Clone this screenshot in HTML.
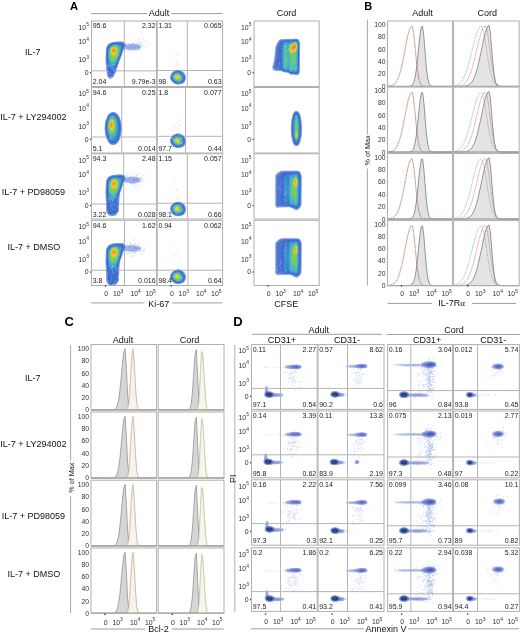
<!DOCTYPE html>
<html><head><meta charset="utf-8"><style>
html,body{margin:0;padding:0;background:#fff;}
body{width:520px;height:633px;overflow:hidden;}
svg{display:block;font-family:"Liberation Sans", sans-serif;will-change:transform;}
</style></head><body>
<svg width="520" height="633" viewBox="0 0 520 633">
<defs><filter id="jet" x="-30%" y="-30%" width="160%" height="160%" color-interpolation-filters="sRGB"><feGaussianBlur in="SourceAlpha" stdDeviation="1.0" result="d"/><feColorMatrix in="d" type="matrix" values="0 0 0 1 0 0 0 0 1 0 0 0 0 1 0 0 0 0 1 0"/><feComponentTransfer><feFuncR type="table" tableValues="1.000 0.794 0.588 0.523 0.458 0.392 0.341 0.312 0.282 0.253 0.235 0.233 0.231 0.230 0.228 0.230 0.234 0.238 0.243 0.247 0.251 0.308 0.365 0.423 0.480 0.543 0.629 0.716 0.803 0.889 0.941 0.941 0.941 0.941 0.941 0.931 0.920 0.910 0.899 0.889 0.878"/><feFuncG type="table" tableValues="1.000 0.837 0.675 0.623 0.572 0.521 0.480 0.456 0.431 0.407 0.405 0.438 0.471 0.503 0.536 0.568 0.598 0.629 0.660 0.691 0.722 0.738 0.754 0.771 0.787 0.801 0.804 0.807 0.810 0.814 0.787 0.716 0.645 0.573 0.502 0.446 0.390 0.333 0.277 0.221 0.165"/><feFuncB type="table" tableValues="1.000 0.955 0.910 0.891 0.873 0.854 0.838 0.825 0.813 0.800 0.797 0.808 0.820 0.831 0.842 0.840 0.829 0.818 0.807 0.796 0.784 0.690 0.596 0.502 0.408 0.327 0.297 0.267 0.237 0.206 0.183 0.168 0.154 0.140 0.125 0.118 0.110 0.102 0.094 0.086 0.078"/><feFuncA type="table" tableValues="0.000 0.125 0.750 1.000 1.000 1.000 1.000 1.000 1.000 1.000 1.000 1.000 1.000 1.000 1.000 1.000 1.000 1.000 1.000 1.000 1.000 1.000 1.000 1.000 1.000 1.000 1.000 1.000 1.000 1.000 1.000 1.000 1.000 1.000 1.000 1.000 1.000 1.000 1.000 1.000 1.000"/></feComponentTransfer></filter><filter id="dmap" x="-30%" y="-30%" width="160%" height="160%" color-interpolation-filters="sRGB"><feGaussianBlur in="SourceAlpha" stdDeviation="0.8" result="d"/><feColorMatrix in="d" type="matrix" values="0 0 0 1 0 0 0 0 1 0 0 0 0 1 0 0 0 0 1 0"/><feComponentTransfer><feFuncR type="table" tableValues="1.000 0.890 0.779 0.669 0.619 0.585 0.550 0.516 0.481 0.446 0.412 0.384 0.356 0.327 0.299 0.271 0.243 0.218 0.192 0.167 0.141 0.133 0.125 0.118 0.110 0.126 0.142 0.159 0.175 0.198 0.244 0.291 0.338 0.385 0.431 0.484 0.536 0.588 0.641 0.693 0.745"/><feFuncG type="table" tableValues="1.000 0.906 0.811 0.717 0.674 0.643 0.612 0.582 0.551 0.521 0.490 0.462 0.434 0.406 0.378 0.350 0.322 0.296 0.271 0.245 0.220 0.220 0.220 0.220 0.220 0.270 0.321 0.372 0.422 0.472 0.519 0.566 0.612 0.659 0.706 0.735 0.765 0.794 0.824 0.853 0.882"/><feFuncB type="table" tableValues="1.000 0.967 0.934 0.901 0.884 0.870 0.857 0.844 0.830 0.817 0.804 0.782 0.761 0.739 0.718 0.696 0.675 0.631 0.588 0.545 0.502 0.473 0.443 0.414 0.384 0.409 0.433 0.458 0.482 0.510 0.549 0.588 0.627 0.667 0.706 0.732 0.758 0.784 0.810 0.837 0.863"/><feFuncA type="table" tableValues="0.000 0.063 0.375 0.687 1.000 1.000 1.000 1.000 1.000 1.000 1.000 1.000 1.000 1.000 1.000 1.000 1.000 1.000 1.000 1.000 1.000 1.000 1.000 1.000 1.000 1.000 1.000 1.000 1.000 1.000 1.000 1.000 1.000 1.000 1.000 1.000 1.000 1.000 1.000 1.000 1.000"/></feComponentTransfer></filter></defs>
<text x="70.00" y="9.60" font-size="11.2" text-anchor="start" font-weight="bold" fill="#000" >A</text>
<text x="159.00" y="16.20" font-size="9" text-anchor="middle" font-weight="normal" fill="#111" >Adult</text>
<line x1="91.20" y1="13.60" x2="147.30" y2="13.60" stroke="#9c9c9c" stroke-width="1" />
<line x1="171.20" y1="13.60" x2="222.40" y2="13.60" stroke="#9c9c9c" stroke-width="1" />
<text x="286.50" y="16.20" font-size="9" text-anchor="middle" font-weight="normal" fill="#111" >Cord</text>
<line x1="124.30" y1="21.00" x2="124.30" y2="86.50" stroke="#b4b4b4" stroke-width="1" />
<line x1="91.50" y1="70.90" x2="156.60" y2="70.90" stroke="#b4b4b4" stroke-width="1" />
<line x1="187.30" y1="21.00" x2="187.30" y2="86.50" stroke="#b4b4b4" stroke-width="1" />
<line x1="157.20" y1="70.50" x2="222.60" y2="70.50" stroke="#b4b4b4" stroke-width="1" />
<line x1="121.70" y1="87.50" x2="121.70" y2="153.00" stroke="#b4b4b4" stroke-width="1" />
<line x1="91.50" y1="137.00" x2="156.60" y2="137.00" stroke="#b4b4b4" stroke-width="1" />
<line x1="185.50" y1="87.50" x2="185.50" y2="153.00" stroke="#b4b4b4" stroke-width="1" />
<line x1="157.20" y1="136.30" x2="222.60" y2="136.30" stroke="#b4b4b4" stroke-width="1" />
<line x1="123.70" y1="153.80" x2="123.70" y2="219.00" stroke="#b4b4b4" stroke-width="1" />
<line x1="91.50" y1="204.00" x2="156.60" y2="204.00" stroke="#b4b4b4" stroke-width="1" />
<line x1="187.40" y1="153.80" x2="187.40" y2="219.00" stroke="#b4b4b4" stroke-width="1" />
<line x1="157.20" y1="203.20" x2="222.60" y2="203.20" stroke="#b4b4b4" stroke-width="1" />
<line x1="124.50" y1="220.30" x2="124.50" y2="285.50" stroke="#b4b4b4" stroke-width="1" />
<line x1="91.50" y1="270.20" x2="156.60" y2="270.20" stroke="#b4b4b4" stroke-width="1" />
<line x1="188.00" y1="220.30" x2="188.00" y2="285.50" stroke="#b4b4b4" stroke-width="1" />
<line x1="157.20" y1="270.20" x2="222.60" y2="270.20" stroke="#b4b4b4" stroke-width="1" />
<text x="32.80" y="54.70" font-size="9" text-anchor="middle" font-weight="normal" fill="#111" >IL-7</text>
<text x="33.40" y="120.00" font-size="9" text-anchor="middle" font-weight="normal" fill="#111" >IL-7 + LY294002</text>
<text x="33.40" y="195.00" font-size="9" text-anchor="middle" font-weight="normal" fill="#111" >IL-7 + PD98059</text>
<text x="34.00" y="249.90" font-size="9" text-anchor="middle" font-weight="normal" fill="#111" >IL-7 + DMSO</text>
<g filter="url(#jet)" fill="#000"><path d="M107.0,48.0 109.0,44.5 113.0,43.0 120.0,42.5 124.5,43.0 123.5,47.0 122.2,50.0 120.6,55.0 118.6,60.0 117.0,65.0 115.6,70.0 113.3,75.0 110.5,78.5 108.3,76.0 107.3,70.0 106.6,60.0Z" fill-opacity="0.28"/><path d="M108.5,50.0 111.0,46.0 118.0,45.0 122.0,46.0 120.0,55.0 117.0,63.0 113.0,68.0 109.0,66.0Z" fill-opacity="0.25"/><ellipse cx="113.80" cy="53.00" rx="5.20" ry="9.00" fill-opacity="0.3" transform="rotate(12 113.80 53.00)"/><ellipse cx="113.90" cy="51.00" rx="3.20" ry="4.50" fill-opacity="0.35"/><ellipse cx="114.00" cy="50.50" rx="1.50" ry="2.00" fill-opacity="0.5"/><ellipse cx="132.00" cy="47.00" rx="10.00" ry="4.00" fill-opacity="0.06"/></g>
<path d="M109.9 65.6h0.8v0.8h-0.8zM113.8 64.2h0.8v0.8h-0.8zM112.4 69.2h0.8v0.8h-0.8zM106.7 71.6h0.8v0.8h-0.8zM106.4 70.4h0.8v0.8h-0.8zM106.8 64.5h0.8v0.8h-0.8zM111.1 77.1h0.8v0.8h-0.8zM107.5 66.8h0.8v0.8h-0.8zM113.5 79.1h0.8v0.8h-0.8zM112.9 69.7h0.8v0.8h-0.8zM117.7 63.8h0.8v0.8h-0.8zM116.3 67.9h0.8v0.8h-0.8zM107.7 65.0h0.8v0.8h-0.8zM109.7 76.9h0.8v0.8h-0.8zM108.2 72.9h0.8v0.8h-0.8zM113.7 69.3h0.8v0.8h-0.8zM112.6 64.1h0.8v0.8h-0.8zM106.7 66.5h0.8v0.8h-0.8zM114.2 70.3h0.8v0.8h-0.8zM109.8 73.0h0.8v0.8h-0.8zM111.4 68.1h0.8v0.8h-0.8zM115.5 74.9h0.8v0.8h-0.8zM108.9 72.8h0.8v0.8h-0.8zM112.3 77.9h0.8v0.8h-0.8zM114.8 67.9h0.8v0.8h-0.8zM117.8 65.0h0.8v0.8h-0.8zM111.0 75.9h0.8v0.8h-0.8zM107.8 71.3h0.8v0.8h-0.8zM106.5 74.4h0.8v0.8h-0.8zM115.2 72.7h0.8v0.8h-0.8zM116.5 68.3h0.8v0.8h-0.8zM114.3 73.1h0.8v0.8h-0.8zM113.0 70.8h0.8v0.8h-0.8zM116.1 79.1h0.8v0.8h-0.8zM111.7 74.3h0.8v0.8h-0.8zM106.7 74.9h0.8v0.8h-0.8zM113.8 79.9h0.8v0.8h-0.8zM115.9 67.8h0.8v0.8h-0.8zM110.6 74.4h0.8v0.8h-0.8zM106.3 70.8h0.8v0.8h-0.8zM108.0 65.0h0.8v0.8h-0.8zM106.7 76.1h0.8v0.8h-0.8zM107.6 67.2h0.8v0.8h-0.8zM110.7 77.8h0.8v0.8h-0.8zM107.0 70.6h0.8v0.8h-0.8z" fill="#ffffff" opacity="0.45"/>
<path d="M122.1 44.0h0.8v0.8h-0.8zM137.6 41.2h0.8v0.8h-0.8zM132.0 47.9h0.8v0.8h-0.8zM125.8 49.4h0.8v0.8h-0.8zM136.0 45.1h0.8v0.8h-0.8zM134.8 47.1h0.8v0.8h-0.8zM133.7 48.2h0.8v0.8h-0.8zM129.4 44.5h0.8v0.8h-0.8zM138.7 45.6h0.8v0.8h-0.8zM128.2 47.8h0.8v0.8h-0.8zM141.1 44.4h0.8v0.8h-0.8zM125.4 45.2h0.8v0.8h-0.8zM132.2 44.8h0.8v0.8h-0.8zM140.7 43.0h0.8v0.8h-0.8zM139.9 42.5h0.8v0.8h-0.8zM128.7 47.0h0.8v0.8h-0.8zM139.2 47.6h0.8v0.8h-0.8zM134.9 45.8h0.8v0.8h-0.8zM133.8 46.9h0.8v0.8h-0.8zM132.0 46.2h0.8v0.8h-0.8zM136.1 45.5h0.8v0.8h-0.8zM137.2 46.9h0.8v0.8h-0.8zM144.1 46.3h0.8v0.8h-0.8zM130.6 44.6h0.8v0.8h-0.8zM132.9 47.7h0.8v0.8h-0.8zM131.1 46.4h0.8v0.8h-0.8zM143.1 39.3h0.8v0.8h-0.8zM126.8 46.1h0.8v0.8h-0.8zM135.2 46.1h0.8v0.8h-0.8zM130.6 47.1h0.8v0.8h-0.8zM134.6 44.2h0.8v0.8h-0.8zM146.4 46.4h0.8v0.8h-0.8zM130.0 45.3h0.8v0.8h-0.8zM131.8 45.3h0.8v0.8h-0.8zM118.0 44.3h0.8v0.8h-0.8zM138.5 42.7h0.8v0.8h-0.8zM132.6 47.8h0.8v0.8h-0.8zM137.7 49.1h0.8v0.8h-0.8zM123.6 44.7h0.8v0.8h-0.8zM131.1 47.0h0.8v0.8h-0.8zM139.0 39.1h0.8v0.8h-0.8zM139.0 42.0h0.8v0.8h-0.8zM136.8 41.9h0.8v0.8h-0.8zM134.0 48.4h0.8v0.8h-0.8zM132.2 46.0h0.8v0.8h-0.8zM137.4 45.8h0.8v0.8h-0.8zM132.5 49.2h0.8v0.8h-0.8zM138.8 44.8h0.8v0.8h-0.8zM148.1 42.7h0.8v0.8h-0.8zM138.0 44.9h0.8v0.8h-0.8zM133.7 47.2h0.8v0.8h-0.8zM134.2 47.0h0.8v0.8h-0.8zM124.6 41.9h0.8v0.8h-0.8zM136.4 43.2h0.8v0.8h-0.8zM127.4 42.0h0.8v0.8h-0.8zM140.0 47.3h0.8v0.8h-0.8zM141.1 43.2h0.8v0.8h-0.8zM133.0 42.8h0.8v0.8h-0.8zM137.2 49.3h0.8v0.8h-0.8zM128.1 49.2h0.8v0.8h-0.8zM138.4 45.1h0.8v0.8h-0.8zM122.2 48.9h0.8v0.8h-0.8zM132.5 44.1h0.8v0.8h-0.8zM135.2 46.5h0.8v0.8h-0.8zM141.2 43.1h0.8v0.8h-0.8zM139.2 49.1h0.8v0.8h-0.8zM141.0 45.1h0.8v0.8h-0.8zM128.9 47.9h0.8v0.8h-0.8zM133.6 45.8h0.8v0.8h-0.8zM140.8 44.9h0.8v0.8h-0.8zM120.4 44.6h0.8v0.8h-0.8zM122.8 47.5h0.8v0.8h-0.8zM134.7 44.0h0.8v0.8h-0.8zM132.9 47.5h0.8v0.8h-0.8zM133.4 48.7h0.8v0.8h-0.8zM132.7 48.0h0.8v0.8h-0.8zM141.2 49.4h0.8v0.8h-0.8zM129.3 47.6h0.8v0.8h-0.8zM122.7 42.9h0.8v0.8h-0.8zM122.2 48.1h0.8v0.8h-0.8zM126.2 45.5h0.8v0.8h-0.8zM131.9 45.4h0.8v0.8h-0.8zM129.7 46.1h0.8v0.8h-0.8zM142.9 45.6h0.8v0.8h-0.8zM135.9 47.9h0.8v0.8h-0.8zM131.9 42.5h0.8v0.8h-0.8zM129.9 48.1h0.8v0.8h-0.8zM123.9 44.1h0.8v0.8h-0.8zM138.5 47.4h0.8v0.8h-0.8zM133.0 47.4h0.8v0.8h-0.8zM133.9 42.7h0.8v0.8h-0.8zM124.4 44.0h0.8v0.8h-0.8zM138.1 44.1h0.8v0.8h-0.8zM128.0 43.6h0.8v0.8h-0.8zM124.6 45.2h0.8v0.8h-0.8zM126.5 46.4h0.8v0.8h-0.8zM120.0 46.3h0.8v0.8h-0.8zM129.5 40.8h0.8v0.8h-0.8zM137.0 44.8h0.8v0.8h-0.8zM120.7 43.4h0.8v0.8h-0.8zM134.6 44.4h0.8v0.8h-0.8zM137.3 47.3h0.8v0.8h-0.8zM136.7 46.3h0.8v0.8h-0.8zM140.3 47.1h0.8v0.8h-0.8zM135.5 40.5h0.8v0.8h-0.8zM137.9 48.6h0.8v0.8h-0.8zM131.4 44.4h0.8v0.8h-0.8zM143.7 41.3h0.8v0.8h-0.8zM135.6 51.3h0.8v0.8h-0.8zM127.9 47.2h0.8v0.8h-0.8z" fill="#5a7ad8" opacity="0.4"/>
<g filter="url(#jet)" fill="#000"><ellipse cx="178.00" cy="77.30" rx="6.80" ry="6.20" fill-opacity="0.3"/><ellipse cx="180.50" cy="79.80" rx="4.00" ry="3.00" fill-opacity="0.15"/><ellipse cx="177.50" cy="77.10" rx="5.00" ry="4.50" fill-opacity="0.3"/><ellipse cx="177.00" cy="76.90" rx="3.20" ry="3.00" fill-opacity="0.3"/><ellipse cx="176.80" cy="76.80" rx="1.80" ry="1.80" fill-opacity="0.4"/></g>
<path d="M184.9 81.3h0.8v0.8h-0.8zM173.3 76.5h0.8v0.8h-0.8zM178.2 75.4h0.8v0.8h-0.8zM173.7 75.1h0.8v0.8h-0.8zM181.1 71.5h0.8v0.8h-0.8zM178.8 76.6h0.8v0.8h-0.8zM171.3 75.3h0.8v0.8h-0.8zM179.7 77.4h0.8v0.8h-0.8zM171.9 83.1h0.8v0.8h-0.8zM182.0 83.0h0.8v0.8h-0.8zM172.5 74.5h0.8v0.8h-0.8zM171.6 80.6h0.8v0.8h-0.8zM174.8 72.9h0.8v0.8h-0.8zM176.9 82.2h0.8v0.8h-0.8zM182.5 74.4h0.8v0.8h-0.8zM173.1 82.3h0.8v0.8h-0.8zM179.0 79.7h0.8v0.8h-0.8zM172.3 72.0h0.8v0.8h-0.8zM180.6 76.4h0.8v0.8h-0.8zM172.0 82.6h0.8v0.8h-0.8zM179.9 80.9h0.8v0.8h-0.8zM172.2 81.6h0.8v0.8h-0.8zM171.9 81.7h0.8v0.8h-0.8zM177.4 75.4h0.8v0.8h-0.8zM178.7 82.4h0.8v0.8h-0.8z" fill="#ffffff" opacity="0.4"/>
<path d="M175.9 65.0h0.7v0.7h-0.7zM174.2 60.4h0.7v0.7h-0.7zM177.1 63.9h0.7v0.7h-0.7zM177.6 62.8h0.7v0.7h-0.7zM175.2 66.8h0.7v0.7h-0.7zM176.1 55.5h0.7v0.7h-0.7zM174.4 61.3h0.7v0.7h-0.7zM175.7 62.4h0.7v0.7h-0.7zM176.0 62.5h0.7v0.7h-0.7zM175.7 52.5h0.7v0.7h-0.7zM177.1 68.7h0.7v0.7h-0.7zM177.1 60.0h0.7v0.7h-0.7zM177.1 54.5h0.7v0.7h-0.7zM171.3 61.7h0.7v0.7h-0.7zM173.7 66.5h0.7v0.7h-0.7zM173.3 42.9h0.7v0.7h-0.7zM173.4 72.3h0.7v0.7h-0.7zM175.0 51.7h0.7v0.7h-0.7zM174.1 64.9h0.7v0.7h-0.7zM177.2 62.5h0.7v0.7h-0.7zM179.7 66.2h0.7v0.7h-0.7zM175.9 65.5h0.7v0.7h-0.7zM180.1 68.1h0.7v0.7h-0.7zM178.6 53.7h0.7v0.7h-0.7zM175.6 66.4h0.7v0.7h-0.7z" fill="#7090e0" opacity="0.35"/>
<g filter="url(#jet)" fill="#000"><ellipse cx="113.20" cy="128.50" rx="7.50" ry="15.50" fill-opacity="0.3"/><ellipse cx="112.60" cy="127.00" rx="5.20" ry="12.50" fill-opacity="0.25"/><ellipse cx="112.00" cy="126.00" rx="3.80" ry="9.00" fill-opacity="0.3"/><ellipse cx="111.50" cy="125.30" rx="2.40" ry="5.00" fill-opacity="0.35"/><ellipse cx="111.30" cy="125.00" rx="1.30" ry="2.60" fill-opacity="0.5"/></g>
<path d="M109.7 139.1h0.8v0.8h-0.8zM107.5 138.9h0.8v0.8h-0.8zM109.2 144.6h0.8v0.8h-0.8zM120.6 140.0h0.8v0.8h-0.8zM108.9 144.6h0.8v0.8h-0.8zM110.0 137.9h0.8v0.8h-0.8zM105.0 138.2h0.8v0.8h-0.8zM112.6 139.5h0.8v0.8h-0.8zM108.2 139.6h0.8v0.8h-0.8zM105.1 136.9h0.8v0.8h-0.8zM106.4 138.4h0.8v0.8h-0.8zM105.7 134.2h0.8v0.8h-0.8zM109.9 136.6h0.8v0.8h-0.8zM114.4 139.8h0.8v0.8h-0.8zM117.0 141.2h0.8v0.8h-0.8zM116.5 143.7h0.8v0.8h-0.8zM111.2 137.6h0.8v0.8h-0.8zM120.8 135.6h0.8v0.8h-0.8zM116.6 141.1h0.8v0.8h-0.8zM105.7 143.2h0.8v0.8h-0.8zM119.3 140.9h0.8v0.8h-0.8zM116.7 142.9h0.8v0.8h-0.8zM107.2 139.8h0.8v0.8h-0.8zM113.1 143.2h0.8v0.8h-0.8zM117.9 143.1h0.8v0.8h-0.8z" fill="#ffffff" opacity="0.4"/>
<g filter="url(#jet)" fill="#000"><ellipse cx="178.00" cy="140.80" rx="6.80" ry="6.20" fill-opacity="0.3"/><ellipse cx="180.50" cy="143.30" rx="4.00" ry="3.00" fill-opacity="0.15"/><ellipse cx="177.50" cy="140.60" rx="5.00" ry="4.50" fill-opacity="0.3"/><ellipse cx="177.00" cy="140.40" rx="3.20" ry="3.00" fill-opacity="0.3"/><ellipse cx="176.80" cy="140.30" rx="1.80" ry="1.80" fill-opacity="0.4"/></g>
<path d="M179.2 145.5h0.8v0.8h-0.8zM180.6 143.1h0.8v0.8h-0.8zM174.2 135.2h0.8v0.8h-0.8zM172.9 139.1h0.8v0.8h-0.8zM172.5 144.8h0.8v0.8h-0.8zM178.8 142.3h0.8v0.8h-0.8zM179.8 143.0h0.8v0.8h-0.8zM177.9 134.8h0.8v0.8h-0.8zM182.2 143.8h0.8v0.8h-0.8zM178.0 141.2h0.8v0.8h-0.8zM180.2 135.6h0.8v0.8h-0.8zM181.3 137.8h0.8v0.8h-0.8zM172.0 138.0h0.8v0.8h-0.8zM181.2 137.3h0.8v0.8h-0.8zM181.4 146.5h0.8v0.8h-0.8zM177.9 139.4h0.8v0.8h-0.8zM177.7 143.0h0.8v0.8h-0.8zM181.7 142.2h0.8v0.8h-0.8zM180.0 135.7h0.8v0.8h-0.8zM173.1 137.8h0.8v0.8h-0.8zM181.4 138.5h0.8v0.8h-0.8zM178.9 134.9h0.8v0.8h-0.8zM171.8 138.0h0.8v0.8h-0.8zM180.4 143.1h0.8v0.8h-0.8zM180.5 138.3h0.8v0.8h-0.8z" fill="#ffffff" opacity="0.4"/>
<path d="M173.2 124.0h0.7v0.7h-0.7zM174.8 125.5h0.7v0.7h-0.7zM177.3 121.9h0.7v0.7h-0.7zM181.8 122.5h0.7v0.7h-0.7zM178.8 125.7h0.7v0.7h-0.7zM178.8 108.2h0.7v0.7h-0.7zM174.1 126.5h0.7v0.7h-0.7zM177.5 141.2h0.7v0.7h-0.7zM176.8 133.8h0.7v0.7h-0.7zM177.9 131.4h0.7v0.7h-0.7zM177.3 123.7h0.7v0.7h-0.7zM177.3 117.3h0.7v0.7h-0.7zM179.0 117.7h0.7v0.7h-0.7zM176.6 139.6h0.7v0.7h-0.7zM175.4 124.9h0.7v0.7h-0.7zM178.9 125.0h0.7v0.7h-0.7zM174.0 126.6h0.7v0.7h-0.7zM177.5 129.8h0.7v0.7h-0.7zM174.1 137.1h0.7v0.7h-0.7zM180.2 124.9h0.7v0.7h-0.7zM176.7 121.8h0.7v0.7h-0.7zM179.5 119.9h0.7v0.7h-0.7zM177.7 121.4h0.7v0.7h-0.7zM174.3 129.8h0.7v0.7h-0.7zM179.3 124.7h0.7v0.7h-0.7z" fill="#7090e0" opacity="0.35"/>
<g filter="url(#jet)" fill="#000"><path d="M107.0,181.0 109.0,177.5 113.0,176.0 120.0,175.5 124.5,176.0 123.5,180.0 122.2,183.0 120.6,188.0 118.8,193.0 118.3,198.0 118.2,203.0 117.8,211.0 115.5,214.5 110.0,215.5 107.5,212.0 107.0,203.0 106.6,193.0Z" fill-opacity="0.28"/><path d="M108.5,183.0 111.0,179.0 118.0,178.0 122.0,179.0 120.0,188.0 117.0,196.0 113.0,201.0 109.0,199.0Z" fill-opacity="0.25"/><ellipse cx="113.80" cy="186.00" rx="5.20" ry="9.00" fill-opacity="0.3" transform="rotate(12 113.80 186.00)"/><ellipse cx="113.90" cy="184.00" rx="3.20" ry="4.50" fill-opacity="0.35"/><ellipse cx="114.00" cy="183.50" rx="1.50" ry="2.00" fill-opacity="0.5"/><ellipse cx="132.00" cy="180.00" rx="10.00" ry="4.00" fill-opacity="0.06"/></g>
<path d="M110.3 204.6h0.8v0.8h-0.8zM109.3 197.0h0.8v0.8h-0.8zM107.2 212.7h0.8v0.8h-0.8zM109.4 214.7h0.8v0.8h-0.8zM109.0 201.3h0.8v0.8h-0.8zM112.1 199.8h0.8v0.8h-0.8zM110.5 215.1h0.8v0.8h-0.8zM116.6 212.2h0.8v0.8h-0.8zM113.6 214.3h0.8v0.8h-0.8zM117.3 207.0h0.8v0.8h-0.8zM114.6 197.0h0.8v0.8h-0.8zM114.8 205.0h0.8v0.8h-0.8zM115.0 208.9h0.8v0.8h-0.8zM109.4 197.0h0.8v0.8h-0.8zM117.1 198.5h0.8v0.8h-0.8zM111.7 202.9h0.8v0.8h-0.8zM109.6 210.8h0.8v0.8h-0.8zM117.7 201.2h0.8v0.8h-0.8zM113.9 202.0h0.8v0.8h-0.8zM112.7 203.9h0.8v0.8h-0.8zM108.0 199.2h0.8v0.8h-0.8zM108.5 214.1h0.8v0.8h-0.8zM112.0 200.4h0.8v0.8h-0.8zM116.9 215.9h0.8v0.8h-0.8zM111.4 198.8h0.8v0.8h-0.8zM108.3 197.8h0.8v0.8h-0.8zM110.1 197.8h0.8v0.8h-0.8zM108.9 201.2h0.8v0.8h-0.8zM112.8 213.7h0.8v0.8h-0.8zM115.0 204.3h0.8v0.8h-0.8zM111.0 206.5h0.8v0.8h-0.8zM110.5 202.8h0.8v0.8h-0.8zM106.7 201.6h0.8v0.8h-0.8zM117.6 198.5h0.8v0.8h-0.8zM112.0 208.6h0.8v0.8h-0.8zM116.4 200.3h0.8v0.8h-0.8zM109.3 201.0h0.8v0.8h-0.8zM110.8 204.9h0.8v0.8h-0.8zM117.4 213.0h0.8v0.8h-0.8zM116.5 196.4h0.8v0.8h-0.8zM106.4 210.2h0.8v0.8h-0.8zM116.7 205.5h0.8v0.8h-0.8zM113.0 196.0h0.8v0.8h-0.8zM110.7 214.5h0.8v0.8h-0.8zM115.9 213.1h0.8v0.8h-0.8z" fill="#ffffff" opacity="0.45"/>
<path d="M137.1 179.1h0.8v0.8h-0.8zM135.5 180.7h0.8v0.8h-0.8zM124.8 178.8h0.8v0.8h-0.8zM141.2 177.5h0.8v0.8h-0.8zM127.4 174.9h0.8v0.8h-0.8zM126.3 180.6h0.8v0.8h-0.8zM142.3 181.0h0.8v0.8h-0.8zM134.4 187.1h0.8v0.8h-0.8zM130.1 177.2h0.8v0.8h-0.8zM135.9 181.4h0.8v0.8h-0.8zM127.4 175.5h0.8v0.8h-0.8zM134.6 180.3h0.8v0.8h-0.8zM125.8 178.8h0.8v0.8h-0.8zM130.0 181.1h0.8v0.8h-0.8zM132.4 179.2h0.8v0.8h-0.8zM131.1 183.1h0.8v0.8h-0.8zM140.6 178.3h0.8v0.8h-0.8zM137.7 176.9h0.8v0.8h-0.8zM133.4 182.0h0.8v0.8h-0.8zM141.3 178.2h0.8v0.8h-0.8zM132.6 180.2h0.8v0.8h-0.8zM124.8 179.6h0.8v0.8h-0.8zM129.3 180.8h0.8v0.8h-0.8zM126.8 172.8h0.8v0.8h-0.8zM133.2 180.4h0.8v0.8h-0.8zM130.0 182.5h0.8v0.8h-0.8zM131.5 177.4h0.8v0.8h-0.8zM135.6 174.2h0.8v0.8h-0.8zM129.3 179.4h0.8v0.8h-0.8zM137.7 178.9h0.8v0.8h-0.8zM134.7 177.3h0.8v0.8h-0.8zM134.7 185.2h0.8v0.8h-0.8zM129.2 187.5h0.8v0.8h-0.8zM129.5 179.6h0.8v0.8h-0.8zM134.0 183.0h0.8v0.8h-0.8zM126.2 172.4h0.8v0.8h-0.8zM136.3 182.2h0.8v0.8h-0.8zM136.4 188.4h0.8v0.8h-0.8zM134.1 180.4h0.8v0.8h-0.8zM138.1 180.8h0.8v0.8h-0.8zM142.2 175.3h0.8v0.8h-0.8zM130.9 167.8h0.8v0.8h-0.8zM137.5 178.2h0.8v0.8h-0.8zM138.1 186.8h0.8v0.8h-0.8zM133.0 178.6h0.8v0.8h-0.8zM130.3 176.7h0.8v0.8h-0.8zM129.5 181.7h0.8v0.8h-0.8zM133.2 179.7h0.8v0.8h-0.8zM132.0 182.6h0.8v0.8h-0.8zM135.7 179.0h0.8v0.8h-0.8zM136.7 179.0h0.8v0.8h-0.8zM126.7 184.4h0.8v0.8h-0.8zM135.6 176.2h0.8v0.8h-0.8zM138.9 180.7h0.8v0.8h-0.8zM124.4 185.0h0.8v0.8h-0.8zM134.8 182.5h0.8v0.8h-0.8zM134.1 179.0h0.8v0.8h-0.8zM124.5 182.8h0.8v0.8h-0.8zM133.2 178.5h0.8v0.8h-0.8zM134.9 179.8h0.8v0.8h-0.8zM136.7 178.2h0.8v0.8h-0.8zM132.8 172.2h0.8v0.8h-0.8zM130.7 181.8h0.8v0.8h-0.8zM140.4 178.3h0.8v0.8h-0.8zM132.3 184.9h0.8v0.8h-0.8zM131.2 182.0h0.8v0.8h-0.8zM142.2 179.6h0.8v0.8h-0.8zM139.7 177.1h0.8v0.8h-0.8zM134.1 179.2h0.8v0.8h-0.8zM133.6 183.3h0.8v0.8h-0.8zM146.1 177.2h0.8v0.8h-0.8zM129.8 181.2h0.8v0.8h-0.8zM127.2 181.2h0.8v0.8h-0.8zM136.1 178.6h0.8v0.8h-0.8zM135.9 174.2h0.8v0.8h-0.8zM137.2 174.2h0.8v0.8h-0.8zM129.2 177.6h0.8v0.8h-0.8zM130.8 182.4h0.8v0.8h-0.8zM133.4 178.1h0.8v0.8h-0.8zM136.0 184.9h0.8v0.8h-0.8zM133.0 180.7h0.8v0.8h-0.8zM139.8 180.4h0.8v0.8h-0.8zM125.9 188.0h0.8v0.8h-0.8zM145.1 172.8h0.8v0.8h-0.8zM132.8 180.9h0.8v0.8h-0.8zM138.3 181.8h0.8v0.8h-0.8zM131.5 175.9h0.8v0.8h-0.8zM133.6 183.0h0.8v0.8h-0.8zM127.0 176.0h0.8v0.8h-0.8zM132.9 172.9h0.8v0.8h-0.8zM131.6 178.0h0.8v0.8h-0.8zM135.5 177.1h0.8v0.8h-0.8zM128.1 178.2h0.8v0.8h-0.8zM132.7 177.2h0.8v0.8h-0.8zM133.1 182.1h0.8v0.8h-0.8zM139.5 185.3h0.8v0.8h-0.8zM128.7 178.1h0.8v0.8h-0.8zM119.3 186.0h0.8v0.8h-0.8zM129.0 179.4h0.8v0.8h-0.8zM135.9 174.9h0.8v0.8h-0.8zM135.6 179.4h0.8v0.8h-0.8zM123.0 180.5h0.8v0.8h-0.8zM139.6 173.1h0.8v0.8h-0.8zM137.4 180.2h0.8v0.8h-0.8zM135.6 181.0h0.8v0.8h-0.8zM140.2 178.7h0.8v0.8h-0.8zM137.8 178.1h0.8v0.8h-0.8zM137.0 176.7h0.8v0.8h-0.8zM132.4 185.4h0.8v0.8h-0.8zM135.5 179.0h0.8v0.8h-0.8z" fill="#5a7ad8" opacity="0.4"/>
<g filter="url(#jet)" fill="#000"><ellipse cx="178.00" cy="209.00" rx="6.80" ry="6.20" fill-opacity="0.3"/><ellipse cx="180.50" cy="211.50" rx="4.00" ry="3.00" fill-opacity="0.15"/><ellipse cx="177.50" cy="208.80" rx="5.00" ry="4.50" fill-opacity="0.3"/><ellipse cx="177.00" cy="208.60" rx="3.20" ry="3.00" fill-opacity="0.3"/><ellipse cx="176.80" cy="208.50" rx="1.80" ry="1.80" fill-opacity="0.4"/></g>
<path d="M179.3 210.4h0.8v0.8h-0.8zM174.0 207.4h0.8v0.8h-0.8zM173.0 205.4h0.8v0.8h-0.8zM174.6 210.2h0.8v0.8h-0.8zM180.1 205.4h0.8v0.8h-0.8zM171.2 206.9h0.8v0.8h-0.8zM180.5 205.2h0.8v0.8h-0.8zM175.4 205.4h0.8v0.8h-0.8zM182.1 209.6h0.8v0.8h-0.8zM171.9 204.2h0.8v0.8h-0.8zM176.5 209.6h0.8v0.8h-0.8zM179.9 204.1h0.8v0.8h-0.8zM173.3 211.3h0.8v0.8h-0.8zM176.7 206.4h0.8v0.8h-0.8zM175.3 214.4h0.8v0.8h-0.8zM175.4 209.8h0.8v0.8h-0.8zM176.0 208.0h0.8v0.8h-0.8zM183.1 215.0h0.8v0.8h-0.8zM176.1 205.4h0.8v0.8h-0.8zM181.2 205.4h0.8v0.8h-0.8zM171.1 213.8h0.8v0.8h-0.8zM176.9 212.8h0.8v0.8h-0.8zM176.7 213.6h0.8v0.8h-0.8zM177.5 205.0h0.8v0.8h-0.8zM171.2 209.6h0.8v0.8h-0.8z" fill="#ffffff" opacity="0.4"/>
<path d="M172.5 181.1h0.7v0.7h-0.7zM179.0 198.2h0.7v0.7h-0.7zM174.0 199.0h0.7v0.7h-0.7zM177.2 197.5h0.7v0.7h-0.7zM170.4 190.9h0.7v0.7h-0.7zM178.3 198.1h0.7v0.7h-0.7zM178.2 175.8h0.7v0.7h-0.7zM176.4 196.4h0.7v0.7h-0.7zM182.4 186.3h0.7v0.7h-0.7zM175.2 193.3h0.7v0.7h-0.7zM178.2 189.9h0.7v0.7h-0.7zM178.9 187.5h0.7v0.7h-0.7zM176.7 189.3h0.7v0.7h-0.7zM176.4 188.2h0.7v0.7h-0.7zM172.0 200.7h0.7v0.7h-0.7zM176.8 189.1h0.7v0.7h-0.7zM176.5 199.9h0.7v0.7h-0.7zM173.6 192.2h0.7v0.7h-0.7zM177.3 196.7h0.7v0.7h-0.7zM175.2 178.3h0.7v0.7h-0.7zM179.1 195.3h0.7v0.7h-0.7zM176.0 191.1h0.7v0.7h-0.7zM176.7 190.0h0.7v0.7h-0.7zM173.4 187.8h0.7v0.7h-0.7zM174.5 188.7h0.7v0.7h-0.7z" fill="#7090e0" opacity="0.35"/>
<g filter="url(#jet)" fill="#000"><path d="M107.0,249.5 109.0,246.0 113.0,244.5 120.0,244.0 124.5,244.5 123.5,248.5 122.2,251.5 120.6,256.5 118.8,261.5 118.3,266.5 118.2,271.5 117.8,280.5 115.5,284.0 110.0,285.0 107.5,281.5 107.0,271.5 106.6,261.5Z" fill-opacity="0.28"/><path d="M108.5,251.5 111.0,247.5 118.0,246.5 122.0,247.5 120.0,256.5 117.0,264.5 113.0,269.5 109.0,267.5Z" fill-opacity="0.25"/><ellipse cx="113.80" cy="254.50" rx="5.20" ry="9.00" fill-opacity="0.3" transform="rotate(12 113.80 254.50)"/><ellipse cx="113.90" cy="252.50" rx="3.20" ry="4.50" fill-opacity="0.35"/><ellipse cx="114.00" cy="252.00" rx="1.50" ry="2.00" fill-opacity="0.5"/><ellipse cx="132.00" cy="248.50" rx="10.00" ry="4.00" fill-opacity="0.06"/></g>
<path d="M111.0 276.7h0.8v0.8h-0.8zM111.1 278.3h0.8v0.8h-0.8zM111.4 273.7h0.8v0.8h-0.8zM106.3 277.5h0.8v0.8h-0.8zM111.9 269.4h0.8v0.8h-0.8zM115.2 280.9h0.8v0.8h-0.8zM111.5 268.3h0.8v0.8h-0.8zM111.7 266.7h0.8v0.8h-0.8zM107.5 273.5h0.8v0.8h-0.8zM107.1 273.8h0.8v0.8h-0.8zM112.1 265.4h0.8v0.8h-0.8zM113.6 266.2h0.8v0.8h-0.8zM114.8 280.8h0.8v0.8h-0.8zM112.1 265.6h0.8v0.8h-0.8zM112.0 272.4h0.8v0.8h-0.8zM117.4 267.4h0.8v0.8h-0.8zM116.3 285.4h0.8v0.8h-0.8zM114.8 281.6h0.8v0.8h-0.8zM108.3 285.1h0.8v0.8h-0.8zM111.9 284.6h0.8v0.8h-0.8zM117.0 268.0h0.8v0.8h-0.8zM115.5 284.0h0.8v0.8h-0.8zM106.8 271.9h0.8v0.8h-0.8zM115.1 267.8h0.8v0.8h-0.8zM116.8 270.3h0.8v0.8h-0.8zM115.8 267.5h0.8v0.8h-0.8zM112.0 283.8h0.8v0.8h-0.8zM108.5 270.0h0.8v0.8h-0.8zM112.1 271.2h0.8v0.8h-0.8zM106.4 268.3h0.8v0.8h-0.8zM107.9 284.2h0.8v0.8h-0.8zM114.2 283.3h0.8v0.8h-0.8zM108.0 281.0h0.8v0.8h-0.8zM107.4 275.6h0.8v0.8h-0.8zM113.6 272.1h0.8v0.8h-0.8zM116.5 276.2h0.8v0.8h-0.8zM113.0 283.0h0.8v0.8h-0.8zM107.3 285.4h0.8v0.8h-0.8zM113.6 272.8h0.8v0.8h-0.8zM115.6 270.1h0.8v0.8h-0.8zM117.9 276.6h0.8v0.8h-0.8zM110.3 280.6h0.8v0.8h-0.8zM111.3 268.2h0.8v0.8h-0.8zM114.9 265.5h0.8v0.8h-0.8zM115.8 269.8h0.8v0.8h-0.8z" fill="#ffffff" opacity="0.45"/>
<path d="M122.9 240.5h0.8v0.8h-0.8zM126.0 245.4h0.8v0.8h-0.8zM132.9 248.2h0.8v0.8h-0.8zM136.1 248.4h0.8v0.8h-0.8zM128.6 245.6h0.8v0.8h-0.8zM121.3 247.4h0.8v0.8h-0.8zM135.7 249.8h0.8v0.8h-0.8zM132.3 247.4h0.8v0.8h-0.8zM138.1 248.1h0.8v0.8h-0.8zM137.1 250.0h0.8v0.8h-0.8zM134.2 252.4h0.8v0.8h-0.8zM129.9 246.8h0.8v0.8h-0.8zM128.6 245.3h0.8v0.8h-0.8zM141.6 254.0h0.8v0.8h-0.8zM133.1 249.9h0.8v0.8h-0.8zM139.5 250.7h0.8v0.8h-0.8zM139.6 243.7h0.8v0.8h-0.8zM129.5 249.5h0.8v0.8h-0.8zM140.9 248.4h0.8v0.8h-0.8zM128.3 246.8h0.8v0.8h-0.8zM129.4 245.1h0.8v0.8h-0.8zM141.3 245.9h0.8v0.8h-0.8zM133.1 255.4h0.8v0.8h-0.8zM139.5 249.1h0.8v0.8h-0.8zM129.6 249.4h0.8v0.8h-0.8zM141.9 250.1h0.8v0.8h-0.8zM139.9 248.3h0.8v0.8h-0.8zM135.8 247.3h0.8v0.8h-0.8zM135.3 252.4h0.8v0.8h-0.8zM125.1 247.8h0.8v0.8h-0.8zM134.3 246.1h0.8v0.8h-0.8zM131.3 250.7h0.8v0.8h-0.8zM144.0 250.1h0.8v0.8h-0.8zM134.8 242.7h0.8v0.8h-0.8zM143.6 248.3h0.8v0.8h-0.8zM132.8 244.2h0.8v0.8h-0.8zM132.7 244.3h0.8v0.8h-0.8zM133.4 249.6h0.8v0.8h-0.8zM133.2 249.0h0.8v0.8h-0.8zM128.3 252.9h0.8v0.8h-0.8zM129.4 241.8h0.8v0.8h-0.8zM132.0 245.4h0.8v0.8h-0.8zM127.4 246.8h0.8v0.8h-0.8zM134.6 244.0h0.8v0.8h-0.8zM132.2 252.9h0.8v0.8h-0.8zM136.8 247.5h0.8v0.8h-0.8zM133.7 247.6h0.8v0.8h-0.8zM132.7 250.5h0.8v0.8h-0.8zM132.5 239.8h0.8v0.8h-0.8zM132.9 245.0h0.8v0.8h-0.8zM136.6 245.9h0.8v0.8h-0.8zM133.8 255.4h0.8v0.8h-0.8zM127.2 244.2h0.8v0.8h-0.8zM125.2 239.9h0.8v0.8h-0.8zM122.7 249.2h0.8v0.8h-0.8zM129.5 241.6h0.8v0.8h-0.8zM124.8 250.1h0.8v0.8h-0.8zM128.7 246.8h0.8v0.8h-0.8zM134.8 252.6h0.8v0.8h-0.8zM143.7 251.5h0.8v0.8h-0.8zM133.8 248.6h0.8v0.8h-0.8zM142.9 252.9h0.8v0.8h-0.8zM131.3 249.6h0.8v0.8h-0.8zM134.6 248.2h0.8v0.8h-0.8zM130.2 243.5h0.8v0.8h-0.8zM130.1 242.7h0.8v0.8h-0.8zM139.7 249.8h0.8v0.8h-0.8zM126.4 252.7h0.8v0.8h-0.8zM137.9 241.5h0.8v0.8h-0.8zM143.1 250.8h0.8v0.8h-0.8zM144.4 243.8h0.8v0.8h-0.8zM135.9 249.4h0.8v0.8h-0.8zM134.1 248.6h0.8v0.8h-0.8zM138.8 242.9h0.8v0.8h-0.8zM126.2 243.3h0.8v0.8h-0.8zM129.9 245.9h0.8v0.8h-0.8zM135.0 248.9h0.8v0.8h-0.8zM133.2 245.7h0.8v0.8h-0.8zM130.6 251.2h0.8v0.8h-0.8zM137.2 248.3h0.8v0.8h-0.8zM131.2 253.3h0.8v0.8h-0.8zM129.7 250.2h0.8v0.8h-0.8zM139.3 247.1h0.8v0.8h-0.8zM137.5 244.2h0.8v0.8h-0.8zM138.6 248.7h0.8v0.8h-0.8zM124.3 250.3h0.8v0.8h-0.8zM128.1 252.4h0.8v0.8h-0.8zM129.3 247.4h0.8v0.8h-0.8zM134.6 246.9h0.8v0.8h-0.8zM134.4 246.1h0.8v0.8h-0.8zM136.7 248.0h0.8v0.8h-0.8zM134.2 238.6h0.8v0.8h-0.8zM139.4 248.1h0.8v0.8h-0.8zM123.2 248.3h0.8v0.8h-0.8zM135.6 251.6h0.8v0.8h-0.8zM127.0 253.3h0.8v0.8h-0.8zM132.1 256.1h0.8v0.8h-0.8zM132.2 250.3h0.8v0.8h-0.8zM131.0 244.2h0.8v0.8h-0.8zM139.0 251.1h0.8v0.8h-0.8zM141.5 250.9h0.8v0.8h-0.8zM129.8 242.3h0.8v0.8h-0.8zM129.4 245.7h0.8v0.8h-0.8zM128.5 250.0h0.8v0.8h-0.8zM134.8 247.1h0.8v0.8h-0.8zM133.9 247.5h0.8v0.8h-0.8zM134.2 250.6h0.8v0.8h-0.8zM138.3 245.7h0.8v0.8h-0.8zM124.7 252.9h0.8v0.8h-0.8zM133.6 251.8h0.8v0.8h-0.8z" fill="#5a7ad8" opacity="0.4"/>
<g filter="url(#jet)" fill="#000"><ellipse cx="178.00" cy="276.80" rx="6.80" ry="6.20" fill-opacity="0.3"/><ellipse cx="180.50" cy="279.30" rx="4.00" ry="3.00" fill-opacity="0.15"/><ellipse cx="177.50" cy="276.60" rx="5.00" ry="4.50" fill-opacity="0.3"/><ellipse cx="177.00" cy="276.40" rx="3.20" ry="3.00" fill-opacity="0.3"/><ellipse cx="176.80" cy="276.30" rx="1.80" ry="1.80" fill-opacity="0.4"/></g>
<path d="M178.4 279.9h0.8v0.8h-0.8zM181.5 278.6h0.8v0.8h-0.8zM175.9 274.7h0.8v0.8h-0.8zM173.2 280.9h0.8v0.8h-0.8zM180.3 279.7h0.8v0.8h-0.8zM173.4 276.1h0.8v0.8h-0.8zM181.8 277.8h0.8v0.8h-0.8zM172.8 276.3h0.8v0.8h-0.8zM183.4 273.7h0.8v0.8h-0.8zM173.7 274.4h0.8v0.8h-0.8zM180.8 280.9h0.8v0.8h-0.8zM173.2 272.7h0.8v0.8h-0.8zM174.5 274.7h0.8v0.8h-0.8zM178.3 272.7h0.8v0.8h-0.8zM175.6 273.1h0.8v0.8h-0.8zM184.7 279.5h0.8v0.8h-0.8zM172.4 282.3h0.8v0.8h-0.8zM172.4 275.4h0.8v0.8h-0.8zM184.8 280.3h0.8v0.8h-0.8zM181.3 276.0h0.8v0.8h-0.8zM173.7 278.5h0.8v0.8h-0.8zM172.5 273.3h0.8v0.8h-0.8zM176.4 271.2h0.8v0.8h-0.8zM176.6 280.3h0.8v0.8h-0.8zM180.7 276.8h0.8v0.8h-0.8z" fill="#ffffff" opacity="0.4"/>
<path d="M174.1 255.0h0.7v0.7h-0.7zM178.1 268.2h0.7v0.7h-0.7zM172.6 267.3h0.7v0.7h-0.7zM178.2 256.7h0.7v0.7h-0.7zM172.3 255.6h0.7v0.7h-0.7zM174.4 263.2h0.7v0.7h-0.7zM175.1 246.6h0.7v0.7h-0.7zM176.6 250.1h0.7v0.7h-0.7zM178.3 252.4h0.7v0.7h-0.7zM174.3 254.8h0.7v0.7h-0.7zM174.6 269.9h0.7v0.7h-0.7zM178.1 265.0h0.7v0.7h-0.7zM176.8 250.0h0.7v0.7h-0.7zM174.7 256.9h0.7v0.7h-0.7zM173.6 264.4h0.7v0.7h-0.7zM174.1 255.8h0.7v0.7h-0.7zM173.4 246.4h0.7v0.7h-0.7zM177.5 270.1h0.7v0.7h-0.7zM176.4 254.0h0.7v0.7h-0.7zM169.2 262.0h0.7v0.7h-0.7zM179.0 262.9h0.7v0.7h-0.7zM178.3 271.1h0.7v0.7h-0.7zM178.8 257.7h0.7v0.7h-0.7zM178.6 266.2h0.7v0.7h-0.7zM172.2 258.0h0.7v0.7h-0.7z" fill="#7090e0" opacity="0.35"/>
<g filter="url(#jet)" fill="#000"><path d="M280.0,40.0 298.0,39.5 299.0,44.0 298.8,74.0 296.0,74.5 285.0,70.5 274.0,70.0 273.0,68.0 275.0,60.0 276.5,46.0Z" fill-opacity="0.2"/><path d="M282.0,42.0 298.0,41.0 298.0,72.0 282.0,70.0Z" fill-opacity="0.2"/><ellipse cx="285.50" cy="57.00" rx="2.20" ry="15.00" fill-opacity="0.35"/><ellipse cx="291.00" cy="58.00" rx="2.40" ry="16.00" fill-opacity="0.33"/><ellipse cx="295.30" cy="57.00" rx="2.40" ry="16.00" fill-opacity="0.33"/><ellipse cx="291.50" cy="48.50" rx="2.60" ry="5.00" fill-opacity="0.4"/><ellipse cx="295.20" cy="46.50" rx="2.60" ry="5.00" fill-opacity="0.45"/><ellipse cx="295.20" cy="46.00" rx="1.40" ry="2.40" fill-opacity="0.5"/><ellipse cx="291.50" cy="48.00" rx="1.20" ry="2.20" fill-opacity="0.45"/></g>
<path d="M286.8 61.7h0.8v0.8h-0.8zM294.7 57.7h0.8v0.8h-0.8zM284.3 72.2h0.8v0.8h-0.8zM279.3 63.3h0.8v0.8h-0.8zM283.8 65.9h0.8v0.8h-0.8zM277.1 73.5h0.8v0.8h-0.8zM282.9 41.9h0.8v0.8h-0.8zM280.9 53.6h0.8v0.8h-0.8zM274.3 54.2h0.8v0.8h-0.8zM284.5 63.7h0.8v0.8h-0.8zM282.8 49.0h0.8v0.8h-0.8zM279.6 65.2h0.8v0.8h-0.8zM297.5 57.9h0.8v0.8h-0.8zM279.5 67.3h0.8v0.8h-0.8zM283.8 47.2h0.8v0.8h-0.8zM277.2 66.4h0.8v0.8h-0.8zM294.2 61.6h0.8v0.8h-0.8zM285.7 59.1h0.8v0.8h-0.8zM279.6 72.8h0.8v0.8h-0.8zM282.8 61.7h0.8v0.8h-0.8zM294.5 67.8h0.8v0.8h-0.8zM285.7 50.0h0.8v0.8h-0.8zM287.7 44.3h0.8v0.8h-0.8zM294.8 52.1h0.8v0.8h-0.8zM295.3 49.1h0.8v0.8h-0.8zM283.4 48.6h0.8v0.8h-0.8zM284.7 46.3h0.8v0.8h-0.8zM274.1 64.5h0.8v0.8h-0.8zM281.0 48.3h0.8v0.8h-0.8zM281.5 56.3h0.8v0.8h-0.8zM284.7 61.7h0.8v0.8h-0.8zM290.5 52.3h0.8v0.8h-0.8zM297.2 69.1h0.8v0.8h-0.8zM275.4 68.1h0.8v0.8h-0.8zM296.6 66.7h0.8v0.8h-0.8zM277.5 68.3h0.8v0.8h-0.8zM289.8 40.5h0.8v0.8h-0.8zM274.3 72.4h0.8v0.8h-0.8zM290.4 48.5h0.8v0.8h-0.8zM276.5 44.9h0.8v0.8h-0.8zM279.8 66.4h0.8v0.8h-0.8zM282.7 45.2h0.8v0.8h-0.8zM296.6 66.9h0.8v0.8h-0.8zM278.2 70.3h0.8v0.8h-0.8zM289.2 66.6h0.8v0.8h-0.8zM290.7 70.4h0.8v0.8h-0.8zM293.7 68.5h0.8v0.8h-0.8zM278.9 63.6h0.8v0.8h-0.8zM287.3 65.2h0.8v0.8h-0.8zM285.0 70.0h0.8v0.8h-0.8zM287.9 49.0h0.8v0.8h-0.8zM279.9 44.7h0.8v0.8h-0.8zM286.3 42.0h0.8v0.8h-0.8zM285.7 44.9h0.8v0.8h-0.8zM286.3 56.9h0.8v0.8h-0.8zM287.5 69.3h0.8v0.8h-0.8zM274.2 68.6h0.8v0.8h-0.8zM285.7 59.1h0.8v0.8h-0.8zM290.6 68.6h0.8v0.8h-0.8zM283.4 54.2h0.8v0.8h-0.8z" fill="#ffffff" opacity="0.35"/>
<g filter="url(#jet)" fill="#000"><ellipse cx="296.40" cy="128.50" rx="4.60" ry="17.00" fill-opacity="0.25"/><ellipse cx="296.40" cy="128.00" rx="2.60" ry="14.50" fill-opacity="0.3"/><ellipse cx="296.40" cy="127.00" rx="1.50" ry="12.00" fill-opacity="0.35"/><ellipse cx="296.60" cy="135.50" rx="1.40" ry="3.80" fill-opacity="0.45"/><ellipse cx="296.60" cy="136.00" rx="0.80" ry="2.00" fill-opacity="0.45"/></g>
<g filter="url(#jet)" fill="#000"><path d="M276.0,175.0 281.0,171.5 299.0,171.5 301.0,176.0 300.5,206.0 297.0,210.0 290.0,206.0 276.0,207.0Z" fill-opacity="0.18"/><path d="M283.0,173.0 300.0,173.0 300.0,206.0 283.0,206.0Z" fill-opacity="0.12"/><ellipse cx="291.50" cy="190.00" rx="2.20" ry="16.00" fill-opacity="0.42"/><ellipse cx="295.70" cy="190.00" rx="2.40" ry="17.00" fill-opacity="0.45"/><ellipse cx="285.50" cy="190.00" rx="1.60" ry="15.00" fill-opacity="0.2"/><ellipse cx="295.70" cy="182.00" rx="1.90" ry="4.60" fill-opacity="0.5"/><ellipse cx="295.70" cy="181.00" rx="1.00" ry="2.50" fill-opacity="0.5"/></g>
<path d="M288.4 175.6h0.8v0.8h-0.8zM283.9 194.6h0.8v0.8h-0.8zM275.4 193.7h0.8v0.8h-0.8zM284.6 204.7h0.8v0.8h-0.8zM279.6 206.4h0.8v0.8h-0.8zM282.1 189.5h0.8v0.8h-0.8zM287.6 174.2h0.8v0.8h-0.8zM285.1 194.3h0.8v0.8h-0.8zM279.7 202.3h0.8v0.8h-0.8zM280.1 189.1h0.8v0.8h-0.8zM282.4 199.2h0.8v0.8h-0.8zM278.0 187.8h0.8v0.8h-0.8zM280.9 191.8h0.8v0.8h-0.8zM286.6 183.0h0.8v0.8h-0.8zM286.6 186.7h0.8v0.8h-0.8zM282.1 182.2h0.8v0.8h-0.8zM282.1 206.1h0.8v0.8h-0.8zM284.2 199.9h0.8v0.8h-0.8zM279.6 183.8h0.8v0.8h-0.8zM279.2 192.9h0.8v0.8h-0.8zM283.9 199.7h0.8v0.8h-0.8zM275.6 197.6h0.8v0.8h-0.8zM287.4 191.5h0.8v0.8h-0.8zM275.7 183.2h0.8v0.8h-0.8zM275.1 179.5h0.8v0.8h-0.8zM287.9 193.7h0.8v0.8h-0.8zM284.2 199.8h0.8v0.8h-0.8zM287.7 193.8h0.8v0.8h-0.8zM283.6 194.3h0.8v0.8h-0.8zM284.7 193.3h0.8v0.8h-0.8zM284.5 180.2h0.8v0.8h-0.8zM284.3 188.6h0.8v0.8h-0.8zM285.7 176.4h0.8v0.8h-0.8zM277.5 174.3h0.8v0.8h-0.8zM285.8 204.1h0.8v0.8h-0.8zM284.2 185.5h0.8v0.8h-0.8zM286.5 199.7h0.8v0.8h-0.8zM282.9 181.8h0.8v0.8h-0.8zM279.2 187.3h0.8v0.8h-0.8zM279.5 187.6h0.8v0.8h-0.8zM284.0 204.8h0.8v0.8h-0.8zM275.8 192.3h0.8v0.8h-0.8zM275.6 177.0h0.8v0.8h-0.8zM286.3 192.6h0.8v0.8h-0.8zM287.9 188.2h0.8v0.8h-0.8z" fill="#ffffff" opacity="0.35"/>
<g filter="url(#jet)" fill="#000"><path d="M276.0,242.5 281.0,239.0 299.0,239.0 301.0,243.5 300.5,273.5 297.0,277.5 290.0,273.5 276.0,274.5Z" fill-opacity="0.18"/><path d="M283.0,240.5 300.0,240.5 300.0,273.5 283.0,273.5Z" fill-opacity="0.12"/><ellipse cx="291.50" cy="257.50" rx="2.20" ry="16.00" fill-opacity="0.42"/><ellipse cx="295.70" cy="257.50" rx="2.40" ry="17.00" fill-opacity="0.45"/><ellipse cx="285.50" cy="257.50" rx="1.60" ry="15.00" fill-opacity="0.2"/><ellipse cx="295.70" cy="249.50" rx="1.90" ry="4.60" fill-opacity="0.5"/><ellipse cx="295.70" cy="248.50" rx="1.00" ry="2.50" fill-opacity="0.5"/></g>
<path d="M275.2 253.7h0.8v0.8h-0.8zM283.3 272.4h0.8v0.8h-0.8zM288.7 256.7h0.8v0.8h-0.8zM280.8 244.0h0.8v0.8h-0.8zM284.0 247.7h0.8v0.8h-0.8zM277.1 241.0h0.8v0.8h-0.8zM275.1 263.7h0.8v0.8h-0.8zM276.7 273.4h0.8v0.8h-0.8zM276.2 270.1h0.8v0.8h-0.8zM276.8 241.1h0.8v0.8h-0.8zM285.1 248.7h0.8v0.8h-0.8zM285.3 246.9h0.8v0.8h-0.8zM275.7 266.8h0.8v0.8h-0.8zM285.0 269.6h0.8v0.8h-0.8zM285.2 243.4h0.8v0.8h-0.8zM283.8 264.6h0.8v0.8h-0.8zM281.4 272.2h0.8v0.8h-0.8zM278.6 273.3h0.8v0.8h-0.8zM285.0 240.9h0.8v0.8h-0.8zM275.2 262.6h0.8v0.8h-0.8zM286.4 243.2h0.8v0.8h-0.8zM279.4 265.3h0.8v0.8h-0.8zM277.3 269.8h0.8v0.8h-0.8zM281.8 242.5h0.8v0.8h-0.8zM280.1 260.0h0.8v0.8h-0.8zM281.1 263.5h0.8v0.8h-0.8zM277.0 267.6h0.8v0.8h-0.8zM280.1 262.4h0.8v0.8h-0.8zM283.8 254.7h0.8v0.8h-0.8zM280.4 267.2h0.8v0.8h-0.8zM288.2 267.2h0.8v0.8h-0.8zM282.9 250.4h0.8v0.8h-0.8zM275.8 273.6h0.8v0.8h-0.8zM284.8 268.6h0.8v0.8h-0.8zM279.6 261.1h0.8v0.8h-0.8zM288.7 268.8h0.8v0.8h-0.8zM283.4 251.0h0.8v0.8h-0.8zM281.0 270.7h0.8v0.8h-0.8zM280.3 263.8h0.8v0.8h-0.8zM283.4 271.0h0.8v0.8h-0.8zM286.3 250.1h0.8v0.8h-0.8zM275.0 249.4h0.8v0.8h-0.8zM280.9 260.4h0.8v0.8h-0.8zM286.4 270.7h0.8v0.8h-0.8zM275.6 268.8h0.8v0.8h-0.8z" fill="#ffffff" opacity="0.35"/>
<text x="92.70" y="28.20" font-size="7" text-anchor="start" font-weight="normal" fill="#222" >95.6</text>
<text x="155.60" y="28.20" font-size="7" text-anchor="end" font-weight="normal" fill="#222" >2.32</text>
<text x="92.70" y="84.30" font-size="7" text-anchor="start" font-weight="normal" fill="#222" >2.04</text>
<text x="155.60" y="84.30" font-size="7" text-anchor="end" font-weight="normal" fill="#222" >9.79e-3</text>
<text x="158.40" y="28.20" font-size="7" text-anchor="start" font-weight="normal" fill="#222" >1.31</text>
<text x="221.60" y="28.20" font-size="7" text-anchor="end" font-weight="normal" fill="#222" >0.065</text>
<text x="158.40" y="84.30" font-size="7" text-anchor="start" font-weight="normal" fill="#222" >98</text>
<text x="221.60" y="84.30" font-size="7" text-anchor="end" font-weight="normal" fill="#222" >0.63</text>
<text x="88.90" y="29.70" font-size="6.9" text-anchor="end" fill="#333">10<tspan font-size="4.9" dy="-3.5">5</tspan></text>
<text x="88.90" y="44.30" font-size="6.9" text-anchor="end" fill="#333">10<tspan font-size="4.9" dy="-3.5">4</tspan></text>
<text x="88.90" y="62.20" font-size="6.9" text-anchor="end" fill="#333">10<tspan font-size="4.9" dy="-3.5">3</tspan></text>
<text x="88.50" y="75.00" font-size="6.9" text-anchor="end" font-weight="normal" fill="#333" >0</text>
<rect x="90.1" y="72.1" width="1.4" height="1.3" fill="#222"/>
<text x="251.40" y="29.70" font-size="6.9" text-anchor="end" fill="#333">10<tspan font-size="4.9" dy="-3.5">5</tspan></text>
<text x="251.40" y="44.30" font-size="6.9" text-anchor="end" fill="#333">10<tspan font-size="4.9" dy="-3.5">4</tspan></text>
<text x="251.40" y="62.20" font-size="6.9" text-anchor="end" fill="#333">10<tspan font-size="4.9" dy="-3.5">3</tspan></text>
<text x="251.00" y="75.00" font-size="6.9" text-anchor="end" font-weight="normal" fill="#333" >0</text>
<rect x="252.6" y="72.1" width="1.4" height="1.3" fill="#222"/>
<text x="92.70" y="94.70" font-size="7" text-anchor="start" font-weight="normal" fill="#222" >94.6</text>
<text x="155.60" y="94.70" font-size="7" text-anchor="end" font-weight="normal" fill="#222" >0.25</text>
<text x="92.70" y="150.80" font-size="7" text-anchor="start" font-weight="normal" fill="#222" >5.1</text>
<text x="155.60" y="150.80" font-size="7" text-anchor="end" font-weight="normal" fill="#222" >0.014</text>
<text x="158.40" y="94.70" font-size="7" text-anchor="start" font-weight="normal" fill="#222" >1.8</text>
<text x="221.60" y="94.70" font-size="7" text-anchor="end" font-weight="normal" fill="#222" >0.077</text>
<text x="158.40" y="150.80" font-size="7" text-anchor="start" font-weight="normal" fill="#222" >97.7</text>
<text x="221.60" y="150.80" font-size="7" text-anchor="end" font-weight="normal" fill="#222" >0.44</text>
<text x="88.90" y="96.20" font-size="6.9" text-anchor="end" fill="#333">10<tspan font-size="4.9" dy="-3.5">5</tspan></text>
<text x="88.90" y="110.80" font-size="6.9" text-anchor="end" fill="#333">10<tspan font-size="4.9" dy="-3.5">4</tspan></text>
<text x="88.90" y="128.70" font-size="6.9" text-anchor="end" fill="#333">10<tspan font-size="4.9" dy="-3.5">3</tspan></text>
<text x="88.50" y="141.50" font-size="6.9" text-anchor="end" font-weight="normal" fill="#333" >0</text>
<rect x="90.1" y="138.6" width="1.4" height="1.3" fill="#222"/>
<text x="251.40" y="96.20" font-size="6.9" text-anchor="end" fill="#333">10<tspan font-size="4.9" dy="-3.5">5</tspan></text>
<text x="251.40" y="110.80" font-size="6.9" text-anchor="end" fill="#333">10<tspan font-size="4.9" dy="-3.5">4</tspan></text>
<text x="251.40" y="128.70" font-size="6.9" text-anchor="end" fill="#333">10<tspan font-size="4.9" dy="-3.5">3</tspan></text>
<text x="251.00" y="141.50" font-size="6.9" text-anchor="end" font-weight="normal" fill="#333" >0</text>
<rect x="252.6" y="138.6" width="1.4" height="1.3" fill="#222"/>
<text x="92.70" y="161.00" font-size="7" text-anchor="start" font-weight="normal" fill="#222" >94.3</text>
<text x="155.60" y="161.00" font-size="7" text-anchor="end" font-weight="normal" fill="#222" >2.48</text>
<text x="92.70" y="216.80" font-size="7" text-anchor="start" font-weight="normal" fill="#222" >3.22</text>
<text x="155.60" y="216.80" font-size="7" text-anchor="end" font-weight="normal" fill="#222" >0.028</text>
<text x="158.40" y="161.00" font-size="7" text-anchor="start" font-weight="normal" fill="#222" >1.15</text>
<text x="221.60" y="161.00" font-size="7" text-anchor="end" font-weight="normal" fill="#222" >0.057</text>
<text x="158.40" y="216.80" font-size="7" text-anchor="start" font-weight="normal" fill="#222" >98.1</text>
<text x="221.60" y="216.80" font-size="7" text-anchor="end" font-weight="normal" fill="#222" >0.66</text>
<text x="88.90" y="162.50" font-size="6.9" text-anchor="end" fill="#333">10<tspan font-size="4.9" dy="-3.5">5</tspan></text>
<text x="88.90" y="177.10" font-size="6.9" text-anchor="end" fill="#333">10<tspan font-size="4.9" dy="-3.5">4</tspan></text>
<text x="88.90" y="195.00" font-size="6.9" text-anchor="end" fill="#333">10<tspan font-size="4.9" dy="-3.5">3</tspan></text>
<text x="88.50" y="207.80" font-size="6.9" text-anchor="end" font-weight="normal" fill="#333" >0</text>
<rect x="90.1" y="204.9" width="1.4" height="1.3" fill="#222"/>
<text x="251.40" y="162.50" font-size="6.9" text-anchor="end" fill="#333">10<tspan font-size="4.9" dy="-3.5">5</tspan></text>
<text x="251.40" y="177.10" font-size="6.9" text-anchor="end" fill="#333">10<tspan font-size="4.9" dy="-3.5">4</tspan></text>
<text x="251.40" y="195.00" font-size="6.9" text-anchor="end" fill="#333">10<tspan font-size="4.9" dy="-3.5">3</tspan></text>
<text x="251.00" y="207.80" font-size="6.9" text-anchor="end" font-weight="normal" fill="#333" >0</text>
<rect x="252.6" y="204.9" width="1.4" height="1.3" fill="#222"/>
<text x="92.70" y="227.50" font-size="7" text-anchor="start" font-weight="normal" fill="#222" >94.6</text>
<text x="155.60" y="227.50" font-size="7" text-anchor="end" font-weight="normal" fill="#222" >1.62</text>
<text x="92.70" y="283.30" font-size="7" text-anchor="start" font-weight="normal" fill="#222" >3.8</text>
<text x="155.60" y="283.30" font-size="7" text-anchor="end" font-weight="normal" fill="#222" >0.016</text>
<text x="158.40" y="227.50" font-size="7" text-anchor="start" font-weight="normal" fill="#222" >0.94</text>
<text x="221.60" y="227.50" font-size="7" text-anchor="end" font-weight="normal" fill="#222" >0.062</text>
<text x="158.40" y="283.30" font-size="7" text-anchor="start" font-weight="normal" fill="#222" >98.4</text>
<text x="221.60" y="283.30" font-size="7" text-anchor="end" font-weight="normal" fill="#222" >0.64</text>
<text x="88.90" y="229.00" font-size="6.9" text-anchor="end" fill="#333">10<tspan font-size="4.9" dy="-3.5">5</tspan></text>
<text x="88.90" y="243.60" font-size="6.9" text-anchor="end" fill="#333">10<tspan font-size="4.9" dy="-3.5">4</tspan></text>
<text x="88.90" y="261.50" font-size="6.9" text-anchor="end" fill="#333">10<tspan font-size="4.9" dy="-3.5">3</tspan></text>
<text x="88.50" y="274.30" font-size="6.9" text-anchor="end" font-weight="normal" fill="#333" >0</text>
<rect x="90.1" y="271.4" width="1.4" height="1.3" fill="#222"/>
<text x="251.40" y="229.00" font-size="6.9" text-anchor="end" fill="#333">10<tspan font-size="4.9" dy="-3.5">5</tspan></text>
<text x="251.40" y="243.60" font-size="6.9" text-anchor="end" fill="#333">10<tspan font-size="4.9" dy="-3.5">4</tspan></text>
<text x="251.40" y="261.50" font-size="6.9" text-anchor="end" fill="#333">10<tspan font-size="4.9" dy="-3.5">3</tspan></text>
<text x="251.00" y="274.30" font-size="6.9" text-anchor="end" font-weight="normal" fill="#333" >0</text>
<rect x="252.6" y="271.4" width="1.4" height="1.3" fill="#222"/>
<rect x="91.50" y="21.00" width="65.10" height="65.50" stroke="#b0b0b0" stroke-width="1" fill="none"/>
<rect x="157.20" y="21.00" width="65.40" height="65.50" stroke="#b0b0b0" stroke-width="1" fill="none"/>
<rect x="254.00" y="21.00" width="65.20" height="65.50" stroke="#b0b0b0" stroke-width="1" fill="none"/>
<rect x="91.50" y="87.50" width="65.10" height="65.50" stroke="#b0b0b0" stroke-width="1" fill="none"/>
<rect x="157.20" y="87.50" width="65.40" height="65.50" stroke="#b0b0b0" stroke-width="1" fill="none"/>
<rect x="254.00" y="87.50" width="65.20" height="65.50" stroke="#b0b0b0" stroke-width="1" fill="none"/>
<rect x="91.50" y="153.80" width="65.10" height="65.20" stroke="#b0b0b0" stroke-width="1" fill="none"/>
<rect x="157.20" y="153.80" width="65.40" height="65.20" stroke="#b0b0b0" stroke-width="1" fill="none"/>
<rect x="254.00" y="153.80" width="65.20" height="65.20" stroke="#b0b0b0" stroke-width="1" fill="none"/>
<rect x="91.50" y="220.30" width="65.10" height="65.20" stroke="#b0b0b0" stroke-width="1" fill="none"/>
<rect x="157.20" y="220.30" width="65.40" height="65.20" stroke="#b0b0b0" stroke-width="1" fill="none"/>
<rect x="254.00" y="220.30" width="65.20" height="65.20" stroke="#b0b0b0" stroke-width="1" fill="none"/>
<text x="106.10" y="296.00" font-size="6.9" text-anchor="middle" font-weight="normal" fill="#333" >0</text>
<rect x="104.9" y="285.2" width="1.3" height="1.3" fill="#222"/>
<text x="112.90" y="296.00" font-size="6.9" text-anchor="start" fill="#333">10<tspan font-size="4.9" dy="-3.5">3</tspan></text>
<text x="130.40" y="296.00" font-size="6.9" text-anchor="start" fill="#333">10<tspan font-size="4.9" dy="-3.5">4</tspan></text>
<text x="145.40" y="296.00" font-size="6.9" text-anchor="start" fill="#333">10<tspan font-size="4.9" dy="-3.5">5</tspan></text>
<text x="171.80" y="296.00" font-size="6.9" text-anchor="middle" font-weight="normal" fill="#333" >0</text>
<rect x="170.6" y="285.2" width="1.3" height="1.3" fill="#222"/>
<text x="178.60" y="296.00" font-size="6.9" text-anchor="start" fill="#333">10<tspan font-size="4.9" dy="-3.5">3</tspan></text>
<text x="196.10" y="296.00" font-size="6.9" text-anchor="start" fill="#333">10<tspan font-size="4.9" dy="-3.5">4</tspan></text>
<text x="211.10" y="296.00" font-size="6.9" text-anchor="start" fill="#333">10<tspan font-size="4.9" dy="-3.5">5</tspan></text>
<text x="268.60" y="296.00" font-size="6.9" text-anchor="middle" font-weight="normal" fill="#333" >0</text>
<rect x="267.4" y="285.2" width="1.3" height="1.3" fill="#222"/>
<text x="275.40" y="296.00" font-size="6.9" text-anchor="start" fill="#333">10<tspan font-size="4.9" dy="-3.5">3</tspan></text>
<text x="292.90" y="296.00" font-size="6.9" text-anchor="start" fill="#333">10<tspan font-size="4.9" dy="-3.5">4</tspan></text>
<text x="307.90" y="296.00" font-size="6.9" text-anchor="start" fill="#333">10<tspan font-size="4.9" dy="-3.5">5</tspan></text>
<text x="158.80" y="306.80" font-size="9" text-anchor="middle" font-weight="normal" fill="#111" >Ki-67</text>
<line x1="91.20" y1="302.90" x2="143.60" y2="302.90" stroke="#9c9c9c" stroke-width="1" />
<line x1="172.40" y1="302.90" x2="222.40" y2="302.90" stroke="#9c9c9c" stroke-width="1" />
<text x="286.30" y="306.80" font-size="9" text-anchor="middle" font-weight="normal" fill="#111" >CFSE</text>
<text x="364.20" y="9.80" font-size="11" text-anchor="start" font-weight="bold" fill="#000" >B</text>
<text x="422.60" y="16.20" font-size="9" text-anchor="middle" font-weight="normal" fill="#111" >Adult</text>
<text x="487.30" y="16.20" font-size="9" text-anchor="middle" font-weight="normal" fill="#111" >Cord</text>
<path d="M387.5,86.4 388.8,86.4 390.1,86.4 391.4,86.4 392.7,86.4 394.0,86.4 395.3,86.4 396.6,86.4 397.9,86.4 399.2,86.4 400.5,86.4 401.8,86.4 403.1,86.4 404.4,86.4 405.7,86.4 407.0,86.4 408.3,86.4 409.6,86.3 410.9,85.9 412.2,85.0 413.5,82.9 414.8,78.6 416.1,71.2 417.4,60.4 418.7,47.3 420.0,34.9 421.3,26.9 422.6,26.4 423.9,36.8 425.2,53.4 426.5,68.7 427.8,78.7 429.1,83.7 430.4,85.6 431.7,86.2 433.0,86.4 434.3,86.4 435.6,86.4 436.9,86.4 438.2,86.4 439.5,86.4 440.8,86.4 442.1,86.4 443.4,86.4 444.7,86.4 446.0,86.4 447.3,86.4 448.6,86.4 449.9,86.4 451.2,86.4 452.5,86.4 L452.5,86.4 L387.5,86.4Z" fill="#e2e2e2" stroke="#555" stroke-width="0.6" opacity="1"/>
<path d="M387.5,86.3 388.8,86.2 390.1,86.1 391.4,85.8 392.7,85.3 394.0,84.6 395.3,83.4 396.6,81.8 397.9,79.4 399.2,76.2 400.5,72.0 401.8,66.9 403.1,60.8 404.4,54.2 405.7,47.2 407.0,40.5 408.3,34.5 409.6,29.8 410.9,27.0 412.2,26.3 413.5,31.8 414.8,43.5 416.1,57.3 417.4,69.3 418.7,77.8 420.0,82.6 421.3,85.0 422.6,85.9 423.9,86.3 425.2,86.4 426.5,86.4 427.8,86.4 429.1,86.4 430.4,86.4 431.7,86.4 433.0,86.4 434.3,86.4 435.6,86.4 436.9,86.4 438.2,86.4 439.5,86.4 440.8,86.4 442.1,86.4 443.4,86.4 444.7,86.4 446.0,86.4 447.3,86.4 448.6,86.4 449.9,86.4 451.2,86.4 452.5,86.4" fill="none" stroke="#d87050" stroke-width="0.6" opacity="1" stroke-dasharray="1.2,0.6"/>
<path d="M387.5,86.3 388.8,86.1 390.1,85.9 391.4,85.5 392.7,84.9 394.0,84.0 395.3,82.6 396.6,80.7 397.9,78.0 399.2,74.4 400.5,70.0 401.8,64.6 403.1,58.5 404.4,51.8 405.7,45.0 407.0,38.6 408.3,33.0 409.6,28.8 410.9,26.4 412.2,26.3 413.5,32.6 414.8,44.5 416.1,58.0 417.4,69.6 418.7,77.7 420.0,82.5 421.3,84.9 422.6,85.9 423.9,86.2 425.2,86.4 426.5,86.4 427.8,86.4 429.1,86.4 430.4,86.4 431.7,86.4 433.0,86.4 434.3,86.4 435.6,86.4 436.9,86.4 438.2,86.4 439.5,86.4 440.8,86.4 442.1,86.4 443.4,86.4 444.7,86.4 446.0,86.4 447.3,86.4 448.6,86.4 449.9,86.4 451.2,86.4 452.5,86.4" fill="none" stroke="#555" stroke-width="0.55" opacity="1" stroke-dasharray="0.8,1.2"/>
<path d="M453.6,86.4 454.9,86.4 456.2,86.4 457.5,86.4 458.8,86.4 460.2,86.4 461.5,86.3 462.8,86.3 464.1,86.2 465.4,86.0 466.7,85.7 468.0,85.2 469.3,84.4 470.7,83.3 472.0,81.8 473.3,79.6 474.6,76.8 475.9,73.1 477.2,68.6 478.5,63.4 479.8,57.5 481.2,51.1 482.5,44.7 483.8,38.5 485.1,33.2 486.4,29.0 487.7,26.3 489.0,25.4 490.3,32.0 491.6,47.4 493.0,64.0 494.3,76.0 495.6,82.6 496.9,85.3 498.2,86.1 499.5,86.3 500.8,86.4 502.1,86.4 503.5,86.4 504.8,86.4 506.1,86.4 507.4,86.4 508.7,86.4 510.0,86.4 511.3,86.4 512.6,86.4 514.0,86.4 515.3,86.4 516.6,86.4 517.9,86.4 519.2,86.4 L519.2,86.4 L453.6,86.4Z" fill="#e4e4e4" stroke="#555" stroke-width="0.6" opacity="1"/>
<path d="M453.6,86.3 454.9,86.3 456.2,86.2 457.5,86.1 458.8,85.9 460.2,85.6 461.5,85.2 462.8,84.6 464.1,83.7 465.4,82.5 466.7,80.9 468.0,78.7 469.3,76.0 470.7,72.7 472.0,68.7 473.3,64.1 474.6,59.0 475.9,53.6 477.2,47.9 478.5,42.4 479.8,37.2 481.2,32.7 482.5,29.2 483.8,26.9 485.1,25.9 486.4,27.6 487.7,33.7 489.0,42.8 490.3,53.2 491.6,63.1 493.0,71.3 494.3,77.4 495.6,81.4 496.9,83.9 498.2,85.2 499.5,85.9 500.8,86.2 502.1,86.3 503.5,86.4 504.8,86.4 506.1,86.4 507.4,86.4 508.7,86.4 510.0,86.4 511.3,86.4 512.6,86.4 514.0,86.4 515.3,86.4 516.6,86.4 517.9,86.4 519.2,86.4" fill="none" stroke="#e05050" stroke-width="0.6" opacity="1" stroke-dasharray="1.2,0.6"/>
<path d="M453.6,85.9 454.9,85.7 456.2,85.3 457.5,84.7 458.8,83.9 460.2,82.8 461.5,81.3 462.8,79.4 464.1,76.9 465.4,73.9 466.7,70.3 468.0,66.1 469.3,61.4 470.7,56.3 472.0,51.0 473.3,45.6 474.6,40.4 475.9,35.7 477.2,31.7 478.5,28.7 479.8,26.9 481.2,26.4 482.5,28.4 483.8,33.3 485.1,40.4 486.4,48.7 487.7,57.1 489.0,64.9 490.3,71.5 491.6,76.6 493.0,80.3 494.3,82.8 495.6,84.4 496.9,85.3 498.2,85.9 499.5,86.1 500.8,86.3 502.1,86.4 503.5,86.4 504.8,86.4 506.1,86.4 507.4,86.4 508.7,86.4 510.0,86.4 511.3,86.4 512.6,86.4 514.0,86.4 515.3,86.4 516.6,86.4 517.9,86.4 519.2,86.4" fill="none" stroke="#50a878" stroke-width="0.6" opacity="1" stroke-dasharray="1.2,0.8"/>
<text x="385.50" y="27.00" font-size="6.8" text-anchor="end" font-weight="normal" fill="#333" >100</text>
<text x="385.50" y="39.36" font-size="6.8" text-anchor="end" font-weight="normal" fill="#333" >80</text>
<text x="385.50" y="51.72" font-size="6.8" text-anchor="end" font-weight="normal" fill="#333" >60</text>
<text x="385.50" y="64.08" font-size="6.8" text-anchor="end" font-weight="normal" fill="#333" >40</text>
<text x="385.50" y="76.44" font-size="6.8" text-anchor="end" font-weight="normal" fill="#333" >20</text>
<text x="385.50" y="88.80" font-size="6.8" text-anchor="end" font-weight="normal" fill="#333" >0</text>
<path d="M387.5,152.1 388.8,152.1 390.1,152.1 391.4,152.1 392.7,152.1 394.0,152.1 395.3,152.1 396.6,152.1 397.9,152.1 399.2,152.1 400.5,152.1 401.8,152.1 403.1,152.1 404.4,152.1 405.7,152.1 407.0,152.1 408.3,152.1 409.6,152.0 410.9,151.6 412.2,150.7 413.5,148.6 414.8,144.3 416.1,137.0 417.4,126.3 418.7,113.3 420.0,101.0 421.3,93.0 422.6,92.5 423.9,102.8 425.2,119.3 426.5,134.5 427.8,144.5 429.1,149.4 430.4,151.4 431.7,151.9 433.0,152.1 434.3,152.1 435.6,152.1 436.9,152.1 438.2,152.1 439.5,152.1 440.8,152.1 442.1,152.1 443.4,152.1 444.7,152.1 446.0,152.1 447.3,152.1 448.6,152.1 449.9,152.1 451.2,152.1 452.5,152.1 L452.5,152.1 L387.5,152.1Z" fill="#e2e2e2" stroke="#555" stroke-width="0.6" opacity="1"/>
<path d="M387.5,152.0 388.8,151.9 390.1,151.8 391.4,151.5 392.7,151.0 394.0,150.3 395.3,149.2 396.6,147.5 397.9,145.1 399.2,141.9 400.5,137.8 401.8,132.7 403.1,126.7 404.4,120.1 405.7,113.2 407.0,106.5 408.3,100.5 409.6,95.9 410.9,93.1 412.2,92.4 413.5,97.8 414.8,109.5 416.1,123.2 417.4,135.2 418.7,143.5 420.0,148.3 421.3,150.7 422.6,151.6 423.9,152.0 425.2,152.1 426.5,152.1 427.8,152.1 429.1,152.1 430.4,152.1 431.7,152.1 433.0,152.1 434.3,152.1 435.6,152.1 436.9,152.1 438.2,152.1 439.5,152.1 440.8,152.1 442.1,152.1 443.4,152.1 444.7,152.1 446.0,152.1 447.3,152.1 448.6,152.1 449.9,152.1 451.2,152.1 452.5,152.1" fill="none" stroke="#d87050" stroke-width="0.6" opacity="1" stroke-dasharray="1.2,0.6"/>
<path d="M387.5,152.0 388.8,151.8 390.1,151.6 391.4,151.2 392.7,150.6 394.0,149.7 395.3,148.4 396.6,146.4 397.9,143.7 399.2,140.2 400.5,135.8 401.8,130.4 403.1,124.3 404.4,117.7 405.7,111.0 407.0,104.6 408.3,99.1 409.6,94.9 410.9,92.5 412.2,92.4 413.5,98.7 414.8,110.5 416.1,123.8 417.4,135.4 418.7,143.5 420.0,148.2 421.3,150.6 422.6,151.6 423.9,151.9 425.2,152.1 426.5,152.1 427.8,152.1 429.1,152.1 430.4,152.1 431.7,152.1 433.0,152.1 434.3,152.1 435.6,152.1 436.9,152.1 438.2,152.1 439.5,152.1 440.8,152.1 442.1,152.1 443.4,152.1 444.7,152.1 446.0,152.1 447.3,152.1 448.6,152.1 449.9,152.1 451.2,152.1 452.5,152.1" fill="none" stroke="#555" stroke-width="0.55" opacity="1" stroke-dasharray="0.8,1.2"/>
<path d="M453.6,152.1 454.9,152.1 456.2,152.1 457.5,152.1 458.8,152.1 460.2,152.1 461.5,152.0 462.8,152.0 464.1,151.9 465.4,151.7 466.7,151.4 468.0,150.9 469.3,150.1 470.7,149.1 472.0,147.5 473.3,145.4 474.6,142.5 475.9,138.9 477.2,134.5 478.5,129.2 479.8,123.4 481.2,117.0 482.5,110.6 483.8,104.6 485.1,99.2 486.4,95.0 487.7,92.4 489.0,91.5 490.3,98.0 491.6,113.4 493.0,129.8 494.3,141.8 495.6,148.3 496.9,151.0 498.2,151.8 499.5,152.0 500.8,152.1 502.1,152.1 503.5,152.1 504.8,152.1 506.1,152.1 507.4,152.1 508.7,152.1 510.0,152.1 511.3,152.1 512.6,152.1 514.0,152.1 515.3,152.1 516.6,152.1 517.9,152.1 519.2,152.1 L519.2,152.1 L453.6,152.1Z" fill="#e4e4e4" stroke="#555" stroke-width="0.6" opacity="1"/>
<path d="M453.6,152.0 454.9,152.0 456.2,151.9 457.5,151.8 458.8,151.6 460.2,151.3 461.5,150.9 462.8,150.3 464.1,149.4 465.4,148.2 466.7,146.6 468.0,144.5 469.3,141.8 470.7,138.5 472.0,134.5 473.3,130.0 474.6,124.9 475.9,119.5 477.2,113.9 478.5,108.3 479.8,103.2 481.2,98.7 482.5,95.3 483.8,93.0 485.1,92.0 486.4,93.7 487.7,99.7 489.0,108.8 490.3,119.1 491.6,128.9 493.0,137.1 494.3,143.1 495.6,147.2 496.9,149.6 498.2,150.9 499.5,151.6 500.8,151.9 502.1,152.0 503.5,152.1 504.8,152.1 506.1,152.1 507.4,152.1 508.7,152.1 510.0,152.1 511.3,152.1 512.6,152.1 514.0,152.1 515.3,152.1 516.6,152.1 517.9,152.1 519.2,152.1" fill="none" stroke="#e05050" stroke-width="0.6" opacity="1" stroke-dasharray="1.2,0.6"/>
<path d="M453.6,151.6 454.9,151.4 456.2,151.0 457.5,150.4 458.8,149.6 460.2,148.5 461.5,147.0 462.8,145.1 464.1,142.7 465.4,139.7 466.7,136.1 468.0,132.0 469.3,127.3 470.7,122.2 472.0,116.9 473.3,111.5 474.6,106.4 475.9,101.7 477.2,97.8 478.5,94.8 479.8,93.0 481.2,92.5 482.5,94.5 483.8,99.4 485.1,106.4 486.4,114.7 487.7,123.0 489.0,130.7 490.3,137.3 491.6,142.3 493.0,146.0 494.3,148.5 495.6,150.1 496.9,151.0 498.2,151.6 499.5,151.8 500.8,152.0 502.1,152.1 503.5,152.1 504.8,152.1 506.1,152.1 507.4,152.1 508.7,152.1 510.0,152.1 511.3,152.1 512.6,152.1 514.0,152.1 515.3,152.1 516.6,152.1 517.9,152.1 519.2,152.1" fill="none" stroke="#50a878" stroke-width="0.6" opacity="1" stroke-dasharray="1.2,0.8"/>
<text x="385.50" y="93.10" font-size="6.8" text-anchor="end" font-weight="normal" fill="#333" >100</text>
<text x="385.50" y="105.38" font-size="6.8" text-anchor="end" font-weight="normal" fill="#333" >80</text>
<text x="385.50" y="117.66" font-size="6.8" text-anchor="end" font-weight="normal" fill="#333" >60</text>
<text x="385.50" y="129.94" font-size="6.8" text-anchor="end" font-weight="normal" fill="#333" >40</text>
<text x="385.50" y="142.22" font-size="6.8" text-anchor="end" font-weight="normal" fill="#333" >20</text>
<text x="385.50" y="154.50" font-size="6.8" text-anchor="end" font-weight="normal" fill="#333" >0</text>
<path d="M387.5,219.1 388.8,219.1 390.1,219.1 391.4,219.1 392.7,219.1 394.0,219.1 395.3,219.1 396.6,219.1 397.9,219.1 399.2,219.1 400.5,219.1 401.8,219.1 403.1,219.1 404.4,219.1 405.7,219.1 407.0,219.1 408.3,219.1 409.6,219.0 410.9,218.6 412.2,217.7 413.5,215.6 414.8,211.3 416.1,203.8 417.4,193.0 418.7,179.9 420.0,167.5 421.3,159.4 422.6,158.9 423.9,169.3 425.2,185.9 426.5,201.3 427.8,211.4 429.1,216.4 430.4,218.3 431.7,218.9 433.0,219.1 434.3,219.1 435.6,219.1 436.9,219.1 438.2,219.1 439.5,219.1 440.8,219.1 442.1,219.1 443.4,219.1 444.7,219.1 446.0,219.1 447.3,219.1 448.6,219.1 449.9,219.1 451.2,219.1 452.5,219.1 L452.5,219.1 L387.5,219.1Z" fill="#e2e2e2" stroke="#555" stroke-width="0.6" opacity="1"/>
<path d="M387.5,219.0 388.8,218.9 390.1,218.8 391.4,218.5 392.7,218.0 394.0,217.3 395.3,216.1 396.6,214.5 397.9,212.1 399.2,208.8 400.5,204.6 401.8,199.5 403.1,193.5 404.4,186.8 405.7,179.8 407.0,173.0 408.3,167.0 409.6,162.3 410.9,159.5 412.2,158.8 413.5,164.3 414.8,176.1 416.1,189.9 417.4,202.0 418.7,210.4 420.0,215.3 421.3,217.7 422.6,218.6 423.9,219.0 425.2,219.1 426.5,219.1 427.8,219.1 429.1,219.1 430.4,219.1 431.7,219.1 433.0,219.1 434.3,219.1 435.6,219.1 436.9,219.1 438.2,219.1 439.5,219.1 440.8,219.1 442.1,219.1 443.4,219.1 444.7,219.1 446.0,219.1 447.3,219.1 448.6,219.1 449.9,219.1 451.2,219.1 452.5,219.1" fill="none" stroke="#d87050" stroke-width="0.6" opacity="1" stroke-dasharray="1.2,0.6"/>
<path d="M387.5,219.0 388.8,218.8 390.1,218.6 391.4,218.2 392.7,217.6 394.0,216.7 395.3,215.3 396.6,213.4 397.9,210.6 399.2,207.1 400.5,202.6 401.8,197.2 403.1,191.1 404.4,184.4 405.7,177.6 407.0,171.1 408.3,165.5 409.6,161.3 410.9,158.9 412.2,158.8 413.5,165.2 414.8,177.1 416.1,190.6 417.4,202.2 418.7,210.4 420.0,215.2 421.3,217.6 422.6,218.6 423.9,218.9 425.2,219.1 426.5,219.1 427.8,219.1 429.1,219.1 430.4,219.1 431.7,219.1 433.0,219.1 434.3,219.1 435.6,219.1 436.9,219.1 438.2,219.1 439.5,219.1 440.8,219.1 442.1,219.1 443.4,219.1 444.7,219.1 446.0,219.1 447.3,219.1 448.6,219.1 449.9,219.1 451.2,219.1 452.5,219.1" fill="none" stroke="#555" stroke-width="0.55" opacity="1" stroke-dasharray="0.8,1.2"/>
<path d="M453.6,219.1 454.9,219.1 456.2,219.1 457.5,219.1 458.8,219.1 460.2,219.1 461.5,219.0 462.8,219.0 464.1,218.9 465.4,218.7 466.7,218.4 468.0,217.9 469.3,217.1 470.7,216.0 472.0,214.5 473.3,212.3 474.6,209.4 475.9,205.8 477.2,201.3 478.5,196.0 479.8,190.1 481.2,183.7 482.5,177.2 483.8,171.1 485.1,165.7 486.4,161.5 487.7,158.8 489.0,157.9 490.3,164.5 491.6,180.0 493.0,196.6 494.3,208.7 495.6,215.2 496.9,218.0 498.2,218.8 499.5,219.0 500.8,219.1 502.1,219.1 503.5,219.1 504.8,219.1 506.1,219.1 507.4,219.1 508.7,219.1 510.0,219.1 511.3,219.1 512.6,219.1 514.0,219.1 515.3,219.1 516.6,219.1 517.9,219.1 519.2,219.1 L519.2,219.1 L453.6,219.1Z" fill="#e4e4e4" stroke="#555" stroke-width="0.6" opacity="1"/>
<path d="M453.6,219.0 454.9,219.0 456.2,218.9 457.5,218.8 458.8,218.6 460.2,218.3 461.5,217.9 462.8,217.3 464.1,216.4 465.4,215.2 466.7,213.5 468.0,211.4 469.3,208.7 470.7,205.3 472.0,201.4 473.3,196.8 474.6,191.6 475.9,186.2 477.2,180.5 478.5,174.9 479.8,169.7 481.2,165.2 482.5,161.7 483.8,159.4 485.1,158.4 486.4,160.1 487.7,166.2 489.0,175.4 490.3,185.8 491.6,195.7 493.0,203.9 494.3,210.0 495.6,214.1 496.9,216.6 498.2,217.9 499.5,218.6 500.8,218.9 502.1,219.0 503.5,219.1 504.8,219.1 506.1,219.1 507.4,219.1 508.7,219.1 510.0,219.1 511.3,219.1 512.6,219.1 514.0,219.1 515.3,219.1 516.6,219.1 517.9,219.1 519.2,219.1" fill="none" stroke="#e05050" stroke-width="0.6" opacity="1" stroke-dasharray="1.2,0.6"/>
<path d="M453.6,218.6 454.9,218.4 456.2,218.0 457.5,217.4 458.8,216.6 460.2,215.5 461.5,214.0 462.8,212.0 464.1,209.6 465.4,206.6 466.7,203.0 468.0,198.8 469.3,194.1 470.7,188.9 472.0,183.5 473.3,178.1 474.6,172.9 475.9,168.2 477.2,164.2 478.5,161.2 479.8,159.4 481.2,158.9 482.5,160.9 483.8,165.9 485.1,173.0 486.4,181.3 487.7,189.7 489.0,197.5 490.3,204.1 491.6,209.2 493.0,212.9 494.3,215.5 495.6,217.1 496.9,218.0 498.2,218.6 499.5,218.8 500.8,219.0 502.1,219.1 503.5,219.1 504.8,219.1 506.1,219.1 507.4,219.1 508.7,219.1 510.0,219.1 511.3,219.1 512.6,219.1 514.0,219.1 515.3,219.1 516.6,219.1 517.9,219.1 519.2,219.1" fill="none" stroke="#50a878" stroke-width="0.6" opacity="1" stroke-dasharray="1.2,0.8"/>
<text x="385.50" y="159.50" font-size="6.8" text-anchor="end" font-weight="normal" fill="#333" >100</text>
<text x="385.50" y="171.90" font-size="6.8" text-anchor="end" font-weight="normal" fill="#333" >80</text>
<text x="385.50" y="184.30" font-size="6.8" text-anchor="end" font-weight="normal" fill="#333" >60</text>
<text x="385.50" y="196.70" font-size="6.8" text-anchor="end" font-weight="normal" fill="#333" >40</text>
<text x="385.50" y="209.10" font-size="6.8" text-anchor="end" font-weight="normal" fill="#333" >20</text>
<text x="385.50" y="221.50" font-size="6.8" text-anchor="end" font-weight="normal" fill="#333" >0</text>
<path d="M387.5,285.6 388.8,285.6 390.1,285.6 391.4,285.6 392.7,285.6 394.0,285.6 395.3,285.6 396.6,285.6 397.9,285.6 399.2,285.6 400.5,285.6 401.8,285.6 403.1,285.6 404.4,285.6 405.7,285.6 407.0,285.6 408.3,285.6 409.6,285.5 410.9,285.1 412.2,284.2 413.5,282.1 414.8,277.8 416.1,270.5 417.4,259.8 418.7,246.8 420.0,234.5 421.3,226.5 422.6,226.0 423.9,236.3 425.2,252.8 426.5,268.0 427.8,278.0 429.1,282.9 430.4,284.9 431.7,285.4 433.0,285.6 434.3,285.6 435.6,285.6 436.9,285.6 438.2,285.6 439.5,285.6 440.8,285.6 442.1,285.6 443.4,285.6 444.7,285.6 446.0,285.6 447.3,285.6 448.6,285.6 449.9,285.6 451.2,285.6 452.5,285.6 L452.5,285.6 L387.5,285.6Z" fill="#e2e2e2" stroke="#555" stroke-width="0.6" opacity="1"/>
<path d="M387.5,285.5 388.8,285.4 390.1,285.3 391.4,285.0 392.7,284.5 394.0,283.8 395.3,282.7 396.6,281.0 397.9,278.6 399.2,275.4 400.5,271.3 401.8,266.2 403.1,260.2 404.4,253.6 405.7,246.7 407.0,240.0 408.3,234.0 409.6,229.4 410.9,226.6 412.2,225.9 413.5,231.3 414.8,243.0 416.1,256.7 417.4,268.7 418.7,277.0 420.0,281.8 421.3,284.2 422.6,285.1 423.9,285.5 425.2,285.6 426.5,285.6 427.8,285.6 429.1,285.6 430.4,285.6 431.7,285.6 433.0,285.6 434.3,285.6 435.6,285.6 436.9,285.6 438.2,285.6 439.5,285.6 440.8,285.6 442.1,285.6 443.4,285.6 444.7,285.6 446.0,285.6 447.3,285.6 448.6,285.6 449.9,285.6 451.2,285.6 452.5,285.6" fill="none" stroke="#d87050" stroke-width="0.6" opacity="1" stroke-dasharray="1.2,0.6"/>
<path d="M387.5,285.5 388.8,285.3 390.1,285.1 391.4,284.7 392.7,284.1 394.0,283.2 395.3,281.9 396.6,279.9 397.9,277.2 399.2,273.7 400.5,269.3 401.8,263.9 403.1,257.8 404.4,251.2 405.7,244.5 407.0,238.1 408.3,232.6 409.6,228.4 410.9,226.0 412.2,225.9 413.5,232.2 414.8,244.0 416.1,257.3 417.4,268.9 418.7,277.0 420.0,281.7 421.3,284.1 422.6,285.1 423.9,285.4 425.2,285.6 426.5,285.6 427.8,285.6 429.1,285.6 430.4,285.6 431.7,285.6 433.0,285.6 434.3,285.6 435.6,285.6 436.9,285.6 438.2,285.6 439.5,285.6 440.8,285.6 442.1,285.6 443.4,285.6 444.7,285.6 446.0,285.6 447.3,285.6 448.6,285.6 449.9,285.6 451.2,285.6 452.5,285.6" fill="none" stroke="#555" stroke-width="0.55" opacity="1" stroke-dasharray="0.8,1.2"/>
<path d="M453.6,285.6 454.9,285.6 456.2,285.6 457.5,285.6 458.8,285.6 460.2,285.6 461.5,285.5 462.8,285.5 464.1,285.4 465.4,285.2 466.7,284.9 468.0,284.4 469.3,283.6 470.7,282.6 472.0,281.0 473.3,278.9 474.6,276.0 475.9,272.4 477.2,268.0 478.5,262.7 479.8,256.9 481.2,250.5 482.5,244.1 483.8,238.1 485.1,232.7 486.4,228.5 487.7,225.9 489.0,225.0 490.3,231.5 491.6,246.9 493.0,263.3 494.3,275.3 495.6,281.8 496.9,284.5 498.2,285.3 499.5,285.5 500.8,285.6 502.1,285.6 503.5,285.6 504.8,285.6 506.1,285.6 507.4,285.6 508.7,285.6 510.0,285.6 511.3,285.6 512.6,285.6 514.0,285.6 515.3,285.6 516.6,285.6 517.9,285.6 519.2,285.6 L519.2,285.6 L453.6,285.6Z" fill="#e4e4e4" stroke="#555" stroke-width="0.6" opacity="1"/>
<path d="M453.6,285.5 454.9,285.5 456.2,285.4 457.5,285.3 458.8,285.1 460.2,284.8 461.5,284.4 462.8,283.8 464.1,282.9 465.4,281.7 466.7,280.1 468.0,278.0 469.3,275.3 470.7,272.0 472.0,268.0 473.3,263.5 474.6,258.4 475.9,253.0 477.2,247.4 478.5,241.8 479.8,236.7 481.2,232.2 482.5,228.8 483.8,226.5 485.1,225.5 486.4,227.2 487.7,233.2 489.0,242.3 490.3,252.6 491.6,262.4 493.0,270.6 494.3,276.6 495.6,280.7 496.9,283.1 498.2,284.4 499.5,285.1 500.8,285.4 502.1,285.5 503.5,285.6 504.8,285.6 506.1,285.6 507.4,285.6 508.7,285.6 510.0,285.6 511.3,285.6 512.6,285.6 514.0,285.6 515.3,285.6 516.6,285.6 517.9,285.6 519.2,285.6" fill="none" stroke="#e05050" stroke-width="0.6" opacity="1" stroke-dasharray="1.2,0.6"/>
<path d="M453.6,285.1 454.9,284.9 456.2,284.5 457.5,283.9 458.8,283.1 460.2,282.0 461.5,280.5 462.8,278.6 464.1,276.2 465.4,273.2 466.7,269.6 468.0,265.5 469.3,260.8 470.7,255.7 472.0,250.4 473.3,245.0 474.6,239.9 475.9,235.2 477.2,231.3 478.5,228.3 479.8,226.5 481.2,226.0 482.5,228.0 483.8,232.9 485.1,239.9 486.4,248.2 487.7,256.5 489.0,264.2 490.3,270.8 491.6,275.8 493.0,279.5 494.3,282.0 495.6,283.6 496.9,284.5 498.2,285.1 499.5,285.3 500.8,285.5 502.1,285.6 503.5,285.6 504.8,285.6 506.1,285.6 507.4,285.6 508.7,285.6 510.0,285.6 511.3,285.6 512.6,285.6 514.0,285.6 515.3,285.6 516.6,285.6 517.9,285.6 519.2,285.6" fill="none" stroke="#50a878" stroke-width="0.6" opacity="1" stroke-dasharray="1.2,0.8"/>
<text x="385.50" y="226.60" font-size="6.8" text-anchor="end" font-weight="normal" fill="#333" >100</text>
<text x="385.50" y="238.88" font-size="6.8" text-anchor="end" font-weight="normal" fill="#333" >80</text>
<text x="385.50" y="251.16" font-size="6.8" text-anchor="end" font-weight="normal" fill="#333" >60</text>
<text x="385.50" y="263.44" font-size="6.8" text-anchor="end" font-weight="normal" fill="#333" >40</text>
<text x="385.50" y="275.72" font-size="6.8" text-anchor="end" font-weight="normal" fill="#333" >20</text>
<text x="385.50" y="288.00" font-size="6.8" text-anchor="end" font-weight="normal" fill="#333" >0</text>
<rect x="387.50" y="21.00" width="65.00" height="65.40" stroke="#b0b0b0" stroke-width="1" fill="none"/>
<rect x="453.60" y="21.00" width="65.60" height="65.40" stroke="#b0b0b0" stroke-width="1" fill="none"/>
<rect x="387.50" y="87.10" width="65.00" height="65.00" stroke="#b0b0b0" stroke-width="1" fill="none"/>
<rect x="453.60" y="87.10" width="65.60" height="65.00" stroke="#b0b0b0" stroke-width="1" fill="none"/>
<rect x="387.50" y="153.50" width="65.00" height="65.60" stroke="#b0b0b0" stroke-width="1" fill="none"/>
<rect x="453.60" y="153.50" width="65.60" height="65.60" stroke="#b0b0b0" stroke-width="1" fill="none"/>
<rect x="387.50" y="220.60" width="65.00" height="65.00" stroke="#b0b0b0" stroke-width="1" fill="none"/>
<rect x="453.60" y="220.60" width="65.60" height="65.00" stroke="#b0b0b0" stroke-width="1" fill="none"/>
<text x="402.10" y="296.00" font-size="6.9" text-anchor="middle" font-weight="normal" fill="#333" >0</text>
<rect x="400.9" y="285.2" width="1.3" height="1.3" fill="#222"/>
<text x="408.90" y="296.00" font-size="6.9" text-anchor="start" fill="#333">10<tspan font-size="4.9" dy="-3.5">3</tspan></text>
<text x="426.40" y="296.00" font-size="6.9" text-anchor="start" fill="#333">10<tspan font-size="4.9" dy="-3.5">4</tspan></text>
<text x="441.40" y="296.00" font-size="6.9" text-anchor="start" fill="#333">10<tspan font-size="4.9" dy="-3.5">5</tspan></text>
<text x="468.20" y="296.00" font-size="6.9" text-anchor="middle" font-weight="normal" fill="#333" >0</text>
<rect x="467.0" y="285.2" width="1.3" height="1.3" fill="#222"/>
<text x="475.00" y="296.00" font-size="6.9" text-anchor="start" fill="#333">10<tspan font-size="4.9" dy="-3.5">3</tspan></text>
<text x="492.50" y="296.00" font-size="6.9" text-anchor="start" fill="#333">10<tspan font-size="4.9" dy="-3.5">4</tspan></text>
<text x="507.50" y="296.00" font-size="6.9" text-anchor="start" fill="#333">10<tspan font-size="4.9" dy="-3.5">5</tspan></text>
<text x="451.50" y="306.00" font-size="9" text-anchor="middle" font-weight="normal" fill="#111" >IL-7R<tspan font-family="Liberation Serif">α</tspan></text>
<line x1="387.50" y1="303.40" x2="432.00" y2="303.40" stroke="#9c9c9c" stroke-width="1" />
<line x1="472.00" y1="303.40" x2="516.00" y2="303.40" stroke="#9c9c9c" stroke-width="1" />
<line x1="367.40" y1="19.50" x2="367.40" y2="134.50" stroke="#a8a8a8" stroke-width="1" />
<line x1="367.40" y1="168.50" x2="367.40" y2="285.50" stroke="#a8a8a8" stroke-width="1" />
<text x="0" y="0" font-size="7.2" text-anchor="middle" fill="#222" transform="translate(370,150.5) rotate(-90)">% of Max</text>
<text x="64.60" y="326.00" font-size="13" text-anchor="start" font-weight="bold" fill="#000" >C</text>
<text x="122.90" y="342.50" font-size="9" text-anchor="middle" font-weight="normal" fill="#111" >Adult</text>
<text x="189.50" y="342.50" font-size="9" text-anchor="middle" font-weight="normal" fill="#111" >Cord</text>
<path d="M91.0,410.0 92.3,410.0 93.6,410.0 94.9,410.0 96.2,410.0 97.6,410.0 98.9,410.0 100.2,410.0 101.5,410.0 102.8,410.0 104.1,410.0 105.4,410.0 106.7,410.0 108.1,410.0 109.4,410.0 110.7,410.0 112.0,410.0 113.3,409.8 114.6,409.4 115.9,408.3 117.2,405.5 118.6,399.8 119.9,390.3 121.2,377.3 122.5,363.2 123.8,352.2 125.1,348.7 126.4,368.6 127.7,395.7 129.0,407.5 130.4,409.8 131.7,410.0 133.0,410.0 134.3,410.0 135.6,410.0 136.9,410.0 138.2,410.0 139.5,410.0 140.9,410.0 142.2,410.0 143.5,410.0 144.8,410.0 146.1,410.0 147.4,410.0 148.7,410.0 150.0,410.0 151.4,410.0 152.7,410.0 154.0,410.0 155.3,410.0 156.6,410.0 L156.6,410.0 L91.0,410.0Z" fill="#d6d6d6" stroke="#777" stroke-width="0.6" opacity="1"/>
<path d="M91.0,410.0 92.3,410.0 93.6,410.0 94.9,410.0 96.2,410.0 97.6,410.0 98.9,410.0 100.2,410.0 101.5,410.0 102.8,410.0 104.1,410.0 105.4,410.0 106.7,410.0 108.1,410.0 109.4,410.0 110.7,410.0 112.0,410.0 113.3,410.0 114.6,410.0 115.9,410.0 117.2,410.0 118.6,410.0 119.9,410.0 121.2,410.0 122.5,410.0 123.8,410.0 125.1,410.0 126.4,409.8 127.7,408.5 129.0,402.1 130.4,384.8 131.7,360.1 133.0,348.6 134.3,363.0 135.6,387.7 136.9,403.4 138.2,408.8 139.5,409.9 140.9,410.0 142.2,410.0 143.5,410.0 144.8,410.0 146.1,410.0 147.4,410.0 148.7,410.0 150.0,410.0 151.4,410.0 152.7,410.0 154.0,410.0 155.3,410.0 156.6,410.0 L156.6,410.0 L91.0,410.0Z" fill="#f6f2ee" stroke="#e0a878" stroke-width="0.55" opacity="1"/>
<path d="M91.0,410.0 92.3,410.0 93.6,410.0 94.9,410.0 96.2,410.0 97.6,410.0 98.9,410.0 100.2,410.0 101.5,410.0 102.8,410.0 104.1,410.0 105.4,410.0 106.7,410.0 108.1,410.0 109.4,410.0 110.7,410.0 112.0,410.0 113.3,410.0 114.6,410.0 115.9,410.0 117.2,410.0 118.6,410.0 119.9,410.0 121.2,410.0 122.5,410.0 123.8,410.0 125.1,409.9 126.4,409.5 127.7,406.8 129.0,397.4 130.4,377.3 131.7,355.0 133.0,349.9 134.3,367.3 135.6,390.3 136.9,404.1 138.2,408.8 139.5,409.9 140.9,410.0 142.2,410.0 143.5,410.0 144.8,410.0 146.1,410.0 147.4,410.0 148.7,410.0 150.0,410.0 151.4,410.0 152.7,410.0 154.0,410.0 155.3,410.0 156.6,410.0" fill="none" stroke="#999" stroke-width="0.45" opacity="1" stroke-dasharray="1.5,1"/>
<path d="M158.2,410.0 159.5,410.0 160.8,410.0 162.1,410.0 163.5,410.0 164.8,410.0 166.1,410.0 167.4,410.0 168.7,410.0 170.0,410.0 171.4,410.0 172.7,410.0 174.0,410.0 175.3,410.0 176.6,410.0 177.9,410.0 179.3,410.0 180.6,410.0 181.9,410.0 183.2,410.0 184.5,410.0 185.8,410.0 187.2,410.0 188.5,409.8 189.8,408.6 191.1,404.2 192.4,392.9 193.7,373.8 195.0,354.6 196.4,349.6 197.7,377.5 199.0,402.8 200.3,409.3 201.6,410.0 202.9,410.0 204.3,410.0 205.6,410.0 206.9,410.0 208.2,410.0 209.5,410.0 210.8,410.0 212.2,410.0 213.5,410.0 214.8,410.0 216.1,410.0 217.4,410.0 218.7,410.0 220.1,410.0 221.4,410.0 222.7,410.0 224.0,410.0 L224.0,410.0 L158.2,410.0Z" fill="#d6d6d6" stroke="#777" stroke-width="0.6" opacity="1"/>
<path d="M158.2,410.0 159.5,410.0 160.8,410.0 162.1,410.0 163.5,410.0 164.8,410.0 166.1,410.0 167.4,410.0 168.7,410.0 170.0,410.0 171.4,410.0 172.7,410.0 174.0,410.0 175.3,410.0 176.6,410.0 177.9,410.0 179.3,410.0 180.6,410.0 181.9,410.0 183.2,410.0 184.5,410.0 185.8,410.0 187.2,410.0 188.5,410.0 189.8,410.0 191.1,410.0 192.4,410.0 193.7,410.0 195.0,410.0 196.4,409.9 197.7,408.9 199.0,401.7 200.3,379.3 201.6,352.3 202.9,353.5 204.3,378.1 205.6,399.4 206.9,407.9 208.2,409.8 209.5,410.0 210.8,410.0 212.2,410.0 213.5,410.0 214.8,410.0 216.1,410.0 217.4,410.0 218.7,410.0 220.1,410.0 221.4,410.0 222.7,410.0 224.0,410.0 L224.0,410.0 L158.2,410.0Z" fill="#f6f6ee" stroke="#c8c878" stroke-width="0.55" opacity="1"/>
<path d="M158.2,410.0 159.5,410.0 160.8,410.0 162.1,410.0 163.5,410.0 164.8,410.0 166.1,410.0 167.4,410.0 168.7,410.0 170.0,410.0 171.4,410.0 172.7,410.0 174.0,410.0 175.3,410.0 176.6,410.0 177.9,410.0 179.3,410.0 180.6,410.0 181.9,410.0 183.2,410.0 184.5,410.0 185.8,410.0 187.2,410.0 188.5,410.0 189.8,410.0 191.1,410.0 192.4,410.0 193.7,410.0 195.0,410.0 196.4,409.5 197.7,406.6 199.0,394.8 200.3,370.6 201.6,350.1 202.9,355.9 204.3,379.8 205.6,399.6 206.9,407.8 208.2,409.7 209.5,410.0 210.8,410.0 212.2,410.0 213.5,410.0 214.8,410.0 216.1,410.0 217.4,410.0 218.7,410.0 220.1,410.0 221.4,410.0 222.7,410.0 224.0,410.0" fill="none" stroke="#999" stroke-width="0.45" opacity="1" stroke-dasharray="1.5,1"/>
<line x1="91.00" y1="409.50" x2="156.60" y2="409.50" stroke="#8ab08a" stroke-width="0.8" />
<line x1="158.20" y1="409.50" x2="224.00" y2="409.50" stroke="#8ab08a" stroke-width="0.8" />
<text x="89.00" y="351.20" font-size="6.8" text-anchor="end" font-weight="normal" fill="#333" >100</text>
<text x="89.00" y="363.44" font-size="6.8" text-anchor="end" font-weight="normal" fill="#333" >80</text>
<text x="89.00" y="375.68" font-size="6.8" text-anchor="end" font-weight="normal" fill="#333" >60</text>
<text x="89.00" y="387.92" font-size="6.8" text-anchor="end" font-weight="normal" fill="#333" >40</text>
<text x="89.00" y="400.16" font-size="6.8" text-anchor="end" font-weight="normal" fill="#333" >20</text>
<text x="89.00" y="412.40" font-size="6.8" text-anchor="end" font-weight="normal" fill="#333" >0</text>
<text x="32.80" y="381.40" font-size="9" text-anchor="middle" font-weight="normal" fill="#111" >IL-7</text>
<path d="M91.0,478.0 92.3,478.0 93.6,478.0 94.9,478.0 96.2,478.0 97.6,478.0 98.9,478.0 100.2,478.0 101.5,478.0 102.8,478.0 104.1,478.0 105.4,478.0 106.7,478.0 108.1,478.0 109.4,478.0 110.7,478.0 112.0,478.0 113.3,477.8 114.6,477.4 115.9,476.2 117.2,473.4 118.6,467.7 119.9,458.2 121.2,445.1 122.5,430.8 123.8,419.7 125.1,416.2 126.4,436.3 127.7,463.6 129.0,475.5 130.4,477.8 131.7,478.0 133.0,478.0 134.3,478.0 135.6,478.0 136.9,478.0 138.2,478.0 139.5,478.0 140.9,478.0 142.2,478.0 143.5,478.0 144.8,478.0 146.1,478.0 147.4,478.0 148.7,478.0 150.0,478.0 151.4,478.0 152.7,478.0 154.0,478.0 155.3,478.0 156.6,478.0 L156.6,478.0 L91.0,478.0Z" fill="#d6d6d6" stroke="#777" stroke-width="0.6" opacity="1"/>
<path d="M91.0,478.0 92.3,478.0 93.6,478.0 94.9,478.0 96.2,478.0 97.6,478.0 98.9,478.0 100.2,478.0 101.5,478.0 102.8,478.0 104.1,478.0 105.4,478.0 106.7,478.0 108.1,478.0 109.4,478.0 110.7,478.0 112.0,478.0 113.3,478.0 114.6,478.0 115.9,478.0 117.2,478.0 118.6,478.0 119.9,478.0 121.2,478.0 122.5,478.0 123.8,478.0 125.1,478.0 126.4,477.8 127.7,476.5 129.0,470.1 130.4,452.6 131.7,427.7 133.0,416.1 134.3,430.7 135.6,455.5 136.9,471.4 138.2,476.8 139.5,477.9 140.9,478.0 142.2,478.0 143.5,478.0 144.8,478.0 146.1,478.0 147.4,478.0 148.7,478.0 150.0,478.0 151.4,478.0 152.7,478.0 154.0,478.0 155.3,478.0 156.6,478.0 L156.6,478.0 L91.0,478.0Z" fill="#f6f2ee" stroke="#e0a878" stroke-width="0.55" opacity="1"/>
<path d="M91.0,478.0 92.3,478.0 93.6,478.0 94.9,478.0 96.2,478.0 97.6,478.0 98.9,478.0 100.2,478.0 101.5,478.0 102.8,478.0 104.1,478.0 105.4,478.0 106.7,478.0 108.1,478.0 109.4,478.0 110.7,478.0 112.0,478.0 113.3,478.0 114.6,478.0 115.9,478.0 117.2,478.0 118.6,478.0 119.9,478.0 121.2,478.0 122.5,478.0 123.8,478.0 125.1,477.9 126.4,477.5 127.7,474.8 129.0,465.3 130.4,445.0 131.7,422.6 133.0,417.4 134.3,434.9 135.6,458.1 136.9,472.0 138.2,476.8 139.5,477.9 140.9,478.0 142.2,478.0 143.5,478.0 144.8,478.0 146.1,478.0 147.4,478.0 148.7,478.0 150.0,478.0 151.4,478.0 152.7,478.0 154.0,478.0 155.3,478.0 156.6,478.0" fill="none" stroke="#999" stroke-width="0.45" opacity="1" stroke-dasharray="1.5,1"/>
<path d="M158.2,478.0 159.5,478.0 160.8,478.0 162.1,478.0 163.5,478.0 164.8,478.0 166.1,478.0 167.4,478.0 168.7,478.0 170.0,478.0 171.4,478.0 172.7,478.0 174.0,478.0 175.3,478.0 176.6,478.0 177.9,478.0 179.3,478.0 180.6,478.0 181.9,478.0 183.2,478.0 184.5,478.0 185.8,478.0 187.2,478.0 188.5,477.7 189.8,476.6 191.1,472.2 192.4,460.8 193.7,441.5 195.0,422.2 196.4,417.1 197.7,445.2 199.0,470.7 200.3,477.3 201.6,478.0 202.9,478.0 204.3,478.0 205.6,478.0 206.9,478.0 208.2,478.0 209.5,478.0 210.8,478.0 212.2,478.0 213.5,478.0 214.8,478.0 216.1,478.0 217.4,478.0 218.7,478.0 220.1,478.0 221.4,478.0 222.7,478.0 224.0,478.0 L224.0,478.0 L158.2,478.0Z" fill="#d6d6d6" stroke="#777" stroke-width="0.6" opacity="1"/>
<path d="M158.2,478.0 159.5,478.0 160.8,478.0 162.1,478.0 163.5,478.0 164.8,478.0 166.1,478.0 167.4,478.0 168.7,478.0 170.0,478.0 171.4,478.0 172.7,478.0 174.0,478.0 175.3,478.0 176.6,478.0 177.9,478.0 179.3,478.0 180.6,478.0 181.9,478.0 183.2,478.0 184.5,478.0 185.8,478.0 187.2,478.0 188.5,478.0 189.8,478.0 191.1,478.0 192.4,478.0 193.7,478.0 195.0,478.0 196.4,477.9 197.7,476.9 199.0,469.7 200.3,447.1 201.6,419.8 202.9,421.1 204.3,445.8 205.6,467.3 206.9,475.9 208.2,477.8 209.5,478.0 210.8,478.0 212.2,478.0 213.5,478.0 214.8,478.0 216.1,478.0 217.4,478.0 218.7,478.0 220.1,478.0 221.4,478.0 222.7,478.0 224.0,478.0 L224.0,478.0 L158.2,478.0Z" fill="#f6f6ee" stroke="#c8c878" stroke-width="0.55" opacity="1"/>
<path d="M158.2,478.0 159.5,478.0 160.8,478.0 162.1,478.0 163.5,478.0 164.8,478.0 166.1,478.0 167.4,478.0 168.7,478.0 170.0,478.0 171.4,478.0 172.7,478.0 174.0,478.0 175.3,478.0 176.6,478.0 177.9,478.0 179.3,478.0 180.6,478.0 181.9,478.0 183.2,478.0 184.5,478.0 185.8,478.0 187.2,478.0 188.5,478.0 189.8,478.0 191.1,478.0 192.4,478.0 193.7,478.0 195.0,478.0 196.4,477.5 197.7,474.5 199.0,462.7 200.3,438.3 201.6,417.6 202.9,423.5 204.3,447.6 205.6,467.5 206.9,475.8 208.2,477.7 209.5,478.0 210.8,478.0 212.2,478.0 213.5,478.0 214.8,478.0 216.1,478.0 217.4,478.0 218.7,478.0 220.1,478.0 221.4,478.0 222.7,478.0 224.0,478.0" fill="none" stroke="#999" stroke-width="0.45" opacity="1" stroke-dasharray="1.5,1"/>
<line x1="91.00" y1="477.50" x2="156.60" y2="477.50" stroke="#8ab08a" stroke-width="0.8" />
<line x1="158.20" y1="477.50" x2="224.00" y2="477.50" stroke="#8ab08a" stroke-width="0.8" />
<text x="89.00" y="418.70" font-size="6.8" text-anchor="end" font-weight="normal" fill="#333" >100</text>
<text x="89.00" y="431.04" font-size="6.8" text-anchor="end" font-weight="normal" fill="#333" >80</text>
<text x="89.00" y="443.38" font-size="6.8" text-anchor="end" font-weight="normal" fill="#333" >60</text>
<text x="89.00" y="455.72" font-size="6.8" text-anchor="end" font-weight="normal" fill="#333" >40</text>
<text x="89.00" y="468.06" font-size="6.8" text-anchor="end" font-weight="normal" fill="#333" >20</text>
<text x="89.00" y="480.40" font-size="6.8" text-anchor="end" font-weight="normal" fill="#333" >0</text>
<text x="33.40" y="446.70" font-size="9" text-anchor="middle" font-weight="normal" fill="#111" >IL-7 + LY294002</text>
<path d="M91.0,546.0 92.3,546.0 93.6,546.0 94.9,546.0 96.2,546.0 97.6,546.0 98.9,546.0 100.2,546.0 101.5,546.0 102.8,546.0 104.1,546.0 105.4,546.0 106.7,546.0 108.1,546.0 109.4,546.0 110.7,546.0 112.0,546.0 113.3,545.8 114.6,545.4 115.9,544.2 117.2,541.4 118.6,535.8 119.9,526.3 121.2,513.2 122.5,499.0 123.8,487.9 125.1,484.4 126.4,504.4 127.7,531.7 129.0,543.5 130.4,545.8 131.7,546.0 133.0,546.0 134.3,546.0 135.6,546.0 136.9,546.0 138.2,546.0 139.5,546.0 140.9,546.0 142.2,546.0 143.5,546.0 144.8,546.0 146.1,546.0 147.4,546.0 148.7,546.0 150.0,546.0 151.4,546.0 152.7,546.0 154.0,546.0 155.3,546.0 156.6,546.0 L156.6,546.0 L91.0,546.0Z" fill="#d6d6d6" stroke="#777" stroke-width="0.6" opacity="1"/>
<path d="M91.0,546.0 92.3,546.0 93.6,546.0 94.9,546.0 96.2,546.0 97.6,546.0 98.9,546.0 100.2,546.0 101.5,546.0 102.8,546.0 104.1,546.0 105.4,546.0 106.7,546.0 108.1,546.0 109.4,546.0 110.7,546.0 112.0,546.0 113.3,546.0 114.6,546.0 115.9,546.0 117.2,546.0 118.6,546.0 119.9,546.0 121.2,546.0 122.5,546.0 123.8,546.0 125.1,546.0 126.4,545.8 127.7,544.5 129.0,538.1 130.4,520.7 131.7,495.8 133.0,484.3 134.3,498.8 135.6,523.6 136.9,539.4 138.2,544.8 139.5,545.9 140.9,546.0 142.2,546.0 143.5,546.0 144.8,546.0 146.1,546.0 147.4,546.0 148.7,546.0 150.0,546.0 151.4,546.0 152.7,546.0 154.0,546.0 155.3,546.0 156.6,546.0 L156.6,546.0 L91.0,546.0Z" fill="#f6f2ee" stroke="#e0a878" stroke-width="0.55" opacity="1"/>
<path d="M91.0,546.0 92.3,546.0 93.6,546.0 94.9,546.0 96.2,546.0 97.6,546.0 98.9,546.0 100.2,546.0 101.5,546.0 102.8,546.0 104.1,546.0 105.4,546.0 106.7,546.0 108.1,546.0 109.4,546.0 110.7,546.0 112.0,546.0 113.3,546.0 114.6,546.0 115.9,546.0 117.2,546.0 118.6,546.0 119.9,546.0 121.2,546.0 122.5,546.0 123.8,546.0 125.1,545.9 126.4,545.5 127.7,542.8 129.0,533.3 130.4,513.2 131.7,490.8 133.0,485.6 134.3,503.1 135.6,526.2 136.9,540.0 138.2,544.8 139.5,545.9 140.9,546.0 142.2,546.0 143.5,546.0 144.8,546.0 146.1,546.0 147.4,546.0 148.7,546.0 150.0,546.0 151.4,546.0 152.7,546.0 154.0,546.0 155.3,546.0 156.6,546.0" fill="none" stroke="#999" stroke-width="0.45" opacity="1" stroke-dasharray="1.5,1"/>
<path d="M158.2,546.0 159.5,546.0 160.8,546.0 162.1,546.0 163.5,546.0 164.8,546.0 166.1,546.0 167.4,546.0 168.7,546.0 170.0,546.0 171.4,546.0 172.7,546.0 174.0,546.0 175.3,546.0 176.6,546.0 177.9,546.0 179.3,546.0 180.6,546.0 181.9,546.0 183.2,546.0 184.5,546.0 185.8,546.0 187.2,546.0 188.5,545.7 189.8,544.6 191.1,540.2 192.4,528.9 193.7,509.6 195.0,490.3 196.4,485.3 197.7,513.3 199.0,538.7 200.3,545.3 201.6,546.0 202.9,546.0 204.3,546.0 205.6,546.0 206.9,546.0 208.2,546.0 209.5,546.0 210.8,546.0 212.2,546.0 213.5,546.0 214.8,546.0 216.1,546.0 217.4,546.0 218.7,546.0 220.1,546.0 221.4,546.0 222.7,546.0 224.0,546.0 L224.0,546.0 L158.2,546.0Z" fill="#d6d6d6" stroke="#777" stroke-width="0.6" opacity="1"/>
<path d="M158.2,546.0 159.5,546.0 160.8,546.0 162.1,546.0 163.5,546.0 164.8,546.0 166.1,546.0 167.4,546.0 168.7,546.0 170.0,546.0 171.4,546.0 172.7,546.0 174.0,546.0 175.3,546.0 176.6,546.0 177.9,546.0 179.3,546.0 180.6,546.0 181.9,546.0 183.2,546.0 184.5,546.0 185.8,546.0 187.2,546.0 188.5,546.0 189.8,546.0 191.1,546.0 192.4,546.0 193.7,546.0 195.0,546.0 196.4,545.9 197.7,544.9 199.0,537.7 200.3,515.2 201.6,488.0 202.9,489.3 204.3,513.9 205.6,535.4 206.9,543.9 208.2,545.8 209.5,546.0 210.8,546.0 212.2,546.0 213.5,546.0 214.8,546.0 216.1,546.0 217.4,546.0 218.7,546.0 220.1,546.0 221.4,546.0 222.7,546.0 224.0,546.0 L224.0,546.0 L158.2,546.0Z" fill="#f6f6ee" stroke="#c8c878" stroke-width="0.55" opacity="1"/>
<path d="M158.2,546.0 159.5,546.0 160.8,546.0 162.1,546.0 163.5,546.0 164.8,546.0 166.1,546.0 167.4,546.0 168.7,546.0 170.0,546.0 171.4,546.0 172.7,546.0 174.0,546.0 175.3,546.0 176.6,546.0 177.9,546.0 179.3,546.0 180.6,546.0 181.9,546.0 183.2,546.0 184.5,546.0 185.8,546.0 187.2,546.0 188.5,546.0 189.8,546.0 191.1,546.0 192.4,546.0 193.7,546.0 195.0,546.0 196.4,545.5 197.7,542.5 199.0,530.7 200.3,506.4 201.6,485.8 202.9,491.6 204.3,515.7 205.6,535.5 206.9,543.8 208.2,545.7 209.5,546.0 210.8,546.0 212.2,546.0 213.5,546.0 214.8,546.0 216.1,546.0 217.4,546.0 218.7,546.0 220.1,546.0 221.4,546.0 222.7,546.0 224.0,546.0" fill="none" stroke="#999" stroke-width="0.45" opacity="1" stroke-dasharray="1.5,1"/>
<line x1="91.00" y1="545.50" x2="156.60" y2="545.50" stroke="#8ab08a" stroke-width="0.8" />
<line x1="158.20" y1="545.50" x2="224.00" y2="545.50" stroke="#8ab08a" stroke-width="0.8" />
<text x="89.00" y="486.90" font-size="6.8" text-anchor="end" font-weight="normal" fill="#333" >100</text>
<text x="89.00" y="499.20" font-size="6.8" text-anchor="end" font-weight="normal" fill="#333" >80</text>
<text x="89.00" y="511.50" font-size="6.8" text-anchor="end" font-weight="normal" fill="#333" >60</text>
<text x="89.00" y="523.80" font-size="6.8" text-anchor="end" font-weight="normal" fill="#333" >40</text>
<text x="89.00" y="536.10" font-size="6.8" text-anchor="end" font-weight="normal" fill="#333" >20</text>
<text x="89.00" y="548.40" font-size="6.8" text-anchor="end" font-weight="normal" fill="#333" >0</text>
<text x="33.40" y="518.50" font-size="9" text-anchor="middle" font-weight="normal" fill="#111" >IL-7 + PD98059</text>
<path d="M91.0,613.4 92.3,613.4 93.6,613.4 94.9,613.4 96.2,613.4 97.6,613.4 98.9,613.4 100.2,613.4 101.5,613.4 102.8,613.4 104.1,613.4 105.4,613.4 106.7,613.4 108.1,613.4 109.4,613.4 110.7,613.4 112.0,613.4 113.3,613.2 114.6,612.8 115.9,611.7 117.2,608.9 118.6,603.2 119.9,593.8 121.2,580.8 122.5,566.7 123.8,555.7 125.1,552.2 126.4,572.1 127.7,599.2 129.0,610.9 130.4,613.2 131.7,613.4 133.0,613.4 134.3,613.4 135.6,613.4 136.9,613.4 138.2,613.4 139.5,613.4 140.9,613.4 142.2,613.4 143.5,613.4 144.8,613.4 146.1,613.4 147.4,613.4 148.7,613.4 150.0,613.4 151.4,613.4 152.7,613.4 154.0,613.4 155.3,613.4 156.6,613.4 L156.6,613.4 L91.0,613.4Z" fill="#d6d6d6" stroke="#777" stroke-width="0.6" opacity="1"/>
<path d="M91.0,613.4 92.3,613.4 93.6,613.4 94.9,613.4 96.2,613.4 97.6,613.4 98.9,613.4 100.2,613.4 101.5,613.4 102.8,613.4 104.1,613.4 105.4,613.4 106.7,613.4 108.1,613.4 109.4,613.4 110.7,613.4 112.0,613.4 113.3,613.4 114.6,613.4 115.9,613.4 117.2,613.4 118.6,613.4 119.9,613.4 121.2,613.4 122.5,613.4 123.8,613.4 125.1,613.4 126.4,613.2 127.7,611.9 129.0,605.5 130.4,588.3 131.7,563.6 133.0,552.1 134.3,566.5 135.6,591.2 136.9,606.9 138.2,612.2 139.5,613.3 140.9,613.4 142.2,613.4 143.5,613.4 144.8,613.4 146.1,613.4 147.4,613.4 148.7,613.4 150.0,613.4 151.4,613.4 152.7,613.4 154.0,613.4 155.3,613.4 156.6,613.4 L156.6,613.4 L91.0,613.4Z" fill="#f6f2ee" stroke="#e0a878" stroke-width="0.55" opacity="1"/>
<path d="M91.0,613.4 92.3,613.4 93.6,613.4 94.9,613.4 96.2,613.4 97.6,613.4 98.9,613.4 100.2,613.4 101.5,613.4 102.8,613.4 104.1,613.4 105.4,613.4 106.7,613.4 108.1,613.4 109.4,613.4 110.7,613.4 112.0,613.4 113.3,613.4 114.6,613.4 115.9,613.4 117.2,613.4 118.6,613.4 119.9,613.4 121.2,613.4 122.5,613.4 123.8,613.4 125.1,613.3 126.4,612.9 127.7,610.2 129.0,600.8 130.4,580.8 131.7,558.5 133.0,553.4 134.3,570.8 135.6,593.7 136.9,607.5 138.2,612.2 139.5,613.3 140.9,613.4 142.2,613.4 143.5,613.4 144.8,613.4 146.1,613.4 147.4,613.4 148.7,613.4 150.0,613.4 151.4,613.4 152.7,613.4 154.0,613.4 155.3,613.4 156.6,613.4" fill="none" stroke="#999" stroke-width="0.45" opacity="1" stroke-dasharray="1.5,1"/>
<path d="M158.2,613.4 159.5,613.4 160.8,613.4 162.1,613.4 163.5,613.4 164.8,613.4 166.1,613.4 167.4,613.4 168.7,613.4 170.0,613.4 171.4,613.4 172.7,613.4 174.0,613.4 175.3,613.4 176.6,613.4 177.9,613.4 179.3,613.4 180.6,613.4 181.9,613.4 183.2,613.4 184.5,613.4 185.8,613.4 187.2,613.4 188.5,613.2 189.8,612.0 191.1,607.6 192.4,596.4 193.7,577.3 195.0,558.1 196.4,553.1 197.7,580.9 199.0,606.2 200.3,612.7 201.6,613.4 202.9,613.4 204.3,613.4 205.6,613.4 206.9,613.4 208.2,613.4 209.5,613.4 210.8,613.4 212.2,613.4 213.5,613.4 214.8,613.4 216.1,613.4 217.4,613.4 218.7,613.4 220.1,613.4 221.4,613.4 222.7,613.4 224.0,613.4 L224.0,613.4 L158.2,613.4Z" fill="#d6d6d6" stroke="#777" stroke-width="0.6" opacity="1"/>
<path d="M158.2,613.4 159.5,613.4 160.8,613.4 162.1,613.4 163.5,613.4 164.8,613.4 166.1,613.4 167.4,613.4 168.7,613.4 170.0,613.4 171.4,613.4 172.7,613.4 174.0,613.4 175.3,613.4 176.6,613.4 177.9,613.4 179.3,613.4 180.6,613.4 181.9,613.4 183.2,613.4 184.5,613.4 185.8,613.4 187.2,613.4 188.5,613.4 189.8,613.4 191.1,613.4 192.4,613.4 193.7,613.4 195.0,613.4 196.4,613.3 197.7,612.3 199.0,605.1 200.3,582.8 201.6,555.8 202.9,557.0 204.3,581.5 205.6,602.8 206.9,611.3 208.2,613.2 209.5,613.4 210.8,613.4 212.2,613.4 213.5,613.4 214.8,613.4 216.1,613.4 217.4,613.4 218.7,613.4 220.1,613.4 221.4,613.4 222.7,613.4 224.0,613.4 L224.0,613.4 L158.2,613.4Z" fill="#f6f6ee" stroke="#c8c878" stroke-width="0.55" opacity="1"/>
<path d="M158.2,613.4 159.5,613.4 160.8,613.4 162.1,613.4 163.5,613.4 164.8,613.4 166.1,613.4 167.4,613.4 168.7,613.4 170.0,613.4 171.4,613.4 172.7,613.4 174.0,613.4 175.3,613.4 176.6,613.4 177.9,613.4 179.3,613.4 180.6,613.4 181.9,613.4 183.2,613.4 184.5,613.4 185.8,613.4 187.2,613.4 188.5,613.4 189.8,613.4 191.1,613.4 192.4,613.4 193.7,613.4 195.0,613.4 196.4,612.9 197.7,610.0 199.0,598.2 200.3,574.0 201.6,553.6 202.9,559.4 204.3,583.3 205.6,603.0 206.9,611.2 208.2,613.1 209.5,613.4 210.8,613.4 212.2,613.4 213.5,613.4 214.8,613.4 216.1,613.4 217.4,613.4 218.7,613.4 220.1,613.4 221.4,613.4 222.7,613.4 224.0,613.4" fill="none" stroke="#999" stroke-width="0.45" opacity="1" stroke-dasharray="1.5,1"/>
<line x1="91.00" y1="612.90" x2="156.60" y2="612.90" stroke="#8ab08a" stroke-width="0.8" />
<line x1="158.20" y1="612.90" x2="224.00" y2="612.90" stroke="#8ab08a" stroke-width="0.8" />
<text x="89.00" y="554.70" font-size="6.8" text-anchor="end" font-weight="normal" fill="#333" >100</text>
<text x="89.00" y="566.92" font-size="6.8" text-anchor="end" font-weight="normal" fill="#333" >80</text>
<text x="89.00" y="579.14" font-size="6.8" text-anchor="end" font-weight="normal" fill="#333" >60</text>
<text x="89.00" y="591.36" font-size="6.8" text-anchor="end" font-weight="normal" fill="#333" >40</text>
<text x="89.00" y="603.58" font-size="6.8" text-anchor="end" font-weight="normal" fill="#333" >20</text>
<text x="89.00" y="615.80" font-size="6.8" text-anchor="end" font-weight="normal" fill="#333" >0</text>
<text x="34.00" y="576.50" font-size="9" text-anchor="middle" font-weight="normal" fill="#111" >IL-7 + DMSO</text>
<rect x="91.00" y="344.50" width="65.60" height="65.50" stroke="#b0b0b0" stroke-width="1" fill="none"/>
<rect x="158.20" y="344.50" width="65.80" height="65.50" stroke="#b0b0b0" stroke-width="1" fill="none"/>
<rect x="91.00" y="412.00" width="65.60" height="66.00" stroke="#b0b0b0" stroke-width="1" fill="none"/>
<rect x="158.20" y="412.00" width="65.80" height="66.00" stroke="#b0b0b0" stroke-width="1" fill="none"/>
<rect x="91.00" y="480.20" width="65.60" height="65.80" stroke="#b0b0b0" stroke-width="1" fill="none"/>
<rect x="158.20" y="480.20" width="65.80" height="65.80" stroke="#b0b0b0" stroke-width="1" fill="none"/>
<rect x="91.00" y="548.00" width="65.60" height="65.40" stroke="#b0b0b0" stroke-width="1" fill="none"/>
<rect x="158.20" y="548.00" width="65.80" height="65.40" stroke="#b0b0b0" stroke-width="1" fill="none"/>
<text x="105.60" y="624.50" font-size="6.9" text-anchor="middle" font-weight="normal" fill="#333" >0</text>
<rect x="104.4" y="613.7" width="1.3" height="1.3" fill="#222"/>
<text x="112.40" y="624.50" font-size="6.9" text-anchor="start" fill="#333">10<tspan font-size="4.9" dy="-3.5">3</tspan></text>
<text x="129.90" y="624.50" font-size="6.9" text-anchor="start" fill="#333">10<tspan font-size="4.9" dy="-3.5">4</tspan></text>
<text x="144.90" y="624.50" font-size="6.9" text-anchor="start" fill="#333">10<tspan font-size="4.9" dy="-3.5">5</tspan></text>
<text x="172.80" y="624.50" font-size="6.9" text-anchor="middle" font-weight="normal" fill="#333" >0</text>
<rect x="171.6" y="613.7" width="1.3" height="1.3" fill="#222"/>
<text x="179.60" y="624.50" font-size="6.9" text-anchor="start" fill="#333">10<tspan font-size="4.9" dy="-3.5">3</tspan></text>
<text x="197.10" y="624.50" font-size="6.9" text-anchor="start" fill="#333">10<tspan font-size="4.9" dy="-3.5">4</tspan></text>
<text x="212.10" y="624.50" font-size="6.9" text-anchor="start" fill="#333">10<tspan font-size="4.9" dy="-3.5">5</tspan></text>
<text x="158.60" y="632.20" font-size="9" text-anchor="middle" font-weight="normal" fill="#111" >Bcl-2</text>
<line x1="91.00" y1="629.00" x2="145.35" y2="629.00" stroke="#9c9c9c" stroke-width="1" />
<line x1="171.85" y1="629.00" x2="224.00" y2="629.00" stroke="#9c9c9c" stroke-width="1" />
<line x1="70.60" y1="345.00" x2="70.60" y2="460.50" stroke="#a8a8a8" stroke-width="1" />
<line x1="70.60" y1="496.00" x2="70.60" y2="613.00" stroke="#a8a8a8" stroke-width="1" />
<text x="0" y="0" font-size="7.2" text-anchor="middle" fill="#222" transform="translate(74,477.7) rotate(-90)">% of Max</text>
<text x="233.20" y="326.00" font-size="13" text-anchor="start" font-weight="bold" fill="#000" >D</text>
<text x="318.70" y="332.80" font-size="9" text-anchor="middle" font-weight="normal" fill="#111" >Adult</text>
<text x="454.00" y="332.80" font-size="9" text-anchor="middle" font-weight="normal" fill="#111" >Cord</text>
<line x1="251.70" y1="334.30" x2="382.00" y2="334.30" stroke="#a0a0a0" stroke-width="1" />
<line x1="386.80" y1="334.50" x2="520.00" y2="334.50" stroke="#a0a0a0" stroke-width="1" />
<text x="282.00" y="343.20" font-size="9" text-anchor="middle" font-weight="normal" fill="#111" >CD31+</text>
<text x="347.00" y="343.20" font-size="9" text-anchor="middle" font-weight="normal" fill="#111" >CD31-</text>
<text x="427.10" y="343.20" font-size="9" text-anchor="middle" font-weight="normal" fill="#111" >CD31+</text>
<text x="493.30" y="343.20" font-size="9" text-anchor="middle" font-weight="normal" fill="#111" >CD31-</text>
<line x1="280.50" y1="344.60" x2="280.50" y2="409.40" stroke="#b4b4b4" stroke-width="1" />
<line x1="251.50" y1="388.40" x2="317.20" y2="388.40" stroke="#b4b4b4" stroke-width="1" />
<path d="M295.2 366.8h0.8v0.8h-0.8zM289.0 375.1h0.8v0.8h-0.8zM296.5 369.0h0.8v0.8h-0.8zM288.3 365.8h0.8v0.8h-0.8zM291.0 378.9h0.8v0.8h-0.8zM284.9 373.7h0.8v0.8h-0.8zM294.1 385.7h0.8v0.8h-0.8zM294.8 375.3h0.8v0.8h-0.8zM287.1 371.8h0.8v0.8h-0.8zM289.2 377.8h0.8v0.8h-0.8zM291.8 386.2h0.8v0.8h-0.8zM293.2 371.1h0.8v0.8h-0.8zM298.5 382.2h0.8v0.8h-0.8zM292.4 373.0h0.8v0.8h-0.8zM284.1 371.4h0.8v0.8h-0.8zM295.8 372.6h0.8v0.8h-0.8zM286.5 378.1h0.8v0.8h-0.8zM293.0 380.3h0.8v0.8h-0.8zM294.8 384.7h0.8v0.8h-0.8zM288.5 382.4h0.8v0.8h-0.8zM287.9 380.8h0.8v0.8h-0.8zM292.8 378.3h0.8v0.8h-0.8zM296.1 376.9h0.8v0.8h-0.8zM296.7 381.8h0.8v0.8h-0.8zM292.6 373.9h0.8v0.8h-0.8zM288.8 374.1h0.8v0.8h-0.8zM291.2 376.9h0.8v0.8h-0.8zM304.5 380.5h0.8v0.8h-0.8zM295.2 372.3h0.8v0.8h-0.8zM289.0 375.2h0.8v0.8h-0.8zM292.8 371.3h0.8v0.8h-0.8zM298.8 373.9h0.8v0.8h-0.8zM296.5 364.2h0.8v0.8h-0.8zM292.0 378.5h0.8v0.8h-0.8zM292.8 380.3h0.8v0.8h-0.8zM293.2 377.9h0.8v0.8h-0.8zM284.1 373.1h0.8v0.8h-0.8zM282.2 380.5h0.8v0.8h-0.8zM293.3 375.9h0.8v0.8h-0.8zM288.6 373.8h0.8v0.8h-0.8zM299.8 386.5h0.8v0.8h-0.8zM291.8 384.1h0.8v0.8h-0.8zM285.3 366.4h0.8v0.8h-0.8zM290.0 372.2h0.8v0.8h-0.8zM289.7 378.0h0.8v0.8h-0.8zM304.7 373.4h0.8v0.8h-0.8zM292.2 378.5h0.8v0.8h-0.8zM291.9 382.1h0.8v0.8h-0.8zM299.5 370.2h0.8v0.8h-0.8zM292.7 375.5h0.8v0.8h-0.8zM293.5 368.6h0.8v0.8h-0.8zM284.6 364.3h0.8v0.8h-0.8zM294.2 378.1h0.8v0.8h-0.8zM292.3 364.0h0.8v0.8h-0.8zM290.4 372.8h0.8v0.8h-0.8zM286.1 372.0h0.8v0.8h-0.8zM294.9 380.0h0.8v0.8h-0.8zM291.9 379.8h0.8v0.8h-0.8zM289.5 377.4h0.8v0.8h-0.8zM292.2 380.0h0.8v0.8h-0.8zM291.7 376.2h0.8v0.8h-0.8zM291.4 373.5h0.8v0.8h-0.8zM301.4 379.8h0.8v0.8h-0.8zM293.8 389.6h0.8v0.8h-0.8zM297.9 368.4h0.8v0.8h-0.8zM294.9 381.6h0.8v0.8h-0.8zM299.9 384.2h0.8v0.8h-0.8zM295.2 370.5h0.8v0.8h-0.8zM288.3 378.5h0.8v0.8h-0.8zM294.1 371.4h0.8v0.8h-0.8zM290.4 374.8h0.8v0.8h-0.8zM292.3 378.8h0.8v0.8h-0.8zM290.8 370.2h0.8v0.8h-0.8zM297.2 385.8h0.8v0.8h-0.8zM291.6 382.6h0.8v0.8h-0.8zM293.9 380.6h0.8v0.8h-0.8zM294.0 372.8h0.8v0.8h-0.8zM294.4 382.6h0.8v0.8h-0.8zM288.2 387.8h0.8v0.8h-0.8zM300.8 387.0h0.8v0.8h-0.8zM300.4 381.1h0.8v0.8h-0.8zM290.6 373.7h0.8v0.8h-0.8zM288.6 377.6h0.8v0.8h-0.8zM291.9 380.7h0.8v0.8h-0.8zM283.5 389.7h0.8v0.8h-0.8zM301.6 376.8h0.8v0.8h-0.8zM294.8 379.6h0.8v0.8h-0.8zM293.1 375.9h0.8v0.8h-0.8zM291.5 372.5h0.8v0.8h-0.8zM292.7 376.9h0.8v0.8h-0.8z" fill="#7088d4" opacity="0.38"/>
<path d="M279.2 393.7h0.8v0.8h-0.8zM278.2 394.5h0.8v0.8h-0.8zM280.2 393.5h0.8v0.8h-0.8zM279.6 395.4h0.8v0.8h-0.8zM280.2 394.2h0.8v0.8h-0.8zM276.4 394.3h0.8v0.8h-0.8zM280.7 395.9h0.8v0.8h-0.8zM277.5 393.9h0.8v0.8h-0.8zM279.4 394.7h0.8v0.8h-0.8zM274.9 393.8h0.8v0.8h-0.8zM277.7 395.1h0.8v0.8h-0.8zM273.9 393.6h0.8v0.8h-0.8zM279.8 393.4h0.8v0.8h-0.8zM278.5 394.8h0.8v0.8h-0.8zM277.7 393.6h0.8v0.8h-0.8zM277.9 394.2h0.8v0.8h-0.8zM279.3 393.7h0.8v0.8h-0.8zM281.9 393.0h0.8v0.8h-0.8zM277.5 394.5h0.8v0.8h-0.8zM281.5 394.0h0.8v0.8h-0.8zM280.0 394.0h0.8v0.8h-0.8zM280.7 396.1h0.8v0.8h-0.8zM276.7 394.9h0.8v0.8h-0.8zM274.9 395.4h0.8v0.8h-0.8zM282.3 394.5h0.8v0.8h-0.8zM274.1 394.9h0.8v0.8h-0.8zM282.1 395.5h0.8v0.8h-0.8zM280.9 392.9h0.8v0.8h-0.8zM275.7 395.8h0.8v0.8h-0.8zM273.8 395.5h0.8v0.8h-0.8z" fill="#7090d8" opacity="0.35"/>
<path d="M264.8 367.4h0.8v0.8h-0.8zM283.1 367.0h0.8v0.8h-0.8zM274.0 367.0h0.8v0.8h-0.8zM274.5 366.5h0.8v0.8h-0.8zM283.3 366.7h0.8v0.8h-0.8zM267.2 366.6h0.8v0.8h-0.8zM268.6 367.3h0.8v0.8h-0.8zM264.1 366.6h0.8v0.8h-0.8zM277.8 366.7h0.8v0.8h-0.8zM263.9 367.1h0.8v0.8h-0.8zM275.3 367.0h0.8v0.8h-0.8zM277.9 366.6h0.8v0.8h-0.8zM281.3 367.2h0.8v0.8h-0.8zM264.4 366.6h0.8v0.8h-0.8zM273.6 367.0h0.8v0.8h-0.8z" fill="#90a0d8" opacity="0.35"/>
<g filter="url(#dmap)" fill="#000"><ellipse cx="293.00" cy="367.00" rx="9.00" ry="1.40" fill-opacity="0.2"/><ellipse cx="295.50" cy="366.80" rx="5.50" ry="0.90" fill-opacity="0.28"/><ellipse cx="297.00" cy="366.70" rx="2.80" ry="0.70" fill-opacity="0.3"/><ellipse cx="275.10" cy="395.10" rx="9.00" ry="1.00" fill-opacity="0.28"/><ellipse cx="269.10" cy="394.50" rx="3.90" ry="2.10" fill-opacity="0.5"/><ellipse cx="268.80" cy="394.50" rx="2.60" ry="1.30" fill-opacity="0.55"/><ellipse cx="268.80" cy="394.50" rx="1.80" ry="0.90" fill-opacity="0.6"/><ellipse cx="266.50" cy="390.00" rx="0.70" ry="4.50" fill-opacity="0.3"/></g>
<text x="252.70" y="351.80" font-size="7" text-anchor="start" font-weight="normal" fill="#222" >0.11</text>
<text x="316.20" y="351.80" font-size="7" text-anchor="end" font-weight="normal" fill="#222" >2.27</text>
<text x="252.70" y="407.20" font-size="7" text-anchor="start" font-weight="normal" fill="#222" >97.1</text>
<text x="316.20" y="407.20" font-size="7" text-anchor="end" font-weight="normal" fill="#222" >0.54</text>
<line x1="347.50" y1="344.60" x2="347.50" y2="409.40" stroke="#b4b4b4" stroke-width="1" />
<line x1="318.00" y1="388.40" x2="384.00" y2="388.40" stroke="#b4b4b4" stroke-width="1" />
<path d="M357.7 379.2h0.8v0.8h-0.8zM356.6 378.0h0.8v0.8h-0.8zM353.0 369.7h0.8v0.8h-0.8zM360.4 382.4h0.8v0.8h-0.8zM358.0 372.6h0.8v0.8h-0.8zM361.2 363.6h0.8v0.8h-0.8zM355.6 380.2h0.8v0.8h-0.8zM360.0 370.0h0.8v0.8h-0.8zM352.3 384.9h0.8v0.8h-0.8zM358.5 370.8h0.8v0.8h-0.8zM358.2 381.6h0.8v0.8h-0.8zM350.2 382.9h0.8v0.8h-0.8zM360.2 363.7h0.8v0.8h-0.8zM360.3 365.5h0.8v0.8h-0.8zM361.4 378.6h0.8v0.8h-0.8zM364.8 372.5h0.8v0.8h-0.8zM358.0 382.5h0.8v0.8h-0.8zM356.1 372.0h0.8v0.8h-0.8zM356.9 375.8h0.8v0.8h-0.8zM354.8 379.1h0.8v0.8h-0.8zM359.6 376.6h0.8v0.8h-0.8zM363.1 374.2h0.8v0.8h-0.8zM361.9 372.9h0.8v0.8h-0.8zM360.3 364.6h0.8v0.8h-0.8zM358.6 375.1h0.8v0.8h-0.8zM356.5 372.5h0.8v0.8h-0.8zM357.0 371.9h0.8v0.8h-0.8zM351.4 372.6h0.8v0.8h-0.8zM356.4 373.1h0.8v0.8h-0.8zM354.8 375.4h0.8v0.8h-0.8zM360.4 374.7h0.8v0.8h-0.8zM356.5 384.3h0.8v0.8h-0.8zM360.9 381.7h0.8v0.8h-0.8zM361.5 374.2h0.8v0.8h-0.8zM357.6 382.9h0.8v0.8h-0.8zM356.3 375.5h0.8v0.8h-0.8zM359.1 378.4h0.8v0.8h-0.8zM357.2 382.1h0.8v0.8h-0.8zM357.5 380.6h0.8v0.8h-0.8zM361.2 380.2h0.8v0.8h-0.8zM360.2 369.2h0.8v0.8h-0.8zM354.1 372.5h0.8v0.8h-0.8zM359.4 385.2h0.8v0.8h-0.8zM354.3 378.0h0.8v0.8h-0.8zM355.4 371.8h0.8v0.8h-0.8zM357.2 380.4h0.8v0.8h-0.8zM358.6 383.3h0.8v0.8h-0.8zM355.0 381.5h0.8v0.8h-0.8zM360.8 376.6h0.8v0.8h-0.8zM359.4 372.8h0.8v0.8h-0.8zM354.7 373.8h0.8v0.8h-0.8zM356.1 393.5h0.8v0.8h-0.8zM356.5 386.1h0.8v0.8h-0.8zM358.6 378.1h0.8v0.8h-0.8zM360.2 371.5h0.8v0.8h-0.8zM360.7 378.5h0.8v0.8h-0.8zM353.5 379.8h0.8v0.8h-0.8zM359.7 378.9h0.8v0.8h-0.8zM362.8 373.7h0.8v0.8h-0.8zM359.5 380.7h0.8v0.8h-0.8zM355.3 383.4h0.8v0.8h-0.8zM353.6 368.4h0.8v0.8h-0.8zM359.6 369.7h0.8v0.8h-0.8zM357.7 366.3h0.8v0.8h-0.8zM358.2 369.4h0.8v0.8h-0.8zM359.0 367.0h0.8v0.8h-0.8zM359.3 374.6h0.8v0.8h-0.8zM358.2 375.8h0.8v0.8h-0.8zM358.4 368.3h0.8v0.8h-0.8zM350.3 376.4h0.8v0.8h-0.8z" fill="#7088d4" opacity="0.38"/>
<path d="M341.2 394.0h0.8v0.8h-0.8zM345.3 392.9h0.8v0.8h-0.8zM341.7 393.9h0.8v0.8h-0.8zM340.8 394.5h0.8v0.8h-0.8zM343.6 393.7h0.8v0.8h-0.8zM341.0 394.9h0.8v0.8h-0.8zM342.0 394.7h0.8v0.8h-0.8zM345.3 393.0h0.8v0.8h-0.8zM340.7 394.3h0.8v0.8h-0.8zM345.0 394.8h0.8v0.8h-0.8zM346.4 395.0h0.8v0.8h-0.8zM342.9 394.2h0.8v0.8h-0.8zM346.3 394.0h0.8v0.8h-0.8zM347.2 393.2h0.8v0.8h-0.8zM346.0 394.2h0.8v0.8h-0.8z" fill="#7090d8" opacity="0.35"/>
<g filter="url(#dmap)" fill="#000"><ellipse cx="354.00" cy="366.40" rx="10.00" ry="0.80" fill-opacity="0.2"/><ellipse cx="361.50" cy="366.20" rx="6.00" ry="1.30" fill-opacity="0.25"/><ellipse cx="363.00" cy="366.20" rx="3.50" ry="0.90" fill-opacity="0.3"/><ellipse cx="339.00" cy="394.80" rx="6.00" ry="1.10" fill-opacity="0.3"/><ellipse cx="335.00" cy="394.30" rx="3.70" ry="2.10" fill-opacity="0.5"/><ellipse cx="334.70" cy="394.30" rx="2.50" ry="1.30" fill-opacity="0.55"/><ellipse cx="334.70" cy="394.30" rx="1.70" ry="0.90" fill-opacity="0.6"/></g>
<text x="319.20" y="351.80" font-size="7" text-anchor="start" font-weight="normal" fill="#222" >0.57</text>
<text x="383.00" y="351.80" font-size="7" text-anchor="end" font-weight="normal" fill="#222" >8.62</text>
<text x="319.20" y="407.20" font-size="7" text-anchor="start" font-weight="normal" fill="#222" >90.2</text>
<text x="383.00" y="407.20" font-size="7" text-anchor="end" font-weight="normal" fill="#222" >0.6</text>
<line x1="410.80" y1="344.60" x2="410.80" y2="409.40" stroke="#b4b4b4" stroke-width="1" />
<line x1="387.60" y1="390.60" x2="452.60" y2="390.60" stroke="#b4b4b4" stroke-width="1" />
<path d="M409.2 365.4h0.8v0.8h-0.8zM394.0 363.9h0.8v0.8h-0.8zM414.2 364.7h0.8v0.8h-0.8zM427.2 365.2h0.8v0.8h-0.8zM413.3 365.6h0.8v0.8h-0.8zM412.5 364.7h0.8v0.8h-0.8zM418.6 364.5h0.8v0.8h-0.8zM406.7 364.9h0.8v0.8h-0.8zM406.4 365.5h0.8v0.8h-0.8zM418.3 364.7h0.8v0.8h-0.8zM397.2 364.5h0.8v0.8h-0.8zM408.2 364.8h0.8v0.8h-0.8zM414.6 365.4h0.8v0.8h-0.8zM428.8 364.7h0.8v0.8h-0.8zM409.7 364.9h0.8v0.8h-0.8zM430.0 364.4h0.8v0.8h-0.8zM413.0 365.3h0.8v0.8h-0.8zM399.8 364.4h0.8v0.8h-0.8zM429.3 365.3h0.8v0.8h-0.8zM412.3 364.0h0.8v0.8h-0.8zM426.2 365.0h0.8v0.8h-0.8zM423.6 365.6h0.8v0.8h-0.8zM426.0 364.6h0.8v0.8h-0.8zM399.3 364.3h0.8v0.8h-0.8zM412.3 364.7h0.8v0.8h-0.8zM400.5 364.1h0.8v0.8h-0.8zM416.6 364.9h0.8v0.8h-0.8zM406.5 365.6h0.8v0.8h-0.8zM416.8 363.9h0.8v0.8h-0.8zM408.6 365.2h0.8v0.8h-0.8zM404.8 365.0h0.8v0.8h-0.8zM393.7 364.3h0.8v0.8h-0.8zM424.3 364.9h0.8v0.8h-0.8zM418.0 364.2h0.8v0.8h-0.8zM411.8 364.8h0.8v0.8h-0.8zM403.3 365.0h0.8v0.8h-0.8zM413.0 365.6h0.8v0.8h-0.8zM414.6 364.5h0.8v0.8h-0.8zM398.0 364.1h0.8v0.8h-0.8zM421.3 364.0h0.8v0.8h-0.8zM397.3 364.1h0.8v0.8h-0.8zM412.7 365.3h0.8v0.8h-0.8zM416.0 365.3h0.8v0.8h-0.8zM395.9 363.8h0.8v0.8h-0.8zM421.7 364.4h0.8v0.8h-0.8zM419.7 364.4h0.8v0.8h-0.8zM399.8 364.3h0.8v0.8h-0.8zM397.2 365.4h0.8v0.8h-0.8zM414.9 364.4h0.8v0.8h-0.8zM410.0 364.5h0.8v0.8h-0.8zM395.6 365.4h0.8v0.8h-0.8zM414.9 365.5h0.8v0.8h-0.8zM409.6 364.9h0.8v0.8h-0.8zM402.7 363.9h0.8v0.8h-0.8zM427.6 365.3h0.8v0.8h-0.8zM405.1 365.4h0.8v0.8h-0.8zM423.4 364.3h0.8v0.8h-0.8zM415.6 365.5h0.8v0.8h-0.8zM411.7 365.5h0.8v0.8h-0.8zM402.5 364.5h0.8v0.8h-0.8z" fill="#4a66c4" opacity="0.45"/>
<path d="M430.5 372.5h0.8v0.8h-0.8zM422.3 389.5h0.8v0.8h-0.8zM425.8 387.4h0.8v0.8h-0.8zM421.0 371.2h0.8v0.8h-0.8zM423.3 371.6h0.8v0.8h-0.8zM435.5 374.3h0.8v0.8h-0.8zM427.3 369.7h0.8v0.8h-0.8zM426.8 376.8h0.8v0.8h-0.8zM424.2 368.4h0.8v0.8h-0.8zM418.6 388.3h0.8v0.8h-0.8zM423.1 373.1h0.8v0.8h-0.8zM419.9 374.1h0.8v0.8h-0.8zM420.8 367.6h0.8v0.8h-0.8zM429.4 375.6h0.8v0.8h-0.8zM419.2 385.1h0.8v0.8h-0.8zM418.0 373.7h0.8v0.8h-0.8zM432.8 370.0h0.8v0.8h-0.8zM425.0 388.5h0.8v0.8h-0.8zM432.2 370.9h0.8v0.8h-0.8zM423.2 385.6h0.8v0.8h-0.8zM423.6 391.7h0.8v0.8h-0.8zM420.3 391.5h0.8v0.8h-0.8zM426.2 372.6h0.8v0.8h-0.8zM425.2 370.1h0.8v0.8h-0.8zM430.2 373.5h0.8v0.8h-0.8zM434.1 382.0h0.8v0.8h-0.8zM423.5 373.1h0.8v0.8h-0.8zM428.3 372.2h0.8v0.8h-0.8zM433.5 369.9h0.8v0.8h-0.8zM426.4 380.9h0.8v0.8h-0.8zM421.5 386.8h0.8v0.8h-0.8zM423.8 383.9h0.8v0.8h-0.8zM427.5 374.8h0.8v0.8h-0.8zM423.9 368.9h0.8v0.8h-0.8zM419.6 388.9h0.8v0.8h-0.8zM422.5 384.0h0.8v0.8h-0.8zM418.3 381.4h0.8v0.8h-0.8zM423.3 379.8h0.8v0.8h-0.8zM422.0 368.4h0.8v0.8h-0.8zM422.3 372.6h0.8v0.8h-0.8zM418.6 385.4h0.8v0.8h-0.8zM421.7 377.2h0.8v0.8h-0.8zM434.3 386.9h0.8v0.8h-0.8zM433.8 389.2h0.8v0.8h-0.8zM418.7 373.9h0.8v0.8h-0.8zM416.7 384.4h0.8v0.8h-0.8zM429.4 375.9h0.8v0.8h-0.8zM424.4 383.9h0.8v0.8h-0.8zM430.1 373.2h0.8v0.8h-0.8zM433.0 375.9h0.8v0.8h-0.8zM428.7 371.4h0.8v0.8h-0.8zM418.4 390.5h0.8v0.8h-0.8zM430.8 385.3h0.8v0.8h-0.8zM416.9 367.7h0.8v0.8h-0.8zM419.3 371.9h0.8v0.8h-0.8zM422.2 376.6h0.8v0.8h-0.8zM416.9 374.8h0.8v0.8h-0.8zM428.9 371.4h0.8v0.8h-0.8zM432.9 381.6h0.8v0.8h-0.8zM430.4 373.3h0.8v0.8h-0.8zM424.8 384.6h0.8v0.8h-0.8zM423.1 366.7h0.8v0.8h-0.8zM432.8 387.0h0.8v0.8h-0.8zM421.8 367.8h0.8v0.8h-0.8zM433.2 382.6h0.8v0.8h-0.8zM417.0 373.1h0.8v0.8h-0.8zM418.3 387.4h0.8v0.8h-0.8zM420.3 390.6h0.8v0.8h-0.8zM431.1 368.9h0.8v0.8h-0.8zM430.0 377.0h0.8v0.8h-0.8zM431.1 388.3h0.8v0.8h-0.8zM421.7 369.0h0.8v0.8h-0.8zM435.0 377.8h0.8v0.8h-0.8zM434.7 384.8h0.8v0.8h-0.8zM430.9 388.4h0.8v0.8h-0.8zM428.7 378.5h0.8v0.8h-0.8zM417.2 384.9h0.8v0.8h-0.8zM424.7 380.1h0.8v0.8h-0.8zM434.7 370.0h0.8v0.8h-0.8zM431.3 367.8h0.8v0.8h-0.8zM430.2 387.7h0.8v0.8h-0.8zM421.3 381.0h0.8v0.8h-0.8zM435.5 383.3h0.8v0.8h-0.8zM427.0 373.2h0.8v0.8h-0.8zM417.3 376.0h0.8v0.8h-0.8zM424.3 372.0h0.8v0.8h-0.8zM422.3 370.3h0.8v0.8h-0.8zM430.2 384.2h0.8v0.8h-0.8zM420.9 373.0h0.8v0.8h-0.8zM426.4 378.3h0.8v0.8h-0.8zM434.8 375.9h0.8v0.8h-0.8zM422.1 389.8h0.8v0.8h-0.8zM418.9 381.4h0.8v0.8h-0.8zM422.8 388.0h0.8v0.8h-0.8zM427.1 386.5h0.8v0.8h-0.8zM419.5 384.1h0.8v0.8h-0.8zM428.1 378.7h0.8v0.8h-0.8zM431.4 388.4h0.8v0.8h-0.8zM418.4 374.3h0.8v0.8h-0.8zM423.3 372.1h0.8v0.8h-0.8zM417.3 374.0h0.8v0.8h-0.8zM420.0 385.0h0.8v0.8h-0.8zM425.1 369.6h0.8v0.8h-0.8zM422.6 378.9h0.8v0.8h-0.8zM423.4 371.1h0.8v0.8h-0.8zM417.5 367.0h0.8v0.8h-0.8zM435.9 386.3h0.8v0.8h-0.8zM417.8 385.4h0.8v0.8h-0.8zM435.7 381.4h0.8v0.8h-0.8zM418.3 379.5h0.8v0.8h-0.8z" fill="#8a9ad8" opacity="0.35"/>
<path d="M427.8 380.8h0.8v0.8h-0.8zM428.8 378.4h0.8v0.8h-0.8zM431.9 373.1h0.8v0.8h-0.8zM425.5 365.2h0.8v0.8h-0.8zM428.1 373.7h0.8v0.8h-0.8zM429.1 383.1h0.8v0.8h-0.8zM432.8 381.1h0.8v0.8h-0.8zM430.1 373.0h0.8v0.8h-0.8zM430.3 389.2h0.8v0.8h-0.8zM431.9 363.6h0.8v0.8h-0.8zM431.0 390.9h0.8v0.8h-0.8zM430.9 367.2h0.8v0.8h-0.8zM428.4 383.2h0.8v0.8h-0.8zM430.0 372.4h0.8v0.8h-0.8zM427.2 386.1h0.8v0.8h-0.8zM426.3 389.8h0.8v0.8h-0.8zM429.1 381.0h0.8v0.8h-0.8zM426.3 374.1h0.8v0.8h-0.8zM430.6 367.4h0.8v0.8h-0.8zM433.5 367.9h0.8v0.8h-0.8zM426.5 379.0h0.8v0.8h-0.8zM430.1 384.3h0.8v0.8h-0.8zM428.3 377.1h0.8v0.8h-0.8zM428.6 374.3h0.8v0.8h-0.8zM423.6 386.1h0.8v0.8h-0.8zM429.6 379.9h0.8v0.8h-0.8zM427.8 380.6h0.8v0.8h-0.8zM429.1 378.1h0.8v0.8h-0.8zM431.4 365.5h0.8v0.8h-0.8zM429.6 370.5h0.8v0.8h-0.8zM428.4 390.2h0.8v0.8h-0.8zM426.8 377.9h0.8v0.8h-0.8zM427.8 386.0h0.8v0.8h-0.8zM427.0 365.8h0.8v0.8h-0.8zM430.2 376.0h0.8v0.8h-0.8zM428.4 387.0h0.8v0.8h-0.8zM427.2 375.8h0.8v0.8h-0.8zM429.4 381.9h0.8v0.8h-0.8zM428.0 386.7h0.8v0.8h-0.8zM433.8 375.6h0.8v0.8h-0.8zM433.1 362.5h0.8v0.8h-0.8zM432.1 376.1h0.8v0.8h-0.8zM429.4 376.1h0.8v0.8h-0.8zM427.8 368.9h0.8v0.8h-0.8zM428.3 388.7h0.8v0.8h-0.8zM431.5 376.0h0.8v0.8h-0.8zM428.0 373.3h0.8v0.8h-0.8zM426.6 392.6h0.8v0.8h-0.8zM430.5 379.6h0.8v0.8h-0.8zM428.1 370.8h0.8v0.8h-0.8zM431.9 384.7h0.8v0.8h-0.8zM427.1 386.3h0.8v0.8h-0.8zM426.8 383.6h0.8v0.8h-0.8zM427.1 375.5h0.8v0.8h-0.8zM430.1 382.0h0.8v0.8h-0.8zM431.2 372.3h0.8v0.8h-0.8zM432.4 389.0h0.8v0.8h-0.8zM429.1 382.3h0.8v0.8h-0.8zM427.5 377.5h0.8v0.8h-0.8zM426.3 379.4h0.8v0.8h-0.8zM429.5 389.0h0.8v0.8h-0.8zM431.1 385.0h0.8v0.8h-0.8zM428.3 377.0h0.8v0.8h-0.8zM428.4 380.4h0.8v0.8h-0.8zM425.0 384.6h0.8v0.8h-0.8zM425.8 374.7h0.8v0.8h-0.8zM429.1 374.8h0.8v0.8h-0.8zM432.6 377.9h0.8v0.8h-0.8zM432.4 387.7h0.8v0.8h-0.8zM428.1 381.8h0.8v0.8h-0.8zM431.8 376.1h0.8v0.8h-0.8zM429.3 374.4h0.8v0.8h-0.8zM429.2 376.0h0.8v0.8h-0.8zM429.3 386.4h0.8v0.8h-0.8zM432.0 379.7h0.8v0.8h-0.8zM429.5 385.3h0.8v0.8h-0.8zM428.5 370.6h0.8v0.8h-0.8zM431.4 371.5h0.8v0.8h-0.8zM431.1 371.3h0.8v0.8h-0.8zM433.0 370.7h0.8v0.8h-0.8zM430.9 390.2h0.8v0.8h-0.8zM427.1 390.1h0.8v0.8h-0.8zM427.4 365.2h0.8v0.8h-0.8zM430.6 384.1h0.8v0.8h-0.8zM428.7 359.3h0.8v0.8h-0.8zM429.0 376.4h0.8v0.8h-0.8zM428.3 376.5h0.8v0.8h-0.8zM425.3 374.3h0.8v0.8h-0.8zM432.9 390.6h0.8v0.8h-0.8zM428.3 373.2h0.8v0.8h-0.8zM429.9 386.9h0.8v0.8h-0.8zM430.6 369.7h0.8v0.8h-0.8zM429.4 379.8h0.8v0.8h-0.8zM432.1 387.9h0.8v0.8h-0.8zM430.2 388.0h0.8v0.8h-0.8zM428.3 390.5h0.8v0.8h-0.8zM428.2 381.7h0.8v0.8h-0.8zM431.0 371.7h0.8v0.8h-0.8zM427.6 365.2h0.8v0.8h-0.8zM429.4 378.3h0.8v0.8h-0.8zM428.4 382.5h0.8v0.8h-0.8zM424.6 378.5h0.8v0.8h-0.8zM429.3 376.7h0.8v0.8h-0.8zM430.8 392.2h0.8v0.8h-0.8zM428.2 371.5h0.8v0.8h-0.8zM427.8 379.4h0.8v0.8h-0.8zM430.3 372.1h0.8v0.8h-0.8zM431.2 370.8h0.8v0.8h-0.8zM430.8 382.0h0.8v0.8h-0.8zM430.1 395.3h0.8v0.8h-0.8zM428.5 377.4h0.8v0.8h-0.8zM430.1 385.3h0.8v0.8h-0.8zM426.3 380.8h0.8v0.8h-0.8zM427.5 383.5h0.8v0.8h-0.8zM432.0 379.1h0.8v0.8h-0.8zM428.9 380.1h0.8v0.8h-0.8zM422.9 384.6h0.8v0.8h-0.8zM430.3 380.0h0.8v0.8h-0.8zM428.3 373.1h0.8v0.8h-0.8zM428.7 388.0h0.8v0.8h-0.8zM428.9 389.0h0.8v0.8h-0.8zM423.7 375.2h0.8v0.8h-0.8zM429.7 378.6h0.8v0.8h-0.8zM425.6 373.6h0.8v0.8h-0.8zM431.7 368.8h0.8v0.8h-0.8zM427.0 370.3h0.8v0.8h-0.8zM427.9 383.6h0.8v0.8h-0.8zM430.4 363.1h0.8v0.8h-0.8zM432.2 374.2h0.8v0.8h-0.8zM427.9 391.5h0.8v0.8h-0.8z" fill="#4a68c8" opacity="0.45"/>
<path d="M429.7 361.1h0.8v0.8h-0.8zM427.0 362.6h0.8v0.8h-0.8zM425.3 363.7h0.8v0.8h-0.8zM434.3 365.7h0.8v0.8h-0.8zM423.5 372.7h0.8v0.8h-0.8zM425.3 365.0h0.8v0.8h-0.8zM430.3 366.9h0.8v0.8h-0.8zM428.5 366.0h0.8v0.8h-0.8zM440.2 365.0h0.8v0.8h-0.8zM424.9 365.6h0.8v0.8h-0.8zM426.2 363.6h0.8v0.8h-0.8zM431.0 365.7h0.8v0.8h-0.8zM428.7 367.1h0.8v0.8h-0.8zM429.2 360.9h0.8v0.8h-0.8zM434.3 363.7h0.8v0.8h-0.8zM435.9 362.8h0.8v0.8h-0.8zM432.8 365.6h0.8v0.8h-0.8zM417.2 360.4h0.8v0.8h-0.8zM424.7 368.8h0.8v0.8h-0.8zM421.0 367.3h0.8v0.8h-0.8zM435.3 366.1h0.8v0.8h-0.8zM433.3 363.3h0.8v0.8h-0.8zM430.0 365.3h0.8v0.8h-0.8zM432.1 366.7h0.8v0.8h-0.8zM429.1 362.7h0.8v0.8h-0.8zM427.4 365.9h0.8v0.8h-0.8zM422.1 361.1h0.8v0.8h-0.8zM428.1 363.1h0.8v0.8h-0.8zM428.8 357.0h0.8v0.8h-0.8zM428.5 364.0h0.8v0.8h-0.8zM433.8 359.0h0.8v0.8h-0.8zM428.6 366.1h0.8v0.8h-0.8zM432.4 368.1h0.8v0.8h-0.8zM435.2 361.7h0.8v0.8h-0.8zM433.2 363.7h0.8v0.8h-0.8zM426.2 369.1h0.8v0.8h-0.8zM427.1 362.2h0.8v0.8h-0.8zM428.1 362.2h0.8v0.8h-0.8zM434.9 365.8h0.8v0.8h-0.8zM436.8 365.9h0.8v0.8h-0.8zM427.1 367.7h0.8v0.8h-0.8zM427.0 363.4h0.8v0.8h-0.8zM429.3 364.8h0.8v0.8h-0.8zM435.8 363.0h0.8v0.8h-0.8zM431.8 364.6h0.8v0.8h-0.8zM424.0 361.5h0.8v0.8h-0.8zM429.0 365.9h0.8v0.8h-0.8zM431.6 366.1h0.8v0.8h-0.8zM430.3 363.4h0.8v0.8h-0.8zM432.2 361.8h0.8v0.8h-0.8zM423.6 363.7h0.8v0.8h-0.8zM423.2 363.2h0.8v0.8h-0.8zM426.5 363.1h0.8v0.8h-0.8zM429.9 362.4h0.8v0.8h-0.8zM428.1 359.8h0.8v0.8h-0.8zM430.8 362.2h0.8v0.8h-0.8zM432.0 356.5h0.8v0.8h-0.8zM426.2 365.4h0.8v0.8h-0.8zM418.3 363.7h0.8v0.8h-0.8zM430.6 365.0h0.8v0.8h-0.8z" fill="#4a68c8" opacity="0.4"/>
<path d="M411.3 395.0h0.8v0.8h-0.8zM420.9 393.9h0.8v0.8h-0.8zM424.3 394.8h0.8v0.8h-0.8zM420.1 394.4h0.8v0.8h-0.8zM423.2 394.9h0.8v0.8h-0.8zM426.6 395.2h0.8v0.8h-0.8zM416.4 394.6h0.8v0.8h-0.8zM425.3 394.4h0.8v0.8h-0.8zM422.2 395.3h0.8v0.8h-0.8zM419.0 392.6h0.8v0.8h-0.8zM420.8 395.0h0.8v0.8h-0.8zM420.8 394.1h0.8v0.8h-0.8zM427.0 394.7h0.8v0.8h-0.8zM416.4 394.1h0.8v0.8h-0.8zM422.1 393.7h0.8v0.8h-0.8zM414.2 396.7h0.8v0.8h-0.8zM427.6 395.8h0.8v0.8h-0.8zM427.9 395.4h0.8v0.8h-0.8zM410.2 396.0h0.8v0.8h-0.8zM427.2 395.3h0.8v0.8h-0.8zM408.6 396.0h0.8v0.8h-0.8zM427.9 394.3h0.8v0.8h-0.8zM420.7 395.6h0.8v0.8h-0.8zM419.5 395.9h0.8v0.8h-0.8zM420.5 395.5h0.8v0.8h-0.8zM420.5 393.4h0.8v0.8h-0.8zM414.2 397.9h0.8v0.8h-0.8zM421.6 396.1h0.8v0.8h-0.8zM426.6 396.5h0.8v0.8h-0.8zM423.2 394.2h0.8v0.8h-0.8zM420.1 392.9h0.8v0.8h-0.8zM418.9 395.7h0.8v0.8h-0.8zM407.4 395.0h0.8v0.8h-0.8zM424.8 396.1h0.8v0.8h-0.8zM414.6 394.2h0.8v0.8h-0.8zM409.1 393.8h0.8v0.8h-0.8zM423.1 396.8h0.8v0.8h-0.8zM413.3 396.1h0.8v0.8h-0.8zM422.5 394.3h0.8v0.8h-0.8zM432.8 392.4h0.8v0.8h-0.8zM419.6 395.0h0.8v0.8h-0.8zM432.4 396.5h0.8v0.8h-0.8zM433.2 394.9h0.8v0.8h-0.8zM425.7 396.1h0.8v0.8h-0.8zM423.0 395.1h0.8v0.8h-0.8zM418.9 394.4h0.8v0.8h-0.8zM412.8 396.7h0.8v0.8h-0.8zM417.4 392.8h0.8v0.8h-0.8zM421.5 394.8h0.8v0.8h-0.8zM421.0 396.6h0.8v0.8h-0.8zM419.4 394.5h0.8v0.8h-0.8zM415.6 394.8h0.8v0.8h-0.8zM417.4 395.0h0.8v0.8h-0.8zM438.2 395.2h0.8v0.8h-0.8zM415.0 396.7h0.8v0.8h-0.8zM425.0 395.6h0.8v0.8h-0.8zM424.2 395.6h0.8v0.8h-0.8zM423.9 396.2h0.8v0.8h-0.8zM425.9 396.1h0.8v0.8h-0.8zM417.1 394.8h0.8v0.8h-0.8z" fill="#5a78cc" opacity="0.4"/>
<g filter="url(#dmap)" fill="#000"><ellipse cx="413.10" cy="365.10" rx="17.00" ry="0.70" fill-opacity="0.24"/><ellipse cx="429.10" cy="364.70" rx="7.00" ry="3.00" fill-opacity="0.2"/><ellipse cx="431.10" cy="364.50" rx="4.00" ry="1.60" fill-opacity="0.28"/><ellipse cx="429.10" cy="378.70" rx="1.60" ry="13.00" fill-opacity="0.06"/><ellipse cx="417.00" cy="395.10" rx="13.00" ry="1.00" fill-opacity="0.25"/><ellipse cx="404.00" cy="394.80" rx="4.00" ry="2.20" fill-opacity="0.5"/><ellipse cx="403.70" cy="394.80" rx="2.70" ry="1.30" fill-opacity="0.55"/><ellipse cx="403.70" cy="394.80" rx="1.90" ry="0.90" fill-opacity="0.6"/></g>
<text x="388.80" y="351.80" font-size="7" text-anchor="start" font-weight="normal" fill="#222" >0.16</text>
<text x="451.60" y="351.80" font-size="7" text-anchor="end" font-weight="normal" fill="#222" >3.04</text>
<text x="388.80" y="407.20" font-size="7" text-anchor="start" font-weight="normal" fill="#222" >96</text>
<text x="451.60" y="407.20" font-size="7" text-anchor="end" font-weight="normal" fill="#222" >0.84</text>
<line x1="477.50" y1="344.60" x2="477.50" y2="409.40" stroke="#b4b4b4" stroke-width="1" />
<line x1="453.60" y1="390.60" x2="519.40" y2="390.60" stroke="#b4b4b4" stroke-width="1" />
<path d="M492.5 377.2h0.8v0.8h-0.8zM497.8 370.2h0.8v0.8h-0.8zM497.0 385.3h0.8v0.8h-0.8zM499.2 367.1h0.8v0.8h-0.8zM494.7 375.6h0.8v0.8h-0.8zM494.9 374.4h0.8v0.8h-0.8zM499.0 374.1h0.8v0.8h-0.8zM491.3 376.0h0.8v0.8h-0.8zM494.7 373.1h0.8v0.8h-0.8zM493.1 365.8h0.8v0.8h-0.8zM490.8 370.8h0.8v0.8h-0.8zM491.4 359.3h0.8v0.8h-0.8zM498.9 366.8h0.8v0.8h-0.8zM492.5 375.1h0.8v0.8h-0.8zM486.8 379.0h0.8v0.8h-0.8zM492.4 375.7h0.8v0.8h-0.8zM493.4 374.0h0.8v0.8h-0.8zM495.4 372.5h0.8v0.8h-0.8zM488.8 365.3h0.8v0.8h-0.8zM494.9 379.4h0.8v0.8h-0.8zM493.1 375.1h0.8v0.8h-0.8zM495.6 374.9h0.8v0.8h-0.8zM498.4 365.2h0.8v0.8h-0.8zM495.9 371.6h0.8v0.8h-0.8zM493.9 368.3h0.8v0.8h-0.8zM492.3 367.5h0.8v0.8h-0.8zM491.3 384.7h0.8v0.8h-0.8zM500.8 372.5h0.8v0.8h-0.8zM497.5 367.7h0.8v0.8h-0.8zM485.5 363.6h0.8v0.8h-0.8z" fill="#7090d8" opacity="0.3"/>
<path d="M498.6 370.0h0.8v0.8h-0.8zM497.8 364.1h0.8v0.8h-0.8zM497.1 364.1h0.8v0.8h-0.8zM492.6 365.9h0.8v0.8h-0.8zM496.4 364.5h0.8v0.8h-0.8zM494.5 364.2h0.8v0.8h-0.8zM498.9 369.9h0.8v0.8h-0.8zM497.2 371.9h0.8v0.8h-0.8zM491.7 367.2h0.8v0.8h-0.8zM493.5 366.1h0.8v0.8h-0.8zM498.4 367.9h0.8v0.8h-0.8zM502.4 365.1h0.8v0.8h-0.8zM493.2 366.0h0.8v0.8h-0.8zM499.1 364.8h0.8v0.8h-0.8zM501.5 370.6h0.8v0.8h-0.8zM492.5 367.4h0.8v0.8h-0.8zM502.0 361.8h0.8v0.8h-0.8zM498.8 366.0h0.8v0.8h-0.8zM492.5 369.7h0.8v0.8h-0.8zM498.8 365.3h0.8v0.8h-0.8zM499.7 368.1h0.8v0.8h-0.8zM501.0 367.9h0.8v0.8h-0.8zM499.6 363.6h0.8v0.8h-0.8zM496.4 366.8h0.8v0.8h-0.8zM487.2 371.7h0.8v0.8h-0.8zM496.5 363.9h0.8v0.8h-0.8zM490.9 367.1h0.8v0.8h-0.8zM498.1 365.1h0.8v0.8h-0.8zM496.4 364.3h0.8v0.8h-0.8zM495.1 366.3h0.8v0.8h-0.8zM495.5 368.2h0.8v0.8h-0.8zM497.4 366.8h0.8v0.8h-0.8zM499.6 369.6h0.8v0.8h-0.8zM500.3 367.1h0.8v0.8h-0.8zM497.4 364.5h0.8v0.8h-0.8zM496.7 368.2h0.8v0.8h-0.8zM498.9 365.6h0.8v0.8h-0.8zM492.8 362.8h0.8v0.8h-0.8zM499.3 369.0h0.8v0.8h-0.8zM499.5 363.2h0.8v0.8h-0.8z" fill="#4a68c8" opacity="0.35"/>
<path d="M484.6 394.9h0.8v0.8h-0.8zM480.4 395.0h0.8v0.8h-0.8zM484.6 394.3h0.8v0.8h-0.8zM478.5 395.3h0.8v0.8h-0.8zM487.9 394.3h0.8v0.8h-0.8zM479.9 395.3h0.8v0.8h-0.8zM489.3 394.6h0.8v0.8h-0.8zM495.1 394.6h0.8v0.8h-0.8zM479.6 395.4h0.8v0.8h-0.8zM484.7 395.0h0.8v0.8h-0.8zM486.0 394.2h0.8v0.8h-0.8zM478.9 394.7h0.8v0.8h-0.8zM494.0 394.2h0.8v0.8h-0.8zM493.7 394.9h0.8v0.8h-0.8zM479.3 395.0h0.8v0.8h-0.8zM489.1 394.3h0.8v0.8h-0.8zM473.4 395.0h0.8v0.8h-0.8zM479.3 395.1h0.8v0.8h-0.8zM474.6 394.7h0.8v0.8h-0.8zM481.1 393.9h0.8v0.8h-0.8zM484.4 394.9h0.8v0.8h-0.8zM482.5 394.1h0.8v0.8h-0.8zM487.0 393.8h0.8v0.8h-0.8zM488.9 395.1h0.8v0.8h-0.8zM495.6 395.3h0.8v0.8h-0.8z" fill="#8098d8" opacity="0.3"/>
<g filter="url(#dmap)" fill="#000"><ellipse cx="498.00" cy="366.50" rx="6.00" ry="2.40" fill-opacity="0.18"/><ellipse cx="498.50" cy="366.50" rx="3.50" ry="1.30" fill-opacity="0.28"/><ellipse cx="472.80" cy="395.20" rx="5.00" ry="0.80" fill-opacity="0.3"/><ellipse cx="469.80" cy="394.80" rx="3.00" ry="1.70" fill-opacity="0.5"/><ellipse cx="469.60" cy="394.80" rx="1.90" ry="1.00" fill-opacity="0.55"/><ellipse cx="469.60" cy="394.80" rx="1.20" ry="0.70" fill-opacity="0.5"/></g>
<text x="454.80" y="351.80" font-size="7" text-anchor="start" font-weight="normal" fill="#222" >0.012</text>
<text x="518.40" y="351.80" font-size="7" text-anchor="end" font-weight="normal" fill="#222" >5.74</text>
<text x="454.80" y="407.20" font-size="7" text-anchor="start" font-weight="normal" fill="#222" >93.8</text>
<text x="518.40" y="407.20" font-size="7" text-anchor="end" font-weight="normal" fill="#222" >0.45</text>
<text x="248.90" y="353.30" font-size="6.9" text-anchor="end" fill="#333">10<tspan font-size="4.9" dy="-3.5">5</tspan></text>
<text x="248.90" y="367.90" font-size="6.9" text-anchor="end" fill="#333">10<tspan font-size="4.9" dy="-3.5">4</tspan></text>
<text x="248.90" y="385.80" font-size="6.9" text-anchor="end" fill="#333">10<tspan font-size="4.9" dy="-3.5">3</tspan></text>
<text x="248.50" y="398.60" font-size="6.9" text-anchor="end" font-weight="normal" fill="#333" >0</text>
<rect x="250.1" y="395.7" width="1.4" height="1.3" fill="#222"/>
<line x1="280.50" y1="411.00" x2="280.50" y2="477.80" stroke="#b4b4b4" stroke-width="1" />
<line x1="251.50" y1="454.80" x2="317.20" y2="454.80" stroke="#b4b4b4" stroke-width="1" />
<path d="M293.4 445.8h0.8v0.8h-0.8zM292.1 437.3h0.8v0.8h-0.8zM298.0 447.2h0.8v0.8h-0.8zM290.8 438.3h0.8v0.8h-0.8zM298.1 447.2h0.8v0.8h-0.8zM287.2 448.0h0.8v0.8h-0.8zM299.7 444.3h0.8v0.8h-0.8zM293.6 442.2h0.8v0.8h-0.8zM289.4 450.1h0.8v0.8h-0.8zM304.6 445.0h0.8v0.8h-0.8zM291.5 448.6h0.8v0.8h-0.8zM290.8 448.3h0.8v0.8h-0.8zM295.4 439.0h0.8v0.8h-0.8zM287.6 444.0h0.8v0.8h-0.8zM295.4 445.9h0.8v0.8h-0.8zM297.1 437.0h0.8v0.8h-0.8zM294.0 441.1h0.8v0.8h-0.8zM292.4 446.1h0.8v0.8h-0.8zM288.0 443.2h0.8v0.8h-0.8zM287.3 445.8h0.8v0.8h-0.8zM288.5 441.8h0.8v0.8h-0.8zM292.9 440.9h0.8v0.8h-0.8zM296.7 441.0h0.8v0.8h-0.8zM295.5 445.9h0.8v0.8h-0.8zM287.8 443.2h0.8v0.8h-0.8zM288.6 442.5h0.8v0.8h-0.8zM290.9 454.1h0.8v0.8h-0.8zM290.3 452.8h0.8v0.8h-0.8zM293.8 437.4h0.8v0.8h-0.8zM282.6 448.0h0.8v0.8h-0.8zM283.9 448.2h0.8v0.8h-0.8zM296.2 446.5h0.8v0.8h-0.8zM291.1 443.1h0.8v0.8h-0.8zM293.1 442.8h0.8v0.8h-0.8zM289.8 442.4h0.8v0.8h-0.8zM296.8 441.1h0.8v0.8h-0.8zM293.5 438.3h0.8v0.8h-0.8zM289.1 437.1h0.8v0.8h-0.8zM291.2 448.0h0.8v0.8h-0.8zM293.2 441.8h0.8v0.8h-0.8zM294.5 442.6h0.8v0.8h-0.8zM293.5 445.9h0.8v0.8h-0.8zM294.2 431.2h0.8v0.8h-0.8zM286.7 448.5h0.8v0.8h-0.8zM291.6 456.3h0.8v0.8h-0.8zM291.0 441.5h0.8v0.8h-0.8zM298.1 447.4h0.8v0.8h-0.8zM299.7 447.1h0.8v0.8h-0.8zM291.2 448.3h0.8v0.8h-0.8zM288.8 442.0h0.8v0.8h-0.8zM289.7 443.2h0.8v0.8h-0.8zM295.2 441.8h0.8v0.8h-0.8zM293.3 441.7h0.8v0.8h-0.8zM295.6 429.7h0.8v0.8h-0.8zM291.2 445.3h0.8v0.8h-0.8zM287.6 449.8h0.8v0.8h-0.8zM292.9 451.2h0.8v0.8h-0.8zM295.9 447.8h0.8v0.8h-0.8zM291.4 438.6h0.8v0.8h-0.8zM291.1 442.0h0.8v0.8h-0.8zM293.0 441.9h0.8v0.8h-0.8zM304.4 435.9h0.8v0.8h-0.8zM296.8 441.9h0.8v0.8h-0.8zM291.0 449.3h0.8v0.8h-0.8zM292.0 438.0h0.8v0.8h-0.8zM293.7 443.4h0.8v0.8h-0.8zM283.6 445.5h0.8v0.8h-0.8zM287.7 440.4h0.8v0.8h-0.8zM294.0 446.0h0.8v0.8h-0.8zM290.8 455.9h0.8v0.8h-0.8zM293.7 441.1h0.8v0.8h-0.8zM293.0 443.8h0.8v0.8h-0.8zM283.1 436.0h0.8v0.8h-0.8zM286.4 455.4h0.8v0.8h-0.8zM291.3 442.9h0.8v0.8h-0.8zM289.7 449.6h0.8v0.8h-0.8zM292.1 453.5h0.8v0.8h-0.8zM295.2 453.1h0.8v0.8h-0.8zM291.5 446.4h0.8v0.8h-0.8zM290.2 443.5h0.8v0.8h-0.8zM285.0 441.3h0.8v0.8h-0.8zM288.1 440.9h0.8v0.8h-0.8zM296.9 445.8h0.8v0.8h-0.8zM297.0 449.0h0.8v0.8h-0.8zM295.7 449.7h0.8v0.8h-0.8zM289.5 448.7h0.8v0.8h-0.8zM290.7 441.6h0.8v0.8h-0.8zM296.8 455.9h0.8v0.8h-0.8zM288.0 453.6h0.8v0.8h-0.8zM295.4 439.9h0.8v0.8h-0.8z" fill="#7088d4" opacity="0.38"/>
<path d="M278.2 462.1h0.8v0.8h-0.8zM278.6 461.5h0.8v0.8h-0.8zM273.0 461.8h0.8v0.8h-0.8zM280.2 462.5h0.8v0.8h-0.8zM279.5 462.8h0.8v0.8h-0.8zM274.0 461.8h0.8v0.8h-0.8zM278.4 462.7h0.8v0.8h-0.8zM277.8 462.2h0.8v0.8h-0.8zM277.8 463.6h0.8v0.8h-0.8zM269.9 461.8h0.8v0.8h-0.8zM285.6 462.0h0.8v0.8h-0.8zM271.1 461.9h0.8v0.8h-0.8zM272.5 461.2h0.8v0.8h-0.8zM278.1 463.3h0.8v0.8h-0.8zM278.9 462.4h0.8v0.8h-0.8zM280.7 462.0h0.8v0.8h-0.8zM274.4 461.7h0.8v0.8h-0.8zM278.4 461.6h0.8v0.8h-0.8zM275.0 461.5h0.8v0.8h-0.8zM272.2 460.9h0.8v0.8h-0.8zM277.0 461.5h0.8v0.8h-0.8zM277.4 463.0h0.8v0.8h-0.8zM278.3 461.8h0.8v0.8h-0.8zM273.3 460.9h0.8v0.8h-0.8zM278.6 461.0h0.8v0.8h-0.8zM278.7 460.9h0.8v0.8h-0.8zM277.8 461.7h0.8v0.8h-0.8zM280.7 461.5h0.8v0.8h-0.8zM276.0 462.0h0.8v0.8h-0.8zM277.5 463.3h0.8v0.8h-0.8z" fill="#7090d8" opacity="0.35"/>
<path d="M277.4 434.1h0.8v0.8h-0.8zM270.6 434.0h0.8v0.8h-0.8zM267.6 434.1h0.8v0.8h-0.8zM270.3 434.9h0.8v0.8h-0.8zM283.9 434.7h0.8v0.8h-0.8zM273.3 434.4h0.8v0.8h-0.8zM279.5 434.8h0.8v0.8h-0.8zM278.9 434.5h0.8v0.8h-0.8zM267.6 434.5h0.8v0.8h-0.8zM280.8 434.7h0.8v0.8h-0.8zM265.4 434.6h0.8v0.8h-0.8zM270.7 434.1h0.8v0.8h-0.8zM283.3 434.6h0.8v0.8h-0.8zM278.8 434.0h0.8v0.8h-0.8zM280.5 434.8h0.8v0.8h-0.8z" fill="#90a0d8" opacity="0.35"/>
<g filter="url(#dmap)" fill="#000"><ellipse cx="293.00" cy="434.40" rx="9.00" ry="1.40" fill-opacity="0.2"/><ellipse cx="295.50" cy="434.20" rx="5.50" ry="0.90" fill-opacity="0.28"/><ellipse cx="297.00" cy="434.10" rx="2.80" ry="0.70" fill-opacity="0.3"/><ellipse cx="274.30" cy="462.40" rx="9.00" ry="1.00" fill-opacity="0.28"/><ellipse cx="268.30" cy="461.80" rx="3.90" ry="2.10" fill-opacity="0.5"/><ellipse cx="268.00" cy="461.80" rx="2.60" ry="1.30" fill-opacity="0.55"/><ellipse cx="268.00" cy="461.80" rx="1.80" ry="0.90" fill-opacity="0.6"/><ellipse cx="265.70" cy="457.30" rx="0.70" ry="4.50" fill-opacity="0.3"/></g>
<text x="252.70" y="418.20" font-size="7" text-anchor="start" font-weight="normal" fill="#222" >0.14</text>
<text x="316.20" y="418.20" font-size="7" text-anchor="end" font-weight="normal" fill="#222" >3.39</text>
<text x="252.70" y="475.60" font-size="7" text-anchor="start" font-weight="normal" fill="#222" >95.8</text>
<text x="316.20" y="475.60" font-size="7" text-anchor="end" font-weight="normal" fill="#222" >0.62</text>
<line x1="347.50" y1="411.00" x2="347.50" y2="477.80" stroke="#b4b4b4" stroke-width="1" />
<line x1="318.00" y1="454.80" x2="384.00" y2="454.80" stroke="#b4b4b4" stroke-width="1" />
<path d="M362.1 439.0h0.8v0.8h-0.8zM360.7 435.2h0.8v0.8h-0.8zM355.3 441.1h0.8v0.8h-0.8zM360.4 435.2h0.8v0.8h-0.8zM359.7 440.9h0.8v0.8h-0.8zM361.6 442.8h0.8v0.8h-0.8zM359.4 443.6h0.8v0.8h-0.8zM363.2 442.5h0.8v0.8h-0.8zM357.9 456.1h0.8v0.8h-0.8zM358.2 448.6h0.8v0.8h-0.8zM355.9 445.8h0.8v0.8h-0.8zM351.5 445.2h0.8v0.8h-0.8zM356.1 435.9h0.8v0.8h-0.8zM353.9 451.2h0.8v0.8h-0.8zM359.2 435.8h0.8v0.8h-0.8zM363.2 440.6h0.8v0.8h-0.8zM356.9 446.0h0.8v0.8h-0.8zM354.7 435.3h0.8v0.8h-0.8zM355.8 451.4h0.8v0.8h-0.8zM360.7 435.5h0.8v0.8h-0.8zM361.5 444.8h0.8v0.8h-0.8zM359.4 444.9h0.8v0.8h-0.8zM359.2 438.8h0.8v0.8h-0.8zM355.4 440.5h0.8v0.8h-0.8zM356.9 448.2h0.8v0.8h-0.8zM354.5 453.8h0.8v0.8h-0.8zM356.2 441.2h0.8v0.8h-0.8zM360.0 447.1h0.8v0.8h-0.8zM357.0 438.4h0.8v0.8h-0.8zM355.1 435.4h0.8v0.8h-0.8zM361.3 450.9h0.8v0.8h-0.8zM363.4 447.5h0.8v0.8h-0.8zM359.0 449.0h0.8v0.8h-0.8zM360.7 443.1h0.8v0.8h-0.8zM359.0 457.0h0.8v0.8h-0.8zM353.1 436.5h0.8v0.8h-0.8zM355.2 449.0h0.8v0.8h-0.8zM361.4 442.6h0.8v0.8h-0.8zM359.9 444.3h0.8v0.8h-0.8zM358.9 441.5h0.8v0.8h-0.8zM357.9 444.6h0.8v0.8h-0.8zM361.3 457.5h0.8v0.8h-0.8zM352.8 447.7h0.8v0.8h-0.8zM358.0 450.2h0.8v0.8h-0.8zM361.1 449.1h0.8v0.8h-0.8zM360.3 439.1h0.8v0.8h-0.8zM353.1 454.2h0.8v0.8h-0.8zM361.5 439.1h0.8v0.8h-0.8zM361.7 448.5h0.8v0.8h-0.8zM350.9 449.8h0.8v0.8h-0.8zM355.1 451.3h0.8v0.8h-0.8zM356.0 440.3h0.8v0.8h-0.8zM353.5 443.3h0.8v0.8h-0.8zM360.9 440.7h0.8v0.8h-0.8zM352.6 457.0h0.8v0.8h-0.8zM363.3 448.6h0.8v0.8h-0.8zM356.4 437.6h0.8v0.8h-0.8zM353.3 447.8h0.8v0.8h-0.8zM361.8 438.5h0.8v0.8h-0.8zM358.0 443.0h0.8v0.8h-0.8zM357.3 447.5h0.8v0.8h-0.8zM364.0 440.9h0.8v0.8h-0.8zM360.5 450.9h0.8v0.8h-0.8zM357.2 443.7h0.8v0.8h-0.8zM354.1 450.8h0.8v0.8h-0.8zM356.5 440.8h0.8v0.8h-0.8zM358.2 439.6h0.8v0.8h-0.8zM355.0 442.9h0.8v0.8h-0.8zM362.3 443.4h0.8v0.8h-0.8zM359.5 436.1h0.8v0.8h-0.8z" fill="#7088d4" opacity="0.38"/>
<path d="M337.6 463.2h0.8v0.8h-0.8zM342.0 461.0h0.8v0.8h-0.8zM342.9 462.4h0.8v0.8h-0.8zM338.2 461.4h0.8v0.8h-0.8zM344.0 461.4h0.8v0.8h-0.8zM345.5 462.6h0.8v0.8h-0.8zM344.5 461.7h0.8v0.8h-0.8zM343.1 461.6h0.8v0.8h-0.8zM342.8 462.2h0.8v0.8h-0.8zM342.3 462.7h0.8v0.8h-0.8zM350.7 461.6h0.8v0.8h-0.8zM344.2 462.6h0.8v0.8h-0.8zM345.1 461.8h0.8v0.8h-0.8zM341.8 462.7h0.8v0.8h-0.8zM345.0 462.3h0.8v0.8h-0.8z" fill="#7090d8" opacity="0.35"/>
<g filter="url(#dmap)" fill="#000"><ellipse cx="354.00" cy="434.80" rx="10.00" ry="0.80" fill-opacity="0.2"/><ellipse cx="361.50" cy="434.60" rx="6.00" ry="1.30" fill-opacity="0.25"/><ellipse cx="363.00" cy="434.60" rx="3.50" ry="0.90" fill-opacity="0.3"/><ellipse cx="338.20" cy="462.50" rx="6.00" ry="1.10" fill-opacity="0.3"/><ellipse cx="334.20" cy="462.00" rx="3.70" ry="2.10" fill-opacity="0.5"/><ellipse cx="333.90" cy="462.00" rx="2.50" ry="1.30" fill-opacity="0.55"/><ellipse cx="333.90" cy="462.00" rx="1.70" ry="0.90" fill-opacity="0.6"/><ellipse cx="357.00" cy="462.00" rx="2.00" ry="1.50" fill-opacity="0.3"/></g>
<text x="319.20" y="418.20" font-size="7" text-anchor="start" font-weight="normal" fill="#222" >0.11</text>
<text x="383.00" y="418.20" font-size="7" text-anchor="end" font-weight="normal" fill="#222" >13.8</text>
<text x="319.20" y="475.60" font-size="7" text-anchor="start" font-weight="normal" fill="#222" >83.9</text>
<text x="383.00" y="475.60" font-size="7" text-anchor="end" font-weight="normal" fill="#222" >2.19</text>
<line x1="410.80" y1="411.00" x2="410.80" y2="477.80" stroke="#b4b4b4" stroke-width="1" />
<line x1="387.60" y1="457.00" x2="452.60" y2="457.00" stroke="#b4b4b4" stroke-width="1" />
<path d="M408.0 433.8h0.8v0.8h-0.8zM428.8 433.6h0.8v0.8h-0.8zM401.0 434.7h0.8v0.8h-0.8zM410.0 434.6h0.8v0.8h-0.8zM416.9 434.5h0.8v0.8h-0.8zM405.1 433.4h0.8v0.8h-0.8zM421.2 433.9h0.8v0.8h-0.8zM414.0 434.3h0.8v0.8h-0.8zM421.1 433.6h0.8v0.8h-0.8zM406.8 434.8h0.8v0.8h-0.8zM412.9 433.6h0.8v0.8h-0.8zM416.6 433.6h0.8v0.8h-0.8zM421.8 433.2h0.8v0.8h-0.8zM423.8 434.1h0.8v0.8h-0.8zM406.5 434.8h0.8v0.8h-0.8zM403.3 433.5h0.8v0.8h-0.8zM396.2 434.1h0.8v0.8h-0.8zM421.1 434.3h0.8v0.8h-0.8zM408.7 434.6h0.8v0.8h-0.8zM397.7 433.7h0.8v0.8h-0.8zM417.1 434.8h0.8v0.8h-0.8zM416.7 434.3h0.8v0.8h-0.8zM421.9 433.8h0.8v0.8h-0.8zM427.9 434.4h0.8v0.8h-0.8zM406.1 433.8h0.8v0.8h-0.8zM423.0 433.7h0.8v0.8h-0.8zM400.4 434.7h0.8v0.8h-0.8zM413.0 434.0h0.8v0.8h-0.8zM418.0 434.7h0.8v0.8h-0.8zM398.5 433.7h0.8v0.8h-0.8zM396.0 433.8h0.8v0.8h-0.8zM411.9 434.6h0.8v0.8h-0.8zM418.0 434.1h0.8v0.8h-0.8zM408.3 434.1h0.8v0.8h-0.8zM403.6 434.6h0.8v0.8h-0.8zM422.4 434.6h0.8v0.8h-0.8zM399.1 434.3h0.8v0.8h-0.8zM421.1 434.0h0.8v0.8h-0.8zM426.4 434.7h0.8v0.8h-0.8zM420.7 434.6h0.8v0.8h-0.8zM417.3 434.7h0.8v0.8h-0.8zM398.4 434.4h0.8v0.8h-0.8zM419.3 434.2h0.8v0.8h-0.8zM403.6 433.2h0.8v0.8h-0.8zM415.6 434.6h0.8v0.8h-0.8zM403.6 433.5h0.8v0.8h-0.8zM401.8 433.3h0.8v0.8h-0.8zM418.3 434.9h0.8v0.8h-0.8zM422.9 433.7h0.8v0.8h-0.8zM419.1 433.2h0.8v0.8h-0.8zM424.2 433.7h0.8v0.8h-0.8zM393.7 434.2h0.8v0.8h-0.8zM398.7 433.6h0.8v0.8h-0.8zM395.8 433.9h0.8v0.8h-0.8zM413.9 434.6h0.8v0.8h-0.8zM395.0 434.6h0.8v0.8h-0.8zM397.6 433.5h0.8v0.8h-0.8zM416.6 433.7h0.8v0.8h-0.8zM405.7 434.1h0.8v0.8h-0.8zM401.6 434.5h0.8v0.8h-0.8z" fill="#4a66c4" opacity="0.45"/>
<path d="M420.3 456.6h0.8v0.8h-0.8zM432.3 449.2h0.8v0.8h-0.8zM416.7 455.1h0.8v0.8h-0.8zM416.7 448.4h0.8v0.8h-0.8zM424.6 437.6h0.8v0.8h-0.8zM428.7 453.8h0.8v0.8h-0.8zM427.8 445.8h0.8v0.8h-0.8zM426.3 450.5h0.8v0.8h-0.8zM420.6 457.3h0.8v0.8h-0.8zM436.0 455.8h0.8v0.8h-0.8zM435.3 444.1h0.8v0.8h-0.8zM435.8 437.8h0.8v0.8h-0.8zM425.7 439.3h0.8v0.8h-0.8zM425.2 452.8h0.8v0.8h-0.8zM430.3 447.2h0.8v0.8h-0.8zM422.9 440.7h0.8v0.8h-0.8zM424.2 443.0h0.8v0.8h-0.8zM420.0 454.1h0.8v0.8h-0.8zM426.4 446.8h0.8v0.8h-0.8zM420.1 453.3h0.8v0.8h-0.8zM420.0 442.5h0.8v0.8h-0.8zM427.3 453.3h0.8v0.8h-0.8zM435.6 454.4h0.8v0.8h-0.8zM435.1 458.6h0.8v0.8h-0.8zM430.6 453.7h0.8v0.8h-0.8zM417.4 441.1h0.8v0.8h-0.8zM416.4 457.2h0.8v0.8h-0.8zM430.5 451.5h0.8v0.8h-0.8zM421.4 444.7h0.8v0.8h-0.8zM419.4 451.6h0.8v0.8h-0.8zM435.9 443.5h0.8v0.8h-0.8zM417.0 440.3h0.8v0.8h-0.8zM423.2 458.1h0.8v0.8h-0.8zM432.2 447.2h0.8v0.8h-0.8zM418.1 438.6h0.8v0.8h-0.8zM419.2 455.1h0.8v0.8h-0.8zM425.5 460.4h0.8v0.8h-0.8zM434.3 455.6h0.8v0.8h-0.8zM425.6 456.2h0.8v0.8h-0.8zM418.7 438.7h0.8v0.8h-0.8zM427.4 448.5h0.8v0.8h-0.8zM420.3 442.2h0.8v0.8h-0.8zM416.5 458.4h0.8v0.8h-0.8zM430.3 459.3h0.8v0.8h-0.8zM435.7 446.7h0.8v0.8h-0.8zM430.7 445.5h0.8v0.8h-0.8zM432.3 456.7h0.8v0.8h-0.8zM418.8 436.3h0.8v0.8h-0.8zM420.4 450.4h0.8v0.8h-0.8zM423.7 436.2h0.8v0.8h-0.8zM432.7 455.3h0.8v0.8h-0.8zM425.4 437.1h0.8v0.8h-0.8zM433.9 449.1h0.8v0.8h-0.8zM417.5 444.0h0.8v0.8h-0.8zM428.6 457.8h0.8v0.8h-0.8zM425.8 451.7h0.8v0.8h-0.8zM420.2 442.0h0.8v0.8h-0.8zM434.2 445.4h0.8v0.8h-0.8zM418.2 450.5h0.8v0.8h-0.8zM418.6 440.9h0.8v0.8h-0.8zM425.2 450.4h0.8v0.8h-0.8zM428.8 453.4h0.8v0.8h-0.8zM424.9 437.7h0.8v0.8h-0.8zM430.6 437.3h0.8v0.8h-0.8zM425.5 445.8h0.8v0.8h-0.8zM429.6 453.6h0.8v0.8h-0.8zM420.9 452.0h0.8v0.8h-0.8zM429.9 447.6h0.8v0.8h-0.8zM418.9 458.4h0.8v0.8h-0.8zM428.1 437.5h0.8v0.8h-0.8zM420.9 460.3h0.8v0.8h-0.8zM420.7 445.7h0.8v0.8h-0.8zM431.9 456.3h0.8v0.8h-0.8zM428.8 454.2h0.8v0.8h-0.8zM416.9 438.3h0.8v0.8h-0.8zM435.6 455.7h0.8v0.8h-0.8zM416.9 437.2h0.8v0.8h-0.8zM420.9 458.9h0.8v0.8h-0.8zM420.5 452.5h0.8v0.8h-0.8zM434.7 451.7h0.8v0.8h-0.8zM434.5 442.5h0.8v0.8h-0.8zM419.2 436.4h0.8v0.8h-0.8zM431.2 438.6h0.8v0.8h-0.8zM435.6 453.5h0.8v0.8h-0.8zM419.8 455.9h0.8v0.8h-0.8zM419.4 448.6h0.8v0.8h-0.8zM418.2 455.4h0.8v0.8h-0.8zM433.9 458.5h0.8v0.8h-0.8zM416.1 456.9h0.8v0.8h-0.8zM427.2 456.2h0.8v0.8h-0.8zM426.1 451.2h0.8v0.8h-0.8zM428.0 455.7h0.8v0.8h-0.8zM417.7 437.3h0.8v0.8h-0.8zM427.0 443.2h0.8v0.8h-0.8zM424.0 436.2h0.8v0.8h-0.8zM431.0 436.6h0.8v0.8h-0.8zM432.7 456.0h0.8v0.8h-0.8zM425.3 439.0h0.8v0.8h-0.8zM429.1 441.1h0.8v0.8h-0.8zM424.7 438.7h0.8v0.8h-0.8zM435.6 449.4h0.8v0.8h-0.8zM423.2 438.3h0.8v0.8h-0.8zM430.7 456.9h0.8v0.8h-0.8zM433.1 438.5h0.8v0.8h-0.8zM423.5 443.4h0.8v0.8h-0.8zM431.3 439.6h0.8v0.8h-0.8zM428.2 460.1h0.8v0.8h-0.8zM431.5 436.2h0.8v0.8h-0.8zM417.6 438.8h0.8v0.8h-0.8zM429.9 450.7h0.8v0.8h-0.8z" fill="#8a9ad8" opacity="0.35"/>
<path d="M426.7 446.9h0.8v0.8h-0.8zM426.6 454.0h0.8v0.8h-0.8zM426.2 433.7h0.8v0.8h-0.8zM428.7 433.8h0.8v0.8h-0.8zM432.7 440.1h0.8v0.8h-0.8zM429.0 446.0h0.8v0.8h-0.8zM427.3 433.9h0.8v0.8h-0.8zM425.0 454.9h0.8v0.8h-0.8zM431.3 465.3h0.8v0.8h-0.8zM425.9 452.5h0.8v0.8h-0.8zM429.1 454.8h0.8v0.8h-0.8zM428.0 453.8h0.8v0.8h-0.8zM431.1 452.9h0.8v0.8h-0.8zM432.3 446.6h0.8v0.8h-0.8zM432.5 442.4h0.8v0.8h-0.8zM432.8 426.0h0.8v0.8h-0.8zM429.1 441.6h0.8v0.8h-0.8zM429.1 456.2h0.8v0.8h-0.8zM430.7 448.8h0.8v0.8h-0.8zM432.8 436.2h0.8v0.8h-0.8zM427.3 460.1h0.8v0.8h-0.8zM429.8 431.4h0.8v0.8h-0.8zM429.8 438.5h0.8v0.8h-0.8zM432.4 457.2h0.8v0.8h-0.8zM427.9 458.3h0.8v0.8h-0.8zM427.3 455.4h0.8v0.8h-0.8zM430.4 447.0h0.8v0.8h-0.8zM426.0 445.8h0.8v0.8h-0.8zM424.1 443.5h0.8v0.8h-0.8zM425.0 457.7h0.8v0.8h-0.8zM427.0 428.5h0.8v0.8h-0.8zM430.4 451.0h0.8v0.8h-0.8zM428.0 464.9h0.8v0.8h-0.8zM430.8 448.5h0.8v0.8h-0.8zM427.7 424.4h0.8v0.8h-0.8zM430.2 455.7h0.8v0.8h-0.8zM427.8 436.7h0.8v0.8h-0.8zM429.0 434.6h0.8v0.8h-0.8zM429.1 454.2h0.8v0.8h-0.8zM432.4 450.1h0.8v0.8h-0.8zM429.5 454.0h0.8v0.8h-0.8zM432.2 445.4h0.8v0.8h-0.8zM426.4 441.7h0.8v0.8h-0.8zM426.3 440.9h0.8v0.8h-0.8zM428.8 450.7h0.8v0.8h-0.8zM429.4 448.6h0.8v0.8h-0.8zM428.3 451.4h0.8v0.8h-0.8zM431.0 454.1h0.8v0.8h-0.8zM432.4 445.7h0.8v0.8h-0.8zM428.5 461.6h0.8v0.8h-0.8zM429.5 451.3h0.8v0.8h-0.8zM428.4 455.8h0.8v0.8h-0.8zM428.2 439.9h0.8v0.8h-0.8zM429.0 444.5h0.8v0.8h-0.8zM430.9 445.0h0.8v0.8h-0.8zM429.4 446.3h0.8v0.8h-0.8zM429.8 443.0h0.8v0.8h-0.8zM431.5 436.6h0.8v0.8h-0.8zM428.3 442.3h0.8v0.8h-0.8zM430.5 448.3h0.8v0.8h-0.8zM430.2 445.4h0.8v0.8h-0.8zM427.5 439.0h0.8v0.8h-0.8zM428.4 443.7h0.8v0.8h-0.8zM429.7 450.8h0.8v0.8h-0.8zM431.2 447.1h0.8v0.8h-0.8zM427.5 439.5h0.8v0.8h-0.8zM429.2 450.9h0.8v0.8h-0.8zM433.4 449.5h0.8v0.8h-0.8zM433.0 463.0h0.8v0.8h-0.8zM426.8 457.7h0.8v0.8h-0.8zM431.6 458.8h0.8v0.8h-0.8zM429.1 455.6h0.8v0.8h-0.8zM428.0 447.4h0.8v0.8h-0.8zM429.1 462.3h0.8v0.8h-0.8zM428.6 455.6h0.8v0.8h-0.8zM429.2 442.3h0.8v0.8h-0.8zM429.6 453.3h0.8v0.8h-0.8zM427.5 453.1h0.8v0.8h-0.8zM427.5 441.0h0.8v0.8h-0.8zM429.6 446.1h0.8v0.8h-0.8zM426.9 435.0h0.8v0.8h-0.8zM429.2 449.9h0.8v0.8h-0.8zM428.1 449.5h0.8v0.8h-0.8zM425.7 451.1h0.8v0.8h-0.8zM430.0 450.2h0.8v0.8h-0.8zM427.8 448.6h0.8v0.8h-0.8zM429.4 456.6h0.8v0.8h-0.8zM429.7 450.0h0.8v0.8h-0.8zM427.5 454.9h0.8v0.8h-0.8zM431.7 444.1h0.8v0.8h-0.8zM430.5 450.5h0.8v0.8h-0.8zM429.0 437.7h0.8v0.8h-0.8zM433.0 433.1h0.8v0.8h-0.8zM429.8 445.0h0.8v0.8h-0.8zM431.6 444.6h0.8v0.8h-0.8zM429.2 452.9h0.8v0.8h-0.8zM430.1 443.8h0.8v0.8h-0.8zM430.6 451.1h0.8v0.8h-0.8zM431.3 443.9h0.8v0.8h-0.8zM429.0 444.9h0.8v0.8h-0.8zM427.3 450.0h0.8v0.8h-0.8zM430.0 459.3h0.8v0.8h-0.8zM428.4 451.1h0.8v0.8h-0.8zM431.6 447.1h0.8v0.8h-0.8zM429.2 449.1h0.8v0.8h-0.8zM427.6 440.1h0.8v0.8h-0.8zM431.6 449.4h0.8v0.8h-0.8zM428.9 438.1h0.8v0.8h-0.8zM429.4 457.4h0.8v0.8h-0.8zM426.6 440.9h0.8v0.8h-0.8zM431.5 459.4h0.8v0.8h-0.8zM432.5 443.6h0.8v0.8h-0.8zM430.4 442.0h0.8v0.8h-0.8zM430.2 445.1h0.8v0.8h-0.8zM429.5 458.7h0.8v0.8h-0.8zM429.8 446.1h0.8v0.8h-0.8zM429.2 450.1h0.8v0.8h-0.8zM428.0 449.6h0.8v0.8h-0.8zM430.4 460.4h0.8v0.8h-0.8zM424.6 438.5h0.8v0.8h-0.8zM426.4 455.0h0.8v0.8h-0.8zM434.4 449.5h0.8v0.8h-0.8zM429.4 457.1h0.8v0.8h-0.8zM423.8 446.6h0.8v0.8h-0.8zM422.3 449.2h0.8v0.8h-0.8zM428.0 444.1h0.8v0.8h-0.8zM429.8 443.4h0.8v0.8h-0.8zM431.5 448.0h0.8v0.8h-0.8zM429.9 468.2h0.8v0.8h-0.8zM428.1 455.4h0.8v0.8h-0.8z" fill="#4a68c8" opacity="0.45"/>
<path d="M426.0 437.7h0.8v0.8h-0.8zM434.9 434.4h0.8v0.8h-0.8zM435.0 438.8h0.8v0.8h-0.8zM436.9 434.0h0.8v0.8h-0.8zM429.8 437.3h0.8v0.8h-0.8zM422.8 432.2h0.8v0.8h-0.8zM432.5 435.7h0.8v0.8h-0.8zM439.3 439.2h0.8v0.8h-0.8zM431.7 435.3h0.8v0.8h-0.8zM423.6 433.4h0.8v0.8h-0.8zM431.4 433.3h0.8v0.8h-0.8zM430.4 435.8h0.8v0.8h-0.8zM425.4 432.3h0.8v0.8h-0.8zM421.3 437.4h0.8v0.8h-0.8zM424.9 428.9h0.8v0.8h-0.8zM433.9 433.4h0.8v0.8h-0.8zM434.9 432.9h0.8v0.8h-0.8zM440.6 436.1h0.8v0.8h-0.8zM430.8 434.3h0.8v0.8h-0.8zM429.1 436.4h0.8v0.8h-0.8zM440.0 432.7h0.8v0.8h-0.8zM424.7 435.8h0.8v0.8h-0.8zM435.4 429.6h0.8v0.8h-0.8zM426.7 431.0h0.8v0.8h-0.8zM432.9 435.5h0.8v0.8h-0.8zM426.5 430.7h0.8v0.8h-0.8zM433.5 427.9h0.8v0.8h-0.8zM433.3 433.5h0.8v0.8h-0.8zM439.6 436.9h0.8v0.8h-0.8zM427.2 433.2h0.8v0.8h-0.8zM428.7 431.8h0.8v0.8h-0.8zM430.5 436.9h0.8v0.8h-0.8zM422.7 433.3h0.8v0.8h-0.8zM437.5 436.2h0.8v0.8h-0.8zM426.1 431.6h0.8v0.8h-0.8zM425.9 429.3h0.8v0.8h-0.8zM435.8 434.2h0.8v0.8h-0.8zM426.7 429.8h0.8v0.8h-0.8zM428.2 432.5h0.8v0.8h-0.8zM438.6 432.6h0.8v0.8h-0.8zM430.7 437.2h0.8v0.8h-0.8zM433.4 433.5h0.8v0.8h-0.8zM419.4 438.1h0.8v0.8h-0.8zM433.0 432.7h0.8v0.8h-0.8zM429.7 431.2h0.8v0.8h-0.8zM425.7 429.6h0.8v0.8h-0.8zM432.6 435.5h0.8v0.8h-0.8zM431.0 436.3h0.8v0.8h-0.8zM432.7 434.4h0.8v0.8h-0.8zM425.8 435.7h0.8v0.8h-0.8zM435.9 435.9h0.8v0.8h-0.8zM436.2 432.6h0.8v0.8h-0.8zM425.3 437.7h0.8v0.8h-0.8zM427.2 434.7h0.8v0.8h-0.8zM429.2 434.1h0.8v0.8h-0.8zM428.8 432.4h0.8v0.8h-0.8zM421.3 439.6h0.8v0.8h-0.8zM431.1 428.3h0.8v0.8h-0.8zM425.6 430.7h0.8v0.8h-0.8zM426.5 426.5h0.8v0.8h-0.8z" fill="#4a68c8" opacity="0.4"/>
<path d="M423.4 464.2h0.8v0.8h-0.8zM418.6 463.3h0.8v0.8h-0.8zM423.5 461.4h0.8v0.8h-0.8zM427.2 460.9h0.8v0.8h-0.8zM416.6 462.2h0.8v0.8h-0.8zM427.4 462.7h0.8v0.8h-0.8zM419.3 461.8h0.8v0.8h-0.8zM420.5 462.6h0.8v0.8h-0.8zM424.3 464.0h0.8v0.8h-0.8zM424.3 462.6h0.8v0.8h-0.8zM419.1 464.2h0.8v0.8h-0.8zM421.2 462.6h0.8v0.8h-0.8zM430.6 464.1h0.8v0.8h-0.8zM423.3 462.5h0.8v0.8h-0.8zM416.3 463.6h0.8v0.8h-0.8zM417.3 463.5h0.8v0.8h-0.8zM415.4 462.7h0.8v0.8h-0.8zM422.4 462.7h0.8v0.8h-0.8zM421.4 463.0h0.8v0.8h-0.8zM413.4 461.5h0.8v0.8h-0.8zM419.1 464.4h0.8v0.8h-0.8zM419.3 461.7h0.8v0.8h-0.8zM416.1 462.6h0.8v0.8h-0.8zM426.9 462.0h0.8v0.8h-0.8zM423.3 462.8h0.8v0.8h-0.8zM417.9 461.7h0.8v0.8h-0.8zM419.1 461.9h0.8v0.8h-0.8zM423.2 460.9h0.8v0.8h-0.8zM426.6 463.3h0.8v0.8h-0.8zM423.4 464.1h0.8v0.8h-0.8zM423.5 460.9h0.8v0.8h-0.8zM420.3 463.0h0.8v0.8h-0.8zM416.0 461.5h0.8v0.8h-0.8zM422.5 463.1h0.8v0.8h-0.8zM417.5 462.4h0.8v0.8h-0.8zM417.0 462.0h0.8v0.8h-0.8zM419.7 463.6h0.8v0.8h-0.8zM410.6 462.3h0.8v0.8h-0.8zM429.5 462.9h0.8v0.8h-0.8zM420.9 463.4h0.8v0.8h-0.8zM414.1 461.4h0.8v0.8h-0.8zM410.3 461.2h0.8v0.8h-0.8zM421.5 463.4h0.8v0.8h-0.8zM417.6 461.9h0.8v0.8h-0.8zM422.4 463.2h0.8v0.8h-0.8zM421.5 460.7h0.8v0.8h-0.8zM416.8 460.1h0.8v0.8h-0.8zM421.4 461.8h0.8v0.8h-0.8zM416.2 464.1h0.8v0.8h-0.8zM427.7 463.1h0.8v0.8h-0.8zM421.6 462.8h0.8v0.8h-0.8zM416.6 462.6h0.8v0.8h-0.8zM431.2 461.7h0.8v0.8h-0.8zM416.1 462.8h0.8v0.8h-0.8zM425.2 463.4h0.8v0.8h-0.8zM414.4 462.5h0.8v0.8h-0.8zM418.5 461.4h0.8v0.8h-0.8zM420.5 462.1h0.8v0.8h-0.8zM425.4 463.0h0.8v0.8h-0.8zM415.4 462.7h0.8v0.8h-0.8z" fill="#5a78cc" opacity="0.4"/>
<g filter="url(#dmap)" fill="#000"><ellipse cx="413.10" cy="434.40" rx="17.00" ry="0.70" fill-opacity="0.24"/><ellipse cx="429.10" cy="434.00" rx="7.00" ry="3.00" fill-opacity="0.2"/><ellipse cx="431.10" cy="433.80" rx="4.00" ry="1.60" fill-opacity="0.28"/><ellipse cx="429.10" cy="448.00" rx="1.60" ry="13.00" fill-opacity="0.06"/><ellipse cx="417.00" cy="462.90" rx="13.00" ry="1.00" fill-opacity="0.25"/><ellipse cx="404.00" cy="462.60" rx="4.00" ry="2.20" fill-opacity="0.5"/><ellipse cx="403.70" cy="462.60" rx="2.70" ry="1.30" fill-opacity="0.55"/><ellipse cx="403.70" cy="462.60" rx="1.90" ry="0.90" fill-opacity="0.6"/></g>
<text x="388.80" y="418.20" font-size="7" text-anchor="start" font-weight="normal" fill="#222" >0.075</text>
<text x="451.60" y="418.20" font-size="7" text-anchor="end" font-weight="normal" fill="#222" >2.13</text>
<text x="388.80" y="475.60" font-size="7" text-anchor="start" font-weight="normal" fill="#222" >97.3</text>
<text x="451.60" y="475.60" font-size="7" text-anchor="end" font-weight="normal" fill="#222" >0.48</text>
<line x1="477.50" y1="411.00" x2="477.50" y2="477.80" stroke="#b4b4b4" stroke-width="1" />
<line x1="453.60" y1="457.00" x2="519.40" y2="457.00" stroke="#b4b4b4" stroke-width="1" />
<path d="M493.8 436.9h0.8v0.8h-0.8zM493.3 445.2h0.8v0.8h-0.8zM493.6 431.7h0.8v0.8h-0.8zM492.4 443.9h0.8v0.8h-0.8zM502.3 434.9h0.8v0.8h-0.8zM493.8 438.4h0.8v0.8h-0.8zM490.2 442.0h0.8v0.8h-0.8zM494.8 441.4h0.8v0.8h-0.8zM502.6 438.7h0.8v0.8h-0.8zM497.7 444.1h0.8v0.8h-0.8zM492.8 437.1h0.8v0.8h-0.8zM500.3 443.5h0.8v0.8h-0.8zM495.5 434.7h0.8v0.8h-0.8zM498.0 442.6h0.8v0.8h-0.8zM502.5 447.2h0.8v0.8h-0.8zM497.7 441.3h0.8v0.8h-0.8zM495.2 437.3h0.8v0.8h-0.8zM496.1 441.2h0.8v0.8h-0.8zM497.2 445.3h0.8v0.8h-0.8zM496.1 437.4h0.8v0.8h-0.8zM497.7 447.5h0.8v0.8h-0.8zM492.2 442.0h0.8v0.8h-0.8zM496.9 442.6h0.8v0.8h-0.8zM496.7 439.6h0.8v0.8h-0.8zM494.7 448.2h0.8v0.8h-0.8zM500.9 433.2h0.8v0.8h-0.8zM486.4 442.1h0.8v0.8h-0.8zM492.7 437.5h0.8v0.8h-0.8zM489.6 441.7h0.8v0.8h-0.8zM494.8 437.4h0.8v0.8h-0.8z" fill="#7090d8" opacity="0.3"/>
<path d="M501.5 439.9h0.8v0.8h-0.8zM503.7 436.9h0.8v0.8h-0.8zM496.4 435.6h0.8v0.8h-0.8zM497.9 436.8h0.8v0.8h-0.8zM500.3 433.9h0.8v0.8h-0.8zM500.1 432.3h0.8v0.8h-0.8zM501.1 437.7h0.8v0.8h-0.8zM496.6 435.4h0.8v0.8h-0.8zM491.5 436.3h0.8v0.8h-0.8zM501.4 431.5h0.8v0.8h-0.8zM504.8 434.3h0.8v0.8h-0.8zM491.3 430.7h0.8v0.8h-0.8zM501.4 433.3h0.8v0.8h-0.8zM502.3 430.2h0.8v0.8h-0.8zM497.6 436.4h0.8v0.8h-0.8zM495.4 435.7h0.8v0.8h-0.8zM496.6 434.8h0.8v0.8h-0.8zM499.3 439.4h0.8v0.8h-0.8zM493.2 435.9h0.8v0.8h-0.8zM503.1 431.3h0.8v0.8h-0.8zM498.3 439.6h0.8v0.8h-0.8zM502.1 426.8h0.8v0.8h-0.8zM497.1 429.8h0.8v0.8h-0.8zM499.2 432.2h0.8v0.8h-0.8zM495.8 432.0h0.8v0.8h-0.8zM499.1 432.9h0.8v0.8h-0.8zM494.5 433.4h0.8v0.8h-0.8zM499.6 431.9h0.8v0.8h-0.8zM502.3 430.0h0.8v0.8h-0.8zM499.6 433.1h0.8v0.8h-0.8zM504.1 432.4h0.8v0.8h-0.8zM495.4 430.7h0.8v0.8h-0.8zM505.7 435.5h0.8v0.8h-0.8zM493.8 433.2h0.8v0.8h-0.8zM494.3 437.7h0.8v0.8h-0.8zM499.6 429.1h0.8v0.8h-0.8zM498.8 436.2h0.8v0.8h-0.8zM498.0 435.2h0.8v0.8h-0.8zM497.6 434.5h0.8v0.8h-0.8zM498.8 432.3h0.8v0.8h-0.8z" fill="#4a68c8" opacity="0.35"/>
<path d="M487.8 462.7h0.8v0.8h-0.8zM485.6 462.2h0.8v0.8h-0.8zM479.9 462.7h0.8v0.8h-0.8zM490.6 461.2h0.8v0.8h-0.8zM482.7 463.4h0.8v0.8h-0.8zM491.1 462.2h0.8v0.8h-0.8zM493.7 462.0h0.8v0.8h-0.8zM481.2 463.7h0.8v0.8h-0.8zM483.3 462.5h0.8v0.8h-0.8zM476.2 462.0h0.8v0.8h-0.8zM478.9 462.5h0.8v0.8h-0.8zM475.1 463.2h0.8v0.8h-0.8zM483.7 462.2h0.8v0.8h-0.8zM482.1 463.0h0.8v0.8h-0.8zM494.7 462.4h0.8v0.8h-0.8zM495.2 463.5h0.8v0.8h-0.8zM493.6 462.8h0.8v0.8h-0.8zM477.1 463.0h0.8v0.8h-0.8zM483.4 462.7h0.8v0.8h-0.8zM474.8 462.4h0.8v0.8h-0.8zM487.2 462.1h0.8v0.8h-0.8zM487.5 463.6h0.8v0.8h-0.8zM487.1 462.2h0.8v0.8h-0.8zM499.7 461.3h0.8v0.8h-0.8zM480.4 462.8h0.8v0.8h-0.8z" fill="#8098d8" opacity="0.3"/>
<g filter="url(#dmap)" fill="#000"><ellipse cx="498.00" cy="434.00" rx="6.00" ry="2.40" fill-opacity="0.18"/><ellipse cx="498.50" cy="434.00" rx="3.50" ry="1.30" fill-opacity="0.28"/><ellipse cx="472.80" cy="463.00" rx="5.00" ry="0.80" fill-opacity="0.3"/><ellipse cx="469.80" cy="462.60" rx="3.00" ry="1.70" fill-opacity="0.5"/><ellipse cx="469.60" cy="462.60" rx="1.90" ry="1.00" fill-opacity="0.55"/><ellipse cx="469.60" cy="462.60" rx="1.20" ry="0.70" fill-opacity="0.5"/></g>
<text x="454.80" y="418.20" font-size="7" text-anchor="start" font-weight="normal" fill="#222" >0.019</text>
<text x="518.40" y="418.20" font-size="7" text-anchor="end" font-weight="normal" fill="#222" >2.77</text>
<text x="454.80" y="475.60" font-size="7" text-anchor="start" font-weight="normal" fill="#222" >97</text>
<text x="518.40" y="475.60" font-size="7" text-anchor="end" font-weight="normal" fill="#222" >0.22</text>
<text x="248.90" y="419.70" font-size="6.9" text-anchor="end" fill="#333">10<tspan font-size="4.9" dy="-3.5">5</tspan></text>
<text x="248.90" y="434.30" font-size="6.9" text-anchor="end" fill="#333">10<tspan font-size="4.9" dy="-3.5">4</tspan></text>
<text x="248.90" y="452.20" font-size="6.9" text-anchor="end" fill="#333">10<tspan font-size="4.9" dy="-3.5">3</tspan></text>
<text x="248.50" y="465.00" font-size="6.9" text-anchor="end" font-weight="normal" fill="#333" >0</text>
<rect x="250.1" y="462.1" width="1.4" height="1.3" fill="#222"/>
<line x1="280.50" y1="479.80" x2="280.50" y2="545.20" stroke="#b4b4b4" stroke-width="1" />
<line x1="251.50" y1="523.60" x2="317.20" y2="523.60" stroke="#b4b4b4" stroke-width="1" />
<path d="M289.6 500.1h0.8v0.8h-0.8zM293.1 516.8h0.8v0.8h-0.8zM288.8 520.2h0.8v0.8h-0.8zM294.0 518.8h0.8v0.8h-0.8zM285.8 512.4h0.8v0.8h-0.8zM298.5 523.2h0.8v0.8h-0.8zM297.4 512.4h0.8v0.8h-0.8zM292.7 509.0h0.8v0.8h-0.8zM296.5 508.7h0.8v0.8h-0.8zM292.5 501.3h0.8v0.8h-0.8zM285.8 521.9h0.8v0.8h-0.8zM292.2 513.6h0.8v0.8h-0.8zM283.0 512.2h0.8v0.8h-0.8zM300.5 504.4h0.8v0.8h-0.8zM282.3 511.5h0.8v0.8h-0.8zM289.8 511.3h0.8v0.8h-0.8zM286.9 505.1h0.8v0.8h-0.8zM286.9 515.8h0.8v0.8h-0.8zM291.8 516.8h0.8v0.8h-0.8zM287.6 515.6h0.8v0.8h-0.8zM290.2 512.9h0.8v0.8h-0.8zM295.8 512.6h0.8v0.8h-0.8zM290.6 503.5h0.8v0.8h-0.8zM292.3 516.6h0.8v0.8h-0.8zM289.4 512.0h0.8v0.8h-0.8zM284.7 505.2h0.8v0.8h-0.8zM293.7 519.4h0.8v0.8h-0.8zM290.7 503.4h0.8v0.8h-0.8zM290.4 504.0h0.8v0.8h-0.8zM290.9 522.8h0.8v0.8h-0.8zM293.2 511.6h0.8v0.8h-0.8zM296.3 510.4h0.8v0.8h-0.8zM293.4 513.5h0.8v0.8h-0.8zM293.8 504.5h0.8v0.8h-0.8zM294.9 517.2h0.8v0.8h-0.8zM282.6 497.8h0.8v0.8h-0.8zM288.3 520.4h0.8v0.8h-0.8zM292.1 516.1h0.8v0.8h-0.8zM294.3 517.2h0.8v0.8h-0.8zM289.4 509.2h0.8v0.8h-0.8zM293.6 515.7h0.8v0.8h-0.8zM294.4 514.2h0.8v0.8h-0.8zM290.0 518.4h0.8v0.8h-0.8zM293.9 518.1h0.8v0.8h-0.8zM281.5 517.9h0.8v0.8h-0.8zM281.9 513.5h0.8v0.8h-0.8zM289.3 513.1h0.8v0.8h-0.8zM290.0 510.7h0.8v0.8h-0.8zM292.8 514.3h0.8v0.8h-0.8zM288.7 498.7h0.8v0.8h-0.8zM288.8 515.3h0.8v0.8h-0.8zM288.5 514.7h0.8v0.8h-0.8zM290.5 507.3h0.8v0.8h-0.8zM296.8 521.4h0.8v0.8h-0.8zM291.6 512.1h0.8v0.8h-0.8zM296.0 505.2h0.8v0.8h-0.8zM288.4 518.5h0.8v0.8h-0.8zM295.7 509.7h0.8v0.8h-0.8zM288.8 514.3h0.8v0.8h-0.8zM286.2 509.7h0.8v0.8h-0.8zM291.0 499.0h0.8v0.8h-0.8zM294.5 516.6h0.8v0.8h-0.8zM296.4 504.6h0.8v0.8h-0.8zM286.7 508.0h0.8v0.8h-0.8zM286.6 523.6h0.8v0.8h-0.8zM287.9 510.7h0.8v0.8h-0.8zM292.9 514.9h0.8v0.8h-0.8zM298.0 506.5h0.8v0.8h-0.8zM295.7 513.2h0.8v0.8h-0.8zM287.1 513.2h0.8v0.8h-0.8zM286.2 521.2h0.8v0.8h-0.8zM289.0 517.9h0.8v0.8h-0.8zM297.4 509.0h0.8v0.8h-0.8zM288.3 513.1h0.8v0.8h-0.8zM287.6 517.3h0.8v0.8h-0.8zM292.7 508.2h0.8v0.8h-0.8zM289.1 516.4h0.8v0.8h-0.8zM286.0 521.6h0.8v0.8h-0.8zM288.7 511.3h0.8v0.8h-0.8zM288.1 521.3h0.8v0.8h-0.8zM295.4 519.5h0.8v0.8h-0.8zM294.7 512.9h0.8v0.8h-0.8zM299.1 516.0h0.8v0.8h-0.8zM293.8 515.6h0.8v0.8h-0.8zM295.1 513.9h0.8v0.8h-0.8zM291.3 503.7h0.8v0.8h-0.8zM300.6 505.3h0.8v0.8h-0.8zM283.0 508.5h0.8v0.8h-0.8zM300.1 519.1h0.8v0.8h-0.8zM289.5 513.9h0.8v0.8h-0.8z" fill="#7088d4" opacity="0.38"/>
<path d="M278.5 527.5h0.8v0.8h-0.8zM277.4 529.6h0.8v0.8h-0.8zM282.7 528.2h0.8v0.8h-0.8zM270.7 527.9h0.8v0.8h-0.8zM279.8 529.4h0.8v0.8h-0.8zM279.1 529.4h0.8v0.8h-0.8zM277.3 528.1h0.8v0.8h-0.8zM280.2 529.6h0.8v0.8h-0.8zM280.6 530.4h0.8v0.8h-0.8zM274.3 527.2h0.8v0.8h-0.8zM272.4 531.2h0.8v0.8h-0.8zM275.4 529.7h0.8v0.8h-0.8zM278.5 530.0h0.8v0.8h-0.8zM289.8 528.8h0.8v0.8h-0.8zM278.0 528.8h0.8v0.8h-0.8zM279.5 529.8h0.8v0.8h-0.8zM275.2 530.5h0.8v0.8h-0.8zM282.6 529.7h0.8v0.8h-0.8zM278.2 529.1h0.8v0.8h-0.8zM272.8 529.9h0.8v0.8h-0.8zM275.2 528.8h0.8v0.8h-0.8zM282.1 528.5h0.8v0.8h-0.8zM276.8 530.1h0.8v0.8h-0.8zM285.1 528.7h0.8v0.8h-0.8zM282.5 528.7h0.8v0.8h-0.8zM280.0 529.7h0.8v0.8h-0.8zM274.6 530.2h0.8v0.8h-0.8zM284.9 529.3h0.8v0.8h-0.8zM279.5 528.2h0.8v0.8h-0.8zM284.9 529.4h0.8v0.8h-0.8z" fill="#7090d8" opacity="0.35"/>
<path d="M272.0 502.6h0.8v0.8h-0.8zM275.2 502.6h0.8v0.8h-0.8zM271.9 502.9h0.8v0.8h-0.8zM283.1 502.8h0.8v0.8h-0.8zM276.1 502.2h0.8v0.8h-0.8zM271.2 502.2h0.8v0.8h-0.8zM282.0 502.7h0.8v0.8h-0.8zM279.7 502.7h0.8v0.8h-0.8zM283.8 502.6h0.8v0.8h-0.8zM270.0 502.7h0.8v0.8h-0.8zM268.9 502.5h0.8v0.8h-0.8zM266.7 502.8h0.8v0.8h-0.8zM273.5 502.2h0.8v0.8h-0.8zM282.4 502.0h0.8v0.8h-0.8zM282.6 502.7h0.8v0.8h-0.8z" fill="#90a0d8" opacity="0.35"/>
<g filter="url(#dmap)" fill="#000"><ellipse cx="293.00" cy="502.40" rx="9.00" ry="1.40" fill-opacity="0.2"/><ellipse cx="295.50" cy="502.20" rx="5.50" ry="0.90" fill-opacity="0.28"/><ellipse cx="297.00" cy="502.10" rx="2.80" ry="0.70" fill-opacity="0.3"/><ellipse cx="275.60" cy="529.90" rx="9.00" ry="1.00" fill-opacity="0.28"/><ellipse cx="269.60" cy="529.30" rx="3.90" ry="2.10" fill-opacity="0.5"/><ellipse cx="269.30" cy="529.30" rx="2.60" ry="1.30" fill-opacity="0.55"/><ellipse cx="269.30" cy="529.30" rx="1.80" ry="0.90" fill-opacity="0.6"/><ellipse cx="267.00" cy="524.80" rx="0.70" ry="4.50" fill-opacity="0.3"/></g>
<text x="252.70" y="487.00" font-size="7" text-anchor="start" font-weight="normal" fill="#222" >0.16</text>
<text x="316.20" y="487.00" font-size="7" text-anchor="end" font-weight="normal" fill="#222" >2.22</text>
<text x="252.70" y="543.00" font-size="7" text-anchor="start" font-weight="normal" fill="#222" >97.3</text>
<text x="316.20" y="543.00" font-size="7" text-anchor="end" font-weight="normal" fill="#222" >0.3</text>
<line x1="347.50" y1="479.80" x2="347.50" y2="545.20" stroke="#b4b4b4" stroke-width="1" />
<line x1="318.00" y1="523.60" x2="384.00" y2="523.60" stroke="#b4b4b4" stroke-width="1" />
<path d="M361.0 520.6h0.8v0.8h-0.8zM352.1 506.6h0.8v0.8h-0.8zM355.3 509.1h0.8v0.8h-0.8zM359.2 511.4h0.8v0.8h-0.8zM358.2 509.6h0.8v0.8h-0.8zM357.8 515.3h0.8v0.8h-0.8zM360.2 507.7h0.8v0.8h-0.8zM357.7 507.8h0.8v0.8h-0.8zM357.5 503.8h0.8v0.8h-0.8zM360.9 516.4h0.8v0.8h-0.8zM357.6 508.3h0.8v0.8h-0.8zM356.6 508.4h0.8v0.8h-0.8zM353.4 522.2h0.8v0.8h-0.8zM367.9 505.0h0.8v0.8h-0.8zM354.5 515.9h0.8v0.8h-0.8zM359.8 503.0h0.8v0.8h-0.8zM352.2 515.7h0.8v0.8h-0.8zM352.0 520.9h0.8v0.8h-0.8zM356.5 512.9h0.8v0.8h-0.8zM358.0 509.0h0.8v0.8h-0.8zM357.6 510.6h0.8v0.8h-0.8zM361.7 511.8h0.8v0.8h-0.8zM357.9 509.2h0.8v0.8h-0.8zM356.1 508.0h0.8v0.8h-0.8zM358.0 523.4h0.8v0.8h-0.8zM361.3 513.8h0.8v0.8h-0.8zM363.0 518.5h0.8v0.8h-0.8zM358.6 511.4h0.8v0.8h-0.8zM354.7 513.9h0.8v0.8h-0.8zM357.1 502.9h0.8v0.8h-0.8zM354.1 524.0h0.8v0.8h-0.8zM358.6 515.4h0.8v0.8h-0.8zM358.6 509.6h0.8v0.8h-0.8zM359.4 518.9h0.8v0.8h-0.8zM357.1 515.5h0.8v0.8h-0.8zM361.1 509.5h0.8v0.8h-0.8zM358.5 508.0h0.8v0.8h-0.8zM359.8 510.2h0.8v0.8h-0.8zM361.4 507.8h0.8v0.8h-0.8zM363.1 510.5h0.8v0.8h-0.8zM355.5 507.0h0.8v0.8h-0.8zM360.0 507.3h0.8v0.8h-0.8zM363.4 520.1h0.8v0.8h-0.8zM359.6 503.9h0.8v0.8h-0.8zM357.9 508.0h0.8v0.8h-0.8zM352.6 515.0h0.8v0.8h-0.8zM364.6 509.2h0.8v0.8h-0.8zM360.4 520.1h0.8v0.8h-0.8zM355.1 510.4h0.8v0.8h-0.8zM358.8 515.2h0.8v0.8h-0.8zM354.6 513.7h0.8v0.8h-0.8zM357.7 518.1h0.8v0.8h-0.8zM353.2 509.0h0.8v0.8h-0.8zM356.5 510.5h0.8v0.8h-0.8zM360.2 508.6h0.8v0.8h-0.8zM366.2 508.2h0.8v0.8h-0.8zM360.5 518.5h0.8v0.8h-0.8zM360.9 511.2h0.8v0.8h-0.8zM355.5 510.9h0.8v0.8h-0.8zM360.0 513.1h0.8v0.8h-0.8zM359.7 515.8h0.8v0.8h-0.8zM355.3 506.8h0.8v0.8h-0.8zM362.3 509.5h0.8v0.8h-0.8zM353.2 523.6h0.8v0.8h-0.8zM355.5 506.8h0.8v0.8h-0.8zM360.9 505.6h0.8v0.8h-0.8zM355.4 518.7h0.8v0.8h-0.8zM355.5 527.4h0.8v0.8h-0.8zM358.3 528.5h0.8v0.8h-0.8zM358.4 512.7h0.8v0.8h-0.8z" fill="#7088d4" opacity="0.38"/>
<path d="M342.1 530.4h0.8v0.8h-0.8zM342.5 530.6h0.8v0.8h-0.8zM346.3 529.7h0.8v0.8h-0.8zM341.2 529.1h0.8v0.8h-0.8zM348.5 530.5h0.8v0.8h-0.8zM344.0 530.6h0.8v0.8h-0.8zM347.0 530.8h0.8v0.8h-0.8zM346.6 530.5h0.8v0.8h-0.8zM343.6 530.6h0.8v0.8h-0.8zM338.4 531.4h0.8v0.8h-0.8zM339.3 529.9h0.8v0.8h-0.8zM346.0 530.6h0.8v0.8h-0.8zM346.4 531.8h0.8v0.8h-0.8zM349.6 531.6h0.8v0.8h-0.8zM343.3 532.0h0.8v0.8h-0.8z" fill="#7090d8" opacity="0.35"/>
<g filter="url(#dmap)" fill="#000"><ellipse cx="354.00" cy="502.60" rx="10.00" ry="0.80" fill-opacity="0.2"/><ellipse cx="361.50" cy="502.40" rx="6.00" ry="1.30" fill-opacity="0.25"/><ellipse cx="363.00" cy="502.40" rx="3.50" ry="0.90" fill-opacity="0.3"/><ellipse cx="339.00" cy="531.10" rx="6.00" ry="1.10" fill-opacity="0.3"/><ellipse cx="335.00" cy="530.60" rx="3.70" ry="2.10" fill-opacity="0.5"/><ellipse cx="334.70" cy="530.60" rx="2.50" ry="1.30" fill-opacity="0.55"/><ellipse cx="334.70" cy="530.60" rx="1.70" ry="0.90" fill-opacity="0.6"/></g>
<text x="319.20" y="487.00" font-size="7" text-anchor="start" font-weight="normal" fill="#222" >0.14</text>
<text x="383.00" y="487.00" font-size="7" text-anchor="end" font-weight="normal" fill="#222" >7.56</text>
<text x="319.20" y="543.00" font-size="7" text-anchor="start" font-weight="normal" fill="#222" >92.1</text>
<text x="383.00" y="543.00" font-size="7" text-anchor="end" font-weight="normal" fill="#222" >0.25</text>
<line x1="410.80" y1="479.80" x2="410.80" y2="545.20" stroke="#b4b4b4" stroke-width="1" />
<line x1="387.60" y1="525.80" x2="452.60" y2="525.80" stroke="#b4b4b4" stroke-width="1" />
<path d="M412.4 501.7h0.8v0.8h-0.8zM428.9 501.8h0.8v0.8h-0.8zM419.1 501.2h0.8v0.8h-0.8zM423.9 502.9h0.8v0.8h-0.8zM397.6 502.4h0.8v0.8h-0.8zM403.5 501.4h0.8v0.8h-0.8zM406.9 502.3h0.8v0.8h-0.8zM428.4 502.9h0.8v0.8h-0.8zM429.9 502.2h0.8v0.8h-0.8zM417.5 501.4h0.8v0.8h-0.8zM420.1 502.1h0.8v0.8h-0.8zM406.7 502.7h0.8v0.8h-0.8zM402.9 501.4h0.8v0.8h-0.8zM399.4 501.4h0.8v0.8h-0.8zM415.1 502.5h0.8v0.8h-0.8zM399.4 502.0h0.8v0.8h-0.8zM414.6 502.1h0.8v0.8h-0.8zM408.7 502.1h0.8v0.8h-0.8zM394.2 501.2h0.8v0.8h-0.8zM409.0 501.5h0.8v0.8h-0.8zM421.2 501.5h0.8v0.8h-0.8zM423.7 501.5h0.8v0.8h-0.8zM397.0 502.0h0.8v0.8h-0.8zM407.7 501.7h0.8v0.8h-0.8zM421.5 501.5h0.8v0.8h-0.8zM418.1 502.6h0.8v0.8h-0.8zM410.1 502.0h0.8v0.8h-0.8zM427.3 502.2h0.8v0.8h-0.8zM400.2 501.2h0.8v0.8h-0.8zM396.6 501.7h0.8v0.8h-0.8zM396.8 502.3h0.8v0.8h-0.8zM409.1 501.7h0.8v0.8h-0.8zM412.3 502.8h0.8v0.8h-0.8zM402.5 501.4h0.8v0.8h-0.8zM404.7 501.7h0.8v0.8h-0.8zM426.8 502.4h0.8v0.8h-0.8zM409.3 501.4h0.8v0.8h-0.8zM395.3 501.3h0.8v0.8h-0.8zM424.5 502.3h0.8v0.8h-0.8zM399.3 502.2h0.8v0.8h-0.8zM395.7 502.0h0.8v0.8h-0.8zM405.8 501.3h0.8v0.8h-0.8zM420.7 502.4h0.8v0.8h-0.8zM412.2 501.4h0.8v0.8h-0.8zM418.0 501.9h0.8v0.8h-0.8zM417.7 501.3h0.8v0.8h-0.8zM426.5 501.1h0.8v0.8h-0.8zM401.7 501.8h0.8v0.8h-0.8zM400.8 501.3h0.8v0.8h-0.8zM418.7 502.9h0.8v0.8h-0.8zM405.8 501.6h0.8v0.8h-0.8zM418.1 501.5h0.8v0.8h-0.8zM408.2 502.3h0.8v0.8h-0.8zM409.3 501.4h0.8v0.8h-0.8zM396.2 502.1h0.8v0.8h-0.8zM429.8 502.8h0.8v0.8h-0.8zM397.2 502.0h0.8v0.8h-0.8zM411.4 501.4h0.8v0.8h-0.8zM418.0 502.0h0.8v0.8h-0.8zM423.1 501.6h0.8v0.8h-0.8z" fill="#4a66c4" opacity="0.45"/>
<path d="M434.8 524.0h0.8v0.8h-0.8zM425.6 507.5h0.8v0.8h-0.8zM425.8 507.1h0.8v0.8h-0.8zM429.8 521.2h0.8v0.8h-0.8zM427.7 528.0h0.8v0.8h-0.8zM417.0 521.6h0.8v0.8h-0.8zM432.1 506.8h0.8v0.8h-0.8zM422.5 505.3h0.8v0.8h-0.8zM427.8 521.8h0.8v0.8h-0.8zM423.1 521.1h0.8v0.8h-0.8zM423.4 521.5h0.8v0.8h-0.8zM421.6 528.1h0.8v0.8h-0.8zM424.9 504.1h0.8v0.8h-0.8zM417.9 521.9h0.8v0.8h-0.8zM433.4 519.7h0.8v0.8h-0.8zM419.2 525.5h0.8v0.8h-0.8zM430.4 506.8h0.8v0.8h-0.8zM423.7 520.5h0.8v0.8h-0.8zM416.2 505.0h0.8v0.8h-0.8zM423.2 525.5h0.8v0.8h-0.8zM436.0 511.8h0.8v0.8h-0.8zM434.3 523.3h0.8v0.8h-0.8zM433.4 518.5h0.8v0.8h-0.8zM435.5 519.8h0.8v0.8h-0.8zM435.1 517.9h0.8v0.8h-0.8zM420.0 516.8h0.8v0.8h-0.8zM425.8 512.3h0.8v0.8h-0.8zM423.6 516.6h0.8v0.8h-0.8zM427.9 509.5h0.8v0.8h-0.8zM421.6 516.4h0.8v0.8h-0.8zM426.2 514.3h0.8v0.8h-0.8zM429.4 508.6h0.8v0.8h-0.8zM426.7 510.8h0.8v0.8h-0.8zM431.5 521.3h0.8v0.8h-0.8zM431.7 516.7h0.8v0.8h-0.8zM421.1 526.8h0.8v0.8h-0.8zM426.3 513.2h0.8v0.8h-0.8zM421.9 513.9h0.8v0.8h-0.8zM430.3 524.1h0.8v0.8h-0.8zM425.8 522.0h0.8v0.8h-0.8zM420.4 515.1h0.8v0.8h-0.8zM423.3 511.5h0.8v0.8h-0.8zM423.3 522.6h0.8v0.8h-0.8zM430.8 509.1h0.8v0.8h-0.8zM420.8 523.3h0.8v0.8h-0.8zM429.2 520.6h0.8v0.8h-0.8zM428.8 521.1h0.8v0.8h-0.8zM421.6 505.5h0.8v0.8h-0.8zM423.3 504.8h0.8v0.8h-0.8zM435.3 516.9h0.8v0.8h-0.8zM429.5 527.8h0.8v0.8h-0.8zM432.2 509.6h0.8v0.8h-0.8zM422.8 506.7h0.8v0.8h-0.8zM432.0 522.1h0.8v0.8h-0.8zM425.9 513.1h0.8v0.8h-0.8zM421.5 516.0h0.8v0.8h-0.8zM430.3 526.0h0.8v0.8h-0.8zM433.1 525.3h0.8v0.8h-0.8zM424.9 514.4h0.8v0.8h-0.8zM422.4 528.0h0.8v0.8h-0.8zM419.8 507.9h0.8v0.8h-0.8zM421.7 526.7h0.8v0.8h-0.8zM433.2 512.2h0.8v0.8h-0.8zM433.1 525.9h0.8v0.8h-0.8zM424.6 508.7h0.8v0.8h-0.8zM431.6 513.2h0.8v0.8h-0.8zM418.5 526.2h0.8v0.8h-0.8zM424.9 513.8h0.8v0.8h-0.8zM428.0 510.3h0.8v0.8h-0.8zM416.5 513.6h0.8v0.8h-0.8zM423.7 504.3h0.8v0.8h-0.8zM423.5 522.7h0.8v0.8h-0.8zM422.8 520.7h0.8v0.8h-0.8zM428.6 508.6h0.8v0.8h-0.8zM416.5 520.6h0.8v0.8h-0.8zM428.3 511.2h0.8v0.8h-0.8zM420.1 525.0h0.8v0.8h-0.8zM434.3 509.7h0.8v0.8h-0.8zM427.8 518.1h0.8v0.8h-0.8zM422.5 504.9h0.8v0.8h-0.8zM422.6 519.9h0.8v0.8h-0.8zM428.1 516.5h0.8v0.8h-0.8zM418.5 509.2h0.8v0.8h-0.8zM422.3 514.2h0.8v0.8h-0.8zM423.4 526.2h0.8v0.8h-0.8zM418.4 528.3h0.8v0.8h-0.8zM420.9 525.1h0.8v0.8h-0.8zM421.0 518.4h0.8v0.8h-0.8zM423.6 504.9h0.8v0.8h-0.8zM432.0 523.9h0.8v0.8h-0.8zM421.5 523.1h0.8v0.8h-0.8zM425.7 528.3h0.8v0.8h-0.8zM417.2 513.4h0.8v0.8h-0.8zM420.7 519.4h0.8v0.8h-0.8zM431.7 524.7h0.8v0.8h-0.8zM427.1 513.5h0.8v0.8h-0.8zM432.1 506.6h0.8v0.8h-0.8zM421.3 522.5h0.8v0.8h-0.8zM424.9 528.4h0.8v0.8h-0.8zM417.9 515.4h0.8v0.8h-0.8zM420.4 504.1h0.8v0.8h-0.8zM418.0 506.2h0.8v0.8h-0.8zM423.5 514.6h0.8v0.8h-0.8zM426.3 511.1h0.8v0.8h-0.8zM430.1 516.7h0.8v0.8h-0.8zM435.7 508.2h0.8v0.8h-0.8zM426.3 516.1h0.8v0.8h-0.8zM423.5 525.2h0.8v0.8h-0.8zM420.3 525.6h0.8v0.8h-0.8zM423.3 512.3h0.8v0.8h-0.8z" fill="#8a9ad8" opacity="0.35"/>
<path d="M427.0 509.2h0.8v0.8h-0.8zM428.9 519.3h0.8v0.8h-0.8zM431.1 513.9h0.8v0.8h-0.8zM431.5 523.7h0.8v0.8h-0.8zM427.2 514.6h0.8v0.8h-0.8zM427.1 529.6h0.8v0.8h-0.8zM427.9 523.1h0.8v0.8h-0.8zM431.1 514.0h0.8v0.8h-0.8zM428.0 518.7h0.8v0.8h-0.8zM427.4 505.9h0.8v0.8h-0.8zM427.0 518.7h0.8v0.8h-0.8zM429.5 530.0h0.8v0.8h-0.8zM425.1 520.0h0.8v0.8h-0.8zM426.6 525.2h0.8v0.8h-0.8zM430.6 517.0h0.8v0.8h-0.8zM432.3 513.0h0.8v0.8h-0.8zM427.9 507.6h0.8v0.8h-0.8zM427.7 516.9h0.8v0.8h-0.8zM430.6 526.2h0.8v0.8h-0.8zM428.5 510.2h0.8v0.8h-0.8zM428.4 512.6h0.8v0.8h-0.8zM428.1 512.8h0.8v0.8h-0.8zM427.2 515.6h0.8v0.8h-0.8zM428.0 514.7h0.8v0.8h-0.8zM426.1 517.2h0.8v0.8h-0.8zM430.4 521.1h0.8v0.8h-0.8zM427.9 506.9h0.8v0.8h-0.8zM426.3 506.7h0.8v0.8h-0.8zM427.7 513.5h0.8v0.8h-0.8zM425.2 521.3h0.8v0.8h-0.8zM425.7 510.6h0.8v0.8h-0.8zM427.5 522.6h0.8v0.8h-0.8zM433.1 513.2h0.8v0.8h-0.8zM428.5 512.9h0.8v0.8h-0.8zM428.7 514.7h0.8v0.8h-0.8zM434.5 507.4h0.8v0.8h-0.8zM428.9 509.7h0.8v0.8h-0.8zM429.9 511.9h0.8v0.8h-0.8zM430.4 507.4h0.8v0.8h-0.8zM433.7 517.7h0.8v0.8h-0.8zM425.2 521.5h0.8v0.8h-0.8zM428.1 506.9h0.8v0.8h-0.8zM430.1 511.9h0.8v0.8h-0.8zM430.7 511.7h0.8v0.8h-0.8zM431.1 517.2h0.8v0.8h-0.8zM429.9 517.2h0.8v0.8h-0.8zM428.3 513.1h0.8v0.8h-0.8zM430.1 521.6h0.8v0.8h-0.8zM428.2 533.7h0.8v0.8h-0.8zM432.8 506.9h0.8v0.8h-0.8zM431.5 515.4h0.8v0.8h-0.8zM429.6 509.8h0.8v0.8h-0.8zM432.7 509.5h0.8v0.8h-0.8zM428.9 510.3h0.8v0.8h-0.8zM433.3 525.9h0.8v0.8h-0.8zM426.2 512.5h0.8v0.8h-0.8zM429.9 512.6h0.8v0.8h-0.8zM428.3 507.5h0.8v0.8h-0.8zM429.6 507.4h0.8v0.8h-0.8zM430.9 534.9h0.8v0.8h-0.8zM428.4 529.0h0.8v0.8h-0.8zM429.9 510.7h0.8v0.8h-0.8zM428.4 508.4h0.8v0.8h-0.8zM429.3 521.5h0.8v0.8h-0.8zM431.1 513.8h0.8v0.8h-0.8zM426.5 515.4h0.8v0.8h-0.8zM432.7 518.2h0.8v0.8h-0.8zM429.0 499.7h0.8v0.8h-0.8zM428.2 520.3h0.8v0.8h-0.8zM427.0 526.6h0.8v0.8h-0.8zM427.9 509.2h0.8v0.8h-0.8zM427.8 515.3h0.8v0.8h-0.8zM431.3 511.6h0.8v0.8h-0.8zM425.2 515.4h0.8v0.8h-0.8zM430.2 528.1h0.8v0.8h-0.8zM426.7 527.7h0.8v0.8h-0.8zM430.6 519.6h0.8v0.8h-0.8zM427.4 509.1h0.8v0.8h-0.8zM427.0 523.3h0.8v0.8h-0.8zM429.6 524.4h0.8v0.8h-0.8zM433.0 516.2h0.8v0.8h-0.8zM429.0 531.1h0.8v0.8h-0.8zM426.3 512.5h0.8v0.8h-0.8zM428.3 513.1h0.8v0.8h-0.8zM429.4 509.4h0.8v0.8h-0.8zM431.6 505.3h0.8v0.8h-0.8zM427.3 502.8h0.8v0.8h-0.8zM426.1 520.6h0.8v0.8h-0.8zM430.5 514.5h0.8v0.8h-0.8zM430.9 520.9h0.8v0.8h-0.8zM427.9 515.7h0.8v0.8h-0.8zM429.9 531.8h0.8v0.8h-0.8zM428.1 518.9h0.8v0.8h-0.8zM430.3 525.6h0.8v0.8h-0.8zM430.0 524.4h0.8v0.8h-0.8zM426.8 514.0h0.8v0.8h-0.8zM424.9 515.6h0.8v0.8h-0.8zM434.1 517.9h0.8v0.8h-0.8zM429.3 518.1h0.8v0.8h-0.8zM429.4 505.7h0.8v0.8h-0.8zM427.6 514.7h0.8v0.8h-0.8zM429.5 509.3h0.8v0.8h-0.8zM428.9 510.3h0.8v0.8h-0.8zM426.2 510.9h0.8v0.8h-0.8zM427.4 522.6h0.8v0.8h-0.8zM432.0 520.6h0.8v0.8h-0.8zM428.6 511.7h0.8v0.8h-0.8zM425.7 511.9h0.8v0.8h-0.8zM432.5 525.1h0.8v0.8h-0.8zM429.6 514.1h0.8v0.8h-0.8zM429.1 519.4h0.8v0.8h-0.8zM429.1 519.4h0.8v0.8h-0.8zM427.4 516.4h0.8v0.8h-0.8zM428.3 524.5h0.8v0.8h-0.8zM426.4 526.2h0.8v0.8h-0.8zM428.9 512.1h0.8v0.8h-0.8zM429.1 517.0h0.8v0.8h-0.8zM428.6 519.4h0.8v0.8h-0.8zM427.9 502.8h0.8v0.8h-0.8zM430.6 515.9h0.8v0.8h-0.8zM432.7 519.1h0.8v0.8h-0.8zM424.8 525.7h0.8v0.8h-0.8zM427.6 520.3h0.8v0.8h-0.8zM433.9 524.6h0.8v0.8h-0.8zM426.7 515.3h0.8v0.8h-0.8zM425.6 521.3h0.8v0.8h-0.8zM430.3 508.1h0.8v0.8h-0.8zM430.1 523.4h0.8v0.8h-0.8zM430.8 510.8h0.8v0.8h-0.8zM427.6 507.3h0.8v0.8h-0.8z" fill="#4a68c8" opacity="0.45"/>
<path d="M423.8 502.9h0.8v0.8h-0.8zM430.3 505.8h0.8v0.8h-0.8zM431.4 501.1h0.8v0.8h-0.8zM423.1 506.5h0.8v0.8h-0.8zM430.9 501.9h0.8v0.8h-0.8zM425.2 499.0h0.8v0.8h-0.8zM433.2 499.2h0.8v0.8h-0.8zM433.0 503.9h0.8v0.8h-0.8zM428.2 497.3h0.8v0.8h-0.8zM432.1 506.1h0.8v0.8h-0.8zM426.1 498.3h0.8v0.8h-0.8zM435.4 502.4h0.8v0.8h-0.8zM427.0 505.6h0.8v0.8h-0.8zM428.7 503.3h0.8v0.8h-0.8zM428.1 499.8h0.8v0.8h-0.8zM431.2 499.5h0.8v0.8h-0.8zM421.4 500.5h0.8v0.8h-0.8zM436.2 505.2h0.8v0.8h-0.8zM440.8 504.9h0.8v0.8h-0.8zM438.0 502.8h0.8v0.8h-0.8zM428.0 503.4h0.8v0.8h-0.8zM425.4 504.2h0.8v0.8h-0.8zM427.9 502.8h0.8v0.8h-0.8zM425.9 501.6h0.8v0.8h-0.8zM434.9 501.4h0.8v0.8h-0.8zM426.8 502.9h0.8v0.8h-0.8zM434.4 501.5h0.8v0.8h-0.8zM424.4 497.5h0.8v0.8h-0.8zM423.5 505.1h0.8v0.8h-0.8zM429.7 503.4h0.8v0.8h-0.8zM435.4 502.9h0.8v0.8h-0.8zM432.5 500.6h0.8v0.8h-0.8zM422.2 503.9h0.8v0.8h-0.8zM429.6 503.7h0.8v0.8h-0.8zM424.9 501.6h0.8v0.8h-0.8zM440.0 499.6h0.8v0.8h-0.8zM430.6 505.8h0.8v0.8h-0.8zM429.0 502.4h0.8v0.8h-0.8zM419.7 504.3h0.8v0.8h-0.8zM427.9 505.8h0.8v0.8h-0.8zM429.7 501.0h0.8v0.8h-0.8zM432.2 501.3h0.8v0.8h-0.8zM427.6 506.5h0.8v0.8h-0.8zM434.9 502.4h0.8v0.8h-0.8zM434.1 504.4h0.8v0.8h-0.8zM432.9 502.2h0.8v0.8h-0.8zM430.5 503.2h0.8v0.8h-0.8zM432.9 503.1h0.8v0.8h-0.8zM427.4 501.8h0.8v0.8h-0.8zM432.3 499.2h0.8v0.8h-0.8zM430.1 504.2h0.8v0.8h-0.8zM430.9 501.2h0.8v0.8h-0.8zM430.0 500.6h0.8v0.8h-0.8zM434.9 501.0h0.8v0.8h-0.8zM421.9 498.6h0.8v0.8h-0.8zM431.6 502.6h0.8v0.8h-0.8zM427.8 498.3h0.8v0.8h-0.8zM429.4 499.6h0.8v0.8h-0.8zM426.9 502.0h0.8v0.8h-0.8zM426.3 502.9h0.8v0.8h-0.8z" fill="#4a68c8" opacity="0.4"/>
<path d="M415.7 530.2h0.8v0.8h-0.8zM418.7 532.0h0.8v0.8h-0.8zM429.3 531.5h0.8v0.8h-0.8zM415.7 530.6h0.8v0.8h-0.8zM425.4 531.4h0.8v0.8h-0.8zM410.4 530.6h0.8v0.8h-0.8zM415.7 531.3h0.8v0.8h-0.8zM423.7 530.1h0.8v0.8h-0.8zM432.6 530.3h0.8v0.8h-0.8zM434.3 530.5h0.8v0.8h-0.8zM419.5 532.4h0.8v0.8h-0.8zM416.9 530.2h0.8v0.8h-0.8zM428.7 530.6h0.8v0.8h-0.8zM422.8 529.4h0.8v0.8h-0.8zM430.5 531.6h0.8v0.8h-0.8zM422.1 531.3h0.8v0.8h-0.8zM417.1 530.2h0.8v0.8h-0.8zM410.8 531.0h0.8v0.8h-0.8zM427.3 531.4h0.8v0.8h-0.8zM425.4 531.3h0.8v0.8h-0.8zM414.6 529.4h0.8v0.8h-0.8zM423.8 530.8h0.8v0.8h-0.8zM425.8 530.4h0.8v0.8h-0.8zM414.8 531.0h0.8v0.8h-0.8zM416.7 529.1h0.8v0.8h-0.8zM416.4 529.8h0.8v0.8h-0.8zM413.5 530.1h0.8v0.8h-0.8zM425.6 532.9h0.8v0.8h-0.8zM430.1 530.2h0.8v0.8h-0.8zM426.7 530.5h0.8v0.8h-0.8zM422.4 530.0h0.8v0.8h-0.8zM419.6 529.0h0.8v0.8h-0.8zM430.5 529.9h0.8v0.8h-0.8zM423.4 530.1h0.8v0.8h-0.8zM421.6 529.5h0.8v0.8h-0.8zM417.8 531.5h0.8v0.8h-0.8zM423.5 528.8h0.8v0.8h-0.8zM425.0 529.4h0.8v0.8h-0.8zM421.7 531.1h0.8v0.8h-0.8zM416.2 530.3h0.8v0.8h-0.8zM418.6 531.0h0.8v0.8h-0.8zM425.4 531.9h0.8v0.8h-0.8zM421.9 532.5h0.8v0.8h-0.8zM414.4 532.3h0.8v0.8h-0.8zM418.5 531.3h0.8v0.8h-0.8zM419.3 530.7h0.8v0.8h-0.8zM414.6 531.0h0.8v0.8h-0.8zM431.9 530.8h0.8v0.8h-0.8zM419.9 530.6h0.8v0.8h-0.8zM424.2 530.4h0.8v0.8h-0.8zM420.0 530.8h0.8v0.8h-0.8zM427.7 531.5h0.8v0.8h-0.8zM413.8 530.0h0.8v0.8h-0.8zM420.1 531.4h0.8v0.8h-0.8zM425.7 530.4h0.8v0.8h-0.8zM432.5 530.5h0.8v0.8h-0.8zM428.3 532.0h0.8v0.8h-0.8zM429.4 530.8h0.8v0.8h-0.8zM423.4 529.2h0.8v0.8h-0.8zM409.5 530.0h0.8v0.8h-0.8z" fill="#5a78cc" opacity="0.4"/>
<g filter="url(#dmap)" fill="#000"><ellipse cx="413.10" cy="502.40" rx="17.00" ry="0.70" fill-opacity="0.24"/><ellipse cx="429.10" cy="502.00" rx="7.00" ry="3.00" fill-opacity="0.2"/><ellipse cx="431.10" cy="501.80" rx="4.00" ry="1.60" fill-opacity="0.28"/><ellipse cx="429.10" cy="516.00" rx="1.60" ry="13.00" fill-opacity="0.06"/><ellipse cx="417.00" cy="530.90" rx="13.00" ry="1.00" fill-opacity="0.25"/><ellipse cx="404.00" cy="530.60" rx="4.00" ry="2.20" fill-opacity="0.5"/><ellipse cx="403.70" cy="530.60" rx="2.70" ry="1.30" fill-opacity="0.55"/><ellipse cx="403.70" cy="530.60" rx="1.90" ry="0.90" fill-opacity="0.6"/></g>
<text x="388.80" y="487.00" font-size="7" text-anchor="start" font-weight="normal" fill="#222" >0.099</text>
<text x="451.60" y="487.00" font-size="7" text-anchor="end" font-weight="normal" fill="#222" >3.46</text>
<text x="388.80" y="543.00" font-size="7" text-anchor="start" font-weight="normal" fill="#222" >95.7</text>
<text x="451.60" y="543.00" font-size="7" text-anchor="end" font-weight="normal" fill="#222" >0.73</text>
<line x1="477.50" y1="479.80" x2="477.50" y2="545.20" stroke="#b4b4b4" stroke-width="1" />
<line x1="453.60" y1="525.80" x2="519.40" y2="525.80" stroke="#b4b4b4" stroke-width="1" />
<path d="M498.6 512.6h0.8v0.8h-0.8zM495.7 512.5h0.8v0.8h-0.8zM498.1 514.8h0.8v0.8h-0.8zM490.6 503.6h0.8v0.8h-0.8zM492.8 502.6h0.8v0.8h-0.8zM501.7 503.2h0.8v0.8h-0.8zM493.3 505.7h0.8v0.8h-0.8zM499.1 505.4h0.8v0.8h-0.8zM498.6 510.2h0.8v0.8h-0.8zM493.9 496.4h0.8v0.8h-0.8zM493.0 501.7h0.8v0.8h-0.8zM501.7 504.2h0.8v0.8h-0.8zM492.4 509.4h0.8v0.8h-0.8zM496.3 503.1h0.8v0.8h-0.8zM499.9 511.9h0.8v0.8h-0.8zM497.1 504.0h0.8v0.8h-0.8zM493.1 497.8h0.8v0.8h-0.8zM497.4 509.4h0.8v0.8h-0.8zM492.9 507.7h0.8v0.8h-0.8zM507.3 502.2h0.8v0.8h-0.8zM490.2 510.5h0.8v0.8h-0.8zM494.6 505.2h0.8v0.8h-0.8zM498.2 507.0h0.8v0.8h-0.8zM499.5 510.0h0.8v0.8h-0.8zM500.1 508.1h0.8v0.8h-0.8zM488.7 514.0h0.8v0.8h-0.8zM490.3 512.5h0.8v0.8h-0.8zM497.0 501.0h0.8v0.8h-0.8zM496.3 511.8h0.8v0.8h-0.8zM492.6 507.8h0.8v0.8h-0.8z" fill="#7090d8" opacity="0.3"/>
<path d="M496.2 499.1h0.8v0.8h-0.8zM496.7 504.6h0.8v0.8h-0.8zM501.8 501.5h0.8v0.8h-0.8zM498.8 501.8h0.8v0.8h-0.8zM500.2 502.0h0.8v0.8h-0.8zM492.4 503.7h0.8v0.8h-0.8zM495.7 495.3h0.8v0.8h-0.8zM501.9 498.7h0.8v0.8h-0.8zM498.5 501.3h0.8v0.8h-0.8zM496.8 502.8h0.8v0.8h-0.8zM498.0 500.9h0.8v0.8h-0.8zM495.4 500.9h0.8v0.8h-0.8zM495.0 501.6h0.8v0.8h-0.8zM504.3 503.9h0.8v0.8h-0.8zM500.8 498.3h0.8v0.8h-0.8zM503.1 503.7h0.8v0.8h-0.8zM507.2 496.2h0.8v0.8h-0.8zM499.2 500.7h0.8v0.8h-0.8zM503.4 498.9h0.8v0.8h-0.8zM497.6 507.0h0.8v0.8h-0.8zM503.0 496.8h0.8v0.8h-0.8zM499.2 504.8h0.8v0.8h-0.8zM496.7 502.9h0.8v0.8h-0.8zM499.5 498.0h0.8v0.8h-0.8zM496.6 504.2h0.8v0.8h-0.8zM503.8 500.1h0.8v0.8h-0.8zM503.5 499.8h0.8v0.8h-0.8zM500.1 501.5h0.8v0.8h-0.8zM494.2 502.3h0.8v0.8h-0.8zM497.6 495.0h0.8v0.8h-0.8zM495.8 499.5h0.8v0.8h-0.8zM495.8 499.2h0.8v0.8h-0.8zM496.4 495.7h0.8v0.8h-0.8zM502.6 501.7h0.8v0.8h-0.8zM500.1 500.9h0.8v0.8h-0.8zM499.4 500.9h0.8v0.8h-0.8zM494.8 497.9h0.8v0.8h-0.8zM499.4 503.9h0.8v0.8h-0.8zM500.0 505.4h0.8v0.8h-0.8zM493.7 500.9h0.8v0.8h-0.8z" fill="#4a68c8" opacity="0.35"/>
<path d="M482.2 531.3h0.8v0.8h-0.8zM495.8 530.3h0.8v0.8h-0.8zM490.1 530.5h0.8v0.8h-0.8zM479.9 530.5h0.8v0.8h-0.8zM479.7 531.5h0.8v0.8h-0.8zM489.3 531.3h0.8v0.8h-0.8zM487.9 529.2h0.8v0.8h-0.8zM490.5 530.7h0.8v0.8h-0.8zM471.7 530.7h0.8v0.8h-0.8zM491.8 531.6h0.8v0.8h-0.8zM479.8 531.1h0.8v0.8h-0.8zM487.8 530.5h0.8v0.8h-0.8zM484.1 530.9h0.8v0.8h-0.8zM489.2 531.0h0.8v0.8h-0.8zM483.4 529.8h0.8v0.8h-0.8zM493.6 531.3h0.8v0.8h-0.8zM482.5 530.6h0.8v0.8h-0.8zM490.6 529.6h0.8v0.8h-0.8zM488.7 532.0h0.8v0.8h-0.8zM487.4 530.2h0.8v0.8h-0.8zM497.9 530.6h0.8v0.8h-0.8zM487.1 530.4h0.8v0.8h-0.8zM486.9 529.6h0.8v0.8h-0.8zM478.2 529.8h0.8v0.8h-0.8zM491.1 530.5h0.8v0.8h-0.8z" fill="#8098d8" opacity="0.3"/>
<g filter="url(#dmap)" fill="#000"><ellipse cx="499.10" cy="501.50" rx="6.00" ry="2.40" fill-opacity="0.18"/><ellipse cx="499.60" cy="501.50" rx="3.50" ry="1.30" fill-opacity="0.28"/><ellipse cx="472.80" cy="531.00" rx="5.00" ry="0.80" fill-opacity="0.3"/><ellipse cx="469.80" cy="530.60" rx="3.00" ry="1.70" fill-opacity="0.5"/><ellipse cx="469.60" cy="530.60" rx="1.90" ry="1.00" fill-opacity="0.55"/><ellipse cx="469.60" cy="530.60" rx="1.20" ry="0.70" fill-opacity="0.5"/></g>
<text x="454.80" y="487.00" font-size="7" text-anchor="start" font-weight="normal" fill="#222" >0.08</text>
<text x="518.40" y="487.00" font-size="7" text-anchor="end" font-weight="normal" fill="#222" >10.1</text>
<text x="454.80" y="543.00" font-size="7" text-anchor="start" font-weight="normal" fill="#222" >89</text>
<text x="518.40" y="543.00" font-size="7" text-anchor="end" font-weight="normal" fill="#222" >0.82</text>
<text x="248.90" y="488.50" font-size="6.9" text-anchor="end" fill="#333">10<tspan font-size="4.9" dy="-3.5">5</tspan></text>
<text x="248.90" y="503.10" font-size="6.9" text-anchor="end" fill="#333">10<tspan font-size="4.9" dy="-3.5">4</tspan></text>
<text x="248.90" y="521.00" font-size="6.9" text-anchor="end" fill="#333">10<tspan font-size="4.9" dy="-3.5">3</tspan></text>
<text x="248.50" y="533.80" font-size="6.9" text-anchor="end" font-weight="normal" fill="#333" >0</text>
<rect x="250.1" y="530.9" width="1.4" height="1.3" fill="#222"/>
<line x1="280.50" y1="547.80" x2="280.50" y2="611.40" stroke="#b4b4b4" stroke-width="1" />
<line x1="251.50" y1="591.60" x2="317.20" y2="591.60" stroke="#b4b4b4" stroke-width="1" />
<path d="M296.8 569.7h0.8v0.8h-0.8zM289.5 588.1h0.8v0.8h-0.8zM288.7 570.6h0.8v0.8h-0.8zM288.9 578.6h0.8v0.8h-0.8zM291.9 587.3h0.8v0.8h-0.8zM297.5 588.6h0.8v0.8h-0.8zM294.4 577.8h0.8v0.8h-0.8zM290.0 572.6h0.8v0.8h-0.8zM297.3 587.0h0.8v0.8h-0.8zM292.4 575.7h0.8v0.8h-0.8zM294.8 583.0h0.8v0.8h-0.8zM292.6 574.3h0.8v0.8h-0.8zM293.0 577.4h0.8v0.8h-0.8zM295.1 583.6h0.8v0.8h-0.8zM293.8 578.2h0.8v0.8h-0.8zM298.3 584.5h0.8v0.8h-0.8zM297.2 584.8h0.8v0.8h-0.8zM294.7 582.5h0.8v0.8h-0.8zM287.6 570.8h0.8v0.8h-0.8zM288.1 583.6h0.8v0.8h-0.8zM295.8 581.4h0.8v0.8h-0.8zM292.4 590.1h0.8v0.8h-0.8zM290.4 571.0h0.8v0.8h-0.8zM285.6 578.7h0.8v0.8h-0.8zM294.9 584.3h0.8v0.8h-0.8zM291.1 584.7h0.8v0.8h-0.8zM291.8 576.6h0.8v0.8h-0.8zM290.4 584.4h0.8v0.8h-0.8zM295.9 574.5h0.8v0.8h-0.8zM287.9 581.1h0.8v0.8h-0.8zM300.8 574.2h0.8v0.8h-0.8zM286.8 582.6h0.8v0.8h-0.8zM294.1 577.2h0.8v0.8h-0.8zM291.9 583.0h0.8v0.8h-0.8zM284.8 580.3h0.8v0.8h-0.8zM294.5 585.3h0.8v0.8h-0.8zM296.8 580.0h0.8v0.8h-0.8zM286.1 587.5h0.8v0.8h-0.8zM295.2 577.0h0.8v0.8h-0.8zM296.3 585.9h0.8v0.8h-0.8zM291.4 568.0h0.8v0.8h-0.8zM290.1 576.4h0.8v0.8h-0.8zM288.6 580.0h0.8v0.8h-0.8zM287.5 582.5h0.8v0.8h-0.8zM299.8 574.1h0.8v0.8h-0.8zM296.3 577.6h0.8v0.8h-0.8zM294.2 579.7h0.8v0.8h-0.8zM297.3 576.7h0.8v0.8h-0.8zM295.0 576.3h0.8v0.8h-0.8zM292.9 580.3h0.8v0.8h-0.8zM296.5 572.1h0.8v0.8h-0.8zM286.4 587.7h0.8v0.8h-0.8zM293.6 589.4h0.8v0.8h-0.8zM287.8 581.5h0.8v0.8h-0.8zM294.5 589.7h0.8v0.8h-0.8zM291.8 578.0h0.8v0.8h-0.8zM294.9 579.9h0.8v0.8h-0.8zM288.9 584.4h0.8v0.8h-0.8zM284.2 575.1h0.8v0.8h-0.8zM297.6 577.8h0.8v0.8h-0.8zM290.7 582.4h0.8v0.8h-0.8zM296.6 583.2h0.8v0.8h-0.8zM288.0 577.4h0.8v0.8h-0.8zM296.3 579.8h0.8v0.8h-0.8zM289.4 585.0h0.8v0.8h-0.8zM296.7 591.9h0.8v0.8h-0.8zM287.6 576.7h0.8v0.8h-0.8zM289.2 582.3h0.8v0.8h-0.8zM290.0 586.3h0.8v0.8h-0.8zM281.0 585.5h0.8v0.8h-0.8zM289.4 579.0h0.8v0.8h-0.8zM294.3 581.5h0.8v0.8h-0.8zM287.8 588.3h0.8v0.8h-0.8zM294.4 577.8h0.8v0.8h-0.8zM292.9 574.6h0.8v0.8h-0.8zM287.0 578.8h0.8v0.8h-0.8zM293.5 580.9h0.8v0.8h-0.8zM288.8 573.1h0.8v0.8h-0.8zM285.1 588.8h0.8v0.8h-0.8zM293.5 576.2h0.8v0.8h-0.8zM296.9 583.3h0.8v0.8h-0.8zM290.3 577.2h0.8v0.8h-0.8zM296.7 582.1h0.8v0.8h-0.8zM298.7 582.3h0.8v0.8h-0.8zM289.6 577.2h0.8v0.8h-0.8zM289.1 581.7h0.8v0.8h-0.8zM293.0 583.6h0.8v0.8h-0.8zM293.9 574.9h0.8v0.8h-0.8zM291.2 575.4h0.8v0.8h-0.8zM294.0 573.5h0.8v0.8h-0.8z" fill="#7088d4" opacity="0.38"/>
<path d="M276.6 597.9h0.8v0.8h-0.8zM276.5 598.4h0.8v0.8h-0.8zM283.8 598.4h0.8v0.8h-0.8zM273.7 598.3h0.8v0.8h-0.8zM281.2 599.1h0.8v0.8h-0.8zM279.4 600.3h0.8v0.8h-0.8zM282.4 598.7h0.8v0.8h-0.8zM282.7 597.4h0.8v0.8h-0.8zM278.0 597.9h0.8v0.8h-0.8zM279.2 600.0h0.8v0.8h-0.8zM276.9 600.0h0.8v0.8h-0.8zM275.1 599.8h0.8v0.8h-0.8zM272.8 597.9h0.8v0.8h-0.8zM282.0 598.5h0.8v0.8h-0.8zM279.1 598.6h0.8v0.8h-0.8zM279.2 598.4h0.8v0.8h-0.8zM275.3 598.3h0.8v0.8h-0.8zM279.0 597.8h0.8v0.8h-0.8zM280.2 600.1h0.8v0.8h-0.8zM273.0 598.1h0.8v0.8h-0.8zM277.6 598.6h0.8v0.8h-0.8zM278.9 598.0h0.8v0.8h-0.8zM278.5 598.6h0.8v0.8h-0.8zM278.3 599.9h0.8v0.8h-0.8zM279.0 597.3h0.8v0.8h-0.8zM273.3 599.1h0.8v0.8h-0.8zM277.4 598.1h0.8v0.8h-0.8zM274.0 598.3h0.8v0.8h-0.8zM278.3 598.0h0.8v0.8h-0.8zM277.4 599.4h0.8v0.8h-0.8z" fill="#7090d8" opacity="0.35"/>
<path d="M265.5 570.2h0.8v0.8h-0.8zM278.5 570.5h0.8v0.8h-0.8zM267.0 570.6h0.8v0.8h-0.8zM265.9 570.7h0.8v0.8h-0.8zM266.5 570.0h0.8v0.8h-0.8zM268.7 570.4h0.8v0.8h-0.8zM269.0 570.8h0.8v0.8h-0.8zM282.7 570.2h0.8v0.8h-0.8zM278.9 570.6h0.8v0.8h-0.8zM275.0 570.2h0.8v0.8h-0.8zM283.0 570.9h0.8v0.8h-0.8zM263.8 570.2h0.8v0.8h-0.8zM270.1 570.1h0.8v0.8h-0.8zM272.3 570.8h0.8v0.8h-0.8zM264.0 570.7h0.8v0.8h-0.8z" fill="#90a0d8" opacity="0.35"/>
<g filter="url(#dmap)" fill="#000"><ellipse cx="293.00" cy="570.40" rx="9.00" ry="1.40" fill-opacity="0.2"/><ellipse cx="295.50" cy="570.20" rx="5.50" ry="0.90" fill-opacity="0.28"/><ellipse cx="297.00" cy="570.10" rx="2.80" ry="0.70" fill-opacity="0.3"/><ellipse cx="275.60" cy="599.20" rx="9.00" ry="1.00" fill-opacity="0.28"/><ellipse cx="269.60" cy="598.60" rx="3.90" ry="2.10" fill-opacity="0.5"/><ellipse cx="269.30" cy="598.60" rx="2.60" ry="1.30" fill-opacity="0.55"/><ellipse cx="269.30" cy="598.60" rx="1.80" ry="0.90" fill-opacity="0.6"/><ellipse cx="267.00" cy="594.10" rx="0.70" ry="4.50" fill-opacity="0.3"/></g>
<text x="252.70" y="555.00" font-size="7" text-anchor="start" font-weight="normal" fill="#222" >0.2</text>
<text x="316.20" y="555.00" font-size="7" text-anchor="end" font-weight="normal" fill="#222" >1.86</text>
<text x="252.70" y="609.20" font-size="7" text-anchor="start" font-weight="normal" fill="#222" >97.5</text>
<text x="316.20" y="609.20" font-size="7" text-anchor="end" font-weight="normal" fill="#222" >0.41</text>
<line x1="347.50" y1="547.80" x2="347.50" y2="611.40" stroke="#b4b4b4" stroke-width="1" />
<line x1="318.00" y1="591.60" x2="384.00" y2="591.60" stroke="#b4b4b4" stroke-width="1" />
<path d="M357.8 581.3h0.8v0.8h-0.8zM359.9 577.6h0.8v0.8h-0.8zM358.4 583.3h0.8v0.8h-0.8zM357.0 582.6h0.8v0.8h-0.8zM359.0 584.5h0.8v0.8h-0.8zM355.1 577.3h0.8v0.8h-0.8zM356.8 587.3h0.8v0.8h-0.8zM358.7 570.9h0.8v0.8h-0.8zM354.3 591.6h0.8v0.8h-0.8zM359.0 573.0h0.8v0.8h-0.8zM355.3 581.2h0.8v0.8h-0.8zM362.2 589.7h0.8v0.8h-0.8zM356.9 578.7h0.8v0.8h-0.8zM363.6 574.7h0.8v0.8h-0.8zM362.6 582.4h0.8v0.8h-0.8zM358.3 587.8h0.8v0.8h-0.8zM359.4 575.6h0.8v0.8h-0.8zM353.6 580.5h0.8v0.8h-0.8zM359.5 588.3h0.8v0.8h-0.8zM350.4 588.1h0.8v0.8h-0.8zM359.8 589.1h0.8v0.8h-0.8zM360.3 581.6h0.8v0.8h-0.8zM359.3 582.7h0.8v0.8h-0.8zM356.2 579.7h0.8v0.8h-0.8zM358.4 577.8h0.8v0.8h-0.8zM353.7 572.1h0.8v0.8h-0.8zM359.5 583.4h0.8v0.8h-0.8zM358.3 573.7h0.8v0.8h-0.8zM360.5 578.1h0.8v0.8h-0.8zM352.0 589.4h0.8v0.8h-0.8zM353.7 593.4h0.8v0.8h-0.8zM359.6 577.9h0.8v0.8h-0.8zM351.2 576.3h0.8v0.8h-0.8zM362.3 588.2h0.8v0.8h-0.8zM358.8 570.5h0.8v0.8h-0.8zM356.9 578.8h0.8v0.8h-0.8zM359.3 579.7h0.8v0.8h-0.8zM359.0 571.0h0.8v0.8h-0.8zM356.1 588.7h0.8v0.8h-0.8zM353.8 585.7h0.8v0.8h-0.8zM364.7 584.2h0.8v0.8h-0.8zM354.0 587.6h0.8v0.8h-0.8zM352.6 582.3h0.8v0.8h-0.8zM356.8 587.5h0.8v0.8h-0.8zM361.4 581.5h0.8v0.8h-0.8zM363.2 586.1h0.8v0.8h-0.8zM356.6 574.7h0.8v0.8h-0.8zM365.2 578.1h0.8v0.8h-0.8zM359.2 579.7h0.8v0.8h-0.8zM356.6 571.1h0.8v0.8h-0.8zM357.6 579.7h0.8v0.8h-0.8zM360.9 577.4h0.8v0.8h-0.8zM353.4 574.2h0.8v0.8h-0.8zM357.9 581.8h0.8v0.8h-0.8zM360.1 578.2h0.8v0.8h-0.8zM359.6 581.2h0.8v0.8h-0.8zM362.9 580.1h0.8v0.8h-0.8zM358.4 583.7h0.8v0.8h-0.8zM361.6 575.1h0.8v0.8h-0.8zM356.6 578.8h0.8v0.8h-0.8zM351.8 587.9h0.8v0.8h-0.8zM361.1 580.5h0.8v0.8h-0.8zM367.8 587.7h0.8v0.8h-0.8zM363.9 589.5h0.8v0.8h-0.8zM360.6 572.2h0.8v0.8h-0.8zM362.5 582.8h0.8v0.8h-0.8zM354.5 580.7h0.8v0.8h-0.8zM360.2 586.1h0.8v0.8h-0.8zM358.5 577.4h0.8v0.8h-0.8zM360.2 576.0h0.8v0.8h-0.8z" fill="#7088d4" opacity="0.38"/>
<path d="M343.8 599.1h0.8v0.8h-0.8zM339.8 598.9h0.8v0.8h-0.8zM338.3 598.0h0.8v0.8h-0.8zM340.4 598.5h0.8v0.8h-0.8zM346.1 598.6h0.8v0.8h-0.8zM346.7 598.7h0.8v0.8h-0.8zM343.4 598.9h0.8v0.8h-0.8zM343.3 598.7h0.8v0.8h-0.8zM347.0 598.2h0.8v0.8h-0.8zM347.4 597.9h0.8v0.8h-0.8zM343.4 597.4h0.8v0.8h-0.8zM342.5 599.7h0.8v0.8h-0.8zM345.0 599.5h0.8v0.8h-0.8zM339.7 597.9h0.8v0.8h-0.8zM345.4 599.2h0.8v0.8h-0.8z" fill="#7090d8" opacity="0.35"/>
<g filter="url(#dmap)" fill="#000"><ellipse cx="354.00" cy="570.60" rx="10.00" ry="0.80" fill-opacity="0.2"/><ellipse cx="361.50" cy="570.40" rx="6.00" ry="1.30" fill-opacity="0.25"/><ellipse cx="363.00" cy="570.40" rx="3.50" ry="0.90" fill-opacity="0.3"/><ellipse cx="339.00" cy="599.10" rx="6.00" ry="1.10" fill-opacity="0.3"/><ellipse cx="335.00" cy="598.60" rx="3.70" ry="2.10" fill-opacity="0.5"/><ellipse cx="334.70" cy="598.60" rx="2.50" ry="1.30" fill-opacity="0.55"/><ellipse cx="334.70" cy="598.60" rx="1.70" ry="0.90" fill-opacity="0.6"/></g>
<text x="319.20" y="555.00" font-size="7" text-anchor="start" font-weight="normal" fill="#222" >0.2</text>
<text x="383.00" y="555.00" font-size="7" text-anchor="end" font-weight="normal" fill="#222" >6.25</text>
<text x="319.20" y="609.20" font-size="7" text-anchor="start" font-weight="normal" fill="#222" >93.2</text>
<text x="383.00" y="609.20" font-size="7" text-anchor="end" font-weight="normal" fill="#222" >0.41</text>
<line x1="410.80" y1="547.80" x2="410.80" y2="611.40" stroke="#b4b4b4" stroke-width="1" />
<line x1="387.60" y1="593.80" x2="452.60" y2="593.80" stroke="#b4b4b4" stroke-width="1" />
<path d="M423.7 570.5h0.8v0.8h-0.8zM429.3 569.3h0.8v0.8h-0.8zM401.3 569.3h0.8v0.8h-0.8zM420.0 570.4h0.8v0.8h-0.8zM417.3 570.5h0.8v0.8h-0.8zM412.4 570.1h0.8v0.8h-0.8zM427.2 570.3h0.8v0.8h-0.8zM417.5 570.2h0.8v0.8h-0.8zM411.6 570.5h0.8v0.8h-0.8zM414.5 569.3h0.8v0.8h-0.8zM409.1 569.9h0.8v0.8h-0.8zM409.4 570.1h0.8v0.8h-0.8zM406.8 569.8h0.8v0.8h-0.8zM409.2 569.8h0.8v0.8h-0.8zM429.1 569.3h0.8v0.8h-0.8zM394.2 570.4h0.8v0.8h-0.8zM408.0 569.9h0.8v0.8h-0.8zM415.2 569.8h0.8v0.8h-0.8zM402.3 569.1h0.8v0.8h-0.8zM425.5 570.8h0.8v0.8h-0.8zM404.0 569.9h0.8v0.8h-0.8zM405.4 569.2h0.8v0.8h-0.8zM426.2 570.6h0.8v0.8h-0.8zM402.4 569.6h0.8v0.8h-0.8zM419.1 570.5h0.8v0.8h-0.8zM410.7 569.8h0.8v0.8h-0.8zM402.1 570.5h0.8v0.8h-0.8zM425.1 570.6h0.8v0.8h-0.8zM397.8 570.2h0.8v0.8h-0.8zM429.6 570.4h0.8v0.8h-0.8zM410.4 569.4h0.8v0.8h-0.8zM395.8 570.4h0.8v0.8h-0.8zM396.1 570.6h0.8v0.8h-0.8zM417.9 570.0h0.8v0.8h-0.8zM426.1 570.8h0.8v0.8h-0.8zM416.1 569.3h0.8v0.8h-0.8zM415.1 569.9h0.8v0.8h-0.8zM402.7 570.8h0.8v0.8h-0.8zM420.3 569.3h0.8v0.8h-0.8zM402.0 569.7h0.8v0.8h-0.8zM414.5 569.7h0.8v0.8h-0.8zM409.6 570.6h0.8v0.8h-0.8zM400.2 570.4h0.8v0.8h-0.8zM405.7 570.8h0.8v0.8h-0.8zM428.3 569.7h0.8v0.8h-0.8zM415.7 569.3h0.8v0.8h-0.8zM408.6 570.2h0.8v0.8h-0.8zM416.9 569.7h0.8v0.8h-0.8zM394.8 569.3h0.8v0.8h-0.8zM414.1 569.4h0.8v0.8h-0.8zM404.8 570.2h0.8v0.8h-0.8zM426.5 570.0h0.8v0.8h-0.8zM402.9 570.2h0.8v0.8h-0.8zM403.7 570.5h0.8v0.8h-0.8zM399.3 569.6h0.8v0.8h-0.8zM409.6 570.7h0.8v0.8h-0.8zM399.6 569.4h0.8v0.8h-0.8zM398.4 569.5h0.8v0.8h-0.8zM405.7 569.8h0.8v0.8h-0.8zM421.3 569.8h0.8v0.8h-0.8z" fill="#4a66c4" opacity="0.45"/>
<path d="M425.6 581.8h0.8v0.8h-0.8zM431.6 594.2h0.8v0.8h-0.8zM424.6 594.7h0.8v0.8h-0.8zM421.1 596.1h0.8v0.8h-0.8zM426.6 588.8h0.8v0.8h-0.8zM423.7 578.7h0.8v0.8h-0.8zM418.8 593.8h0.8v0.8h-0.8zM423.3 589.2h0.8v0.8h-0.8zM425.3 585.0h0.8v0.8h-0.8zM420.2 576.4h0.8v0.8h-0.8zM422.8 588.8h0.8v0.8h-0.8zM427.0 572.1h0.8v0.8h-0.8zM430.3 582.7h0.8v0.8h-0.8zM417.5 578.4h0.8v0.8h-0.8zM420.3 592.2h0.8v0.8h-0.8zM427.1 580.0h0.8v0.8h-0.8zM421.1 579.2h0.8v0.8h-0.8zM421.7 580.5h0.8v0.8h-0.8zM431.9 591.4h0.8v0.8h-0.8zM430.1 593.8h0.8v0.8h-0.8zM429.2 574.8h0.8v0.8h-0.8zM417.0 576.0h0.8v0.8h-0.8zM421.3 585.0h0.8v0.8h-0.8zM432.5 586.4h0.8v0.8h-0.8zM424.7 578.0h0.8v0.8h-0.8zM435.7 590.5h0.8v0.8h-0.8zM422.9 573.1h0.8v0.8h-0.8zM435.7 578.3h0.8v0.8h-0.8zM433.1 574.9h0.8v0.8h-0.8zM429.2 580.8h0.8v0.8h-0.8zM433.9 579.3h0.8v0.8h-0.8zM418.1 576.9h0.8v0.8h-0.8zM432.2 596.1h0.8v0.8h-0.8zM429.0 588.8h0.8v0.8h-0.8zM421.7 578.7h0.8v0.8h-0.8zM417.8 596.2h0.8v0.8h-0.8zM417.0 587.1h0.8v0.8h-0.8zM423.1 576.6h0.8v0.8h-0.8zM424.8 594.9h0.8v0.8h-0.8zM421.1 576.0h0.8v0.8h-0.8zM428.7 588.2h0.8v0.8h-0.8zM426.3 576.4h0.8v0.8h-0.8zM433.6 574.7h0.8v0.8h-0.8zM419.6 577.9h0.8v0.8h-0.8zM426.4 583.7h0.8v0.8h-0.8zM427.2 589.9h0.8v0.8h-0.8zM434.0 583.5h0.8v0.8h-0.8zM416.9 592.4h0.8v0.8h-0.8zM416.5 579.8h0.8v0.8h-0.8zM419.0 586.8h0.8v0.8h-0.8zM431.7 575.2h0.8v0.8h-0.8zM422.0 592.9h0.8v0.8h-0.8zM429.9 574.7h0.8v0.8h-0.8zM429.8 591.5h0.8v0.8h-0.8zM424.3 575.8h0.8v0.8h-0.8zM429.3 579.9h0.8v0.8h-0.8zM418.8 576.1h0.8v0.8h-0.8zM424.1 575.1h0.8v0.8h-0.8zM423.8 585.6h0.8v0.8h-0.8zM427.1 581.9h0.8v0.8h-0.8zM432.1 574.2h0.8v0.8h-0.8zM422.7 595.0h0.8v0.8h-0.8zM433.4 594.7h0.8v0.8h-0.8zM431.4 585.2h0.8v0.8h-0.8zM431.9 586.1h0.8v0.8h-0.8zM418.5 578.3h0.8v0.8h-0.8zM418.0 593.5h0.8v0.8h-0.8zM422.5 582.0h0.8v0.8h-0.8zM426.9 574.5h0.8v0.8h-0.8zM430.2 591.6h0.8v0.8h-0.8zM432.0 593.7h0.8v0.8h-0.8zM422.4 575.6h0.8v0.8h-0.8zM431.3 589.1h0.8v0.8h-0.8zM423.5 580.4h0.8v0.8h-0.8zM419.2 592.5h0.8v0.8h-0.8zM425.3 592.0h0.8v0.8h-0.8zM422.9 579.9h0.8v0.8h-0.8zM426.4 590.3h0.8v0.8h-0.8zM433.8 580.7h0.8v0.8h-0.8zM430.0 581.9h0.8v0.8h-0.8zM433.3 590.7h0.8v0.8h-0.8zM427.2 580.9h0.8v0.8h-0.8zM421.6 593.8h0.8v0.8h-0.8zM432.1 579.5h0.8v0.8h-0.8zM417.8 576.8h0.8v0.8h-0.8zM435.4 573.0h0.8v0.8h-0.8zM432.3 585.0h0.8v0.8h-0.8zM427.2 585.3h0.8v0.8h-0.8zM424.3 585.7h0.8v0.8h-0.8zM417.9 594.6h0.8v0.8h-0.8zM418.2 575.4h0.8v0.8h-0.8zM429.6 587.8h0.8v0.8h-0.8zM432.2 589.0h0.8v0.8h-0.8zM434.7 573.3h0.8v0.8h-0.8zM416.3 577.8h0.8v0.8h-0.8zM431.7 575.8h0.8v0.8h-0.8zM426.7 591.0h0.8v0.8h-0.8zM419.2 585.0h0.8v0.8h-0.8zM434.1 590.4h0.8v0.8h-0.8zM424.1 583.8h0.8v0.8h-0.8zM421.7 595.6h0.8v0.8h-0.8zM431.8 588.7h0.8v0.8h-0.8zM422.2 590.0h0.8v0.8h-0.8zM425.8 591.6h0.8v0.8h-0.8zM423.4 593.7h0.8v0.8h-0.8zM429.8 583.1h0.8v0.8h-0.8zM427.4 591.8h0.8v0.8h-0.8zM426.7 595.6h0.8v0.8h-0.8zM416.2 594.1h0.8v0.8h-0.8zM430.4 584.0h0.8v0.8h-0.8z" fill="#8a9ad8" opacity="0.35"/>
<path d="M429.8 580.3h0.8v0.8h-0.8zM427.3 594.8h0.8v0.8h-0.8zM430.0 577.1h0.8v0.8h-0.8zM432.3 583.6h0.8v0.8h-0.8zM430.2 585.2h0.8v0.8h-0.8zM431.6 588.8h0.8v0.8h-0.8zM428.4 589.6h0.8v0.8h-0.8zM428.3 585.0h0.8v0.8h-0.8zM432.6 575.7h0.8v0.8h-0.8zM426.9 580.9h0.8v0.8h-0.8zM428.0 594.1h0.8v0.8h-0.8zM425.7 601.9h0.8v0.8h-0.8zM432.5 580.5h0.8v0.8h-0.8zM429.5 581.2h0.8v0.8h-0.8zM430.5 589.2h0.8v0.8h-0.8zM430.7 590.0h0.8v0.8h-0.8zM433.3 582.7h0.8v0.8h-0.8zM430.6 582.5h0.8v0.8h-0.8zM429.2 585.7h0.8v0.8h-0.8zM429.0 586.7h0.8v0.8h-0.8zM427.3 582.8h0.8v0.8h-0.8zM427.8 574.9h0.8v0.8h-0.8zM427.6 580.1h0.8v0.8h-0.8zM428.8 571.8h0.8v0.8h-0.8zM428.5 575.2h0.8v0.8h-0.8zM427.3 585.5h0.8v0.8h-0.8zM431.5 586.2h0.8v0.8h-0.8zM428.0 580.6h0.8v0.8h-0.8zM432.0 571.3h0.8v0.8h-0.8zM431.6 572.3h0.8v0.8h-0.8zM427.7 584.4h0.8v0.8h-0.8zM428.6 597.0h0.8v0.8h-0.8zM430.2 583.6h0.8v0.8h-0.8zM431.2 584.3h0.8v0.8h-0.8zM427.4 592.8h0.8v0.8h-0.8zM432.3 594.0h0.8v0.8h-0.8zM426.6 598.9h0.8v0.8h-0.8zM428.2 590.0h0.8v0.8h-0.8zM431.7 602.6h0.8v0.8h-0.8zM425.6 576.0h0.8v0.8h-0.8zM431.6 587.9h0.8v0.8h-0.8zM428.4 561.2h0.8v0.8h-0.8zM430.0 582.5h0.8v0.8h-0.8zM423.5 604.9h0.8v0.8h-0.8zM423.7 579.6h0.8v0.8h-0.8zM429.1 585.8h0.8v0.8h-0.8zM430.7 581.9h0.8v0.8h-0.8zM427.2 581.2h0.8v0.8h-0.8zM424.6 575.3h0.8v0.8h-0.8zM433.4 578.6h0.8v0.8h-0.8zM428.9 598.8h0.8v0.8h-0.8zM431.4 585.0h0.8v0.8h-0.8zM430.7 581.9h0.8v0.8h-0.8zM427.1 591.8h0.8v0.8h-0.8zM429.4 596.5h0.8v0.8h-0.8zM428.5 581.1h0.8v0.8h-0.8zM429.8 582.5h0.8v0.8h-0.8zM428.4 577.0h0.8v0.8h-0.8zM429.6 586.5h0.8v0.8h-0.8zM433.0 583.8h0.8v0.8h-0.8zM425.3 587.6h0.8v0.8h-0.8zM434.0 580.6h0.8v0.8h-0.8zM427.4 582.7h0.8v0.8h-0.8zM422.9 581.4h0.8v0.8h-0.8zM428.7 572.2h0.8v0.8h-0.8zM430.3 577.2h0.8v0.8h-0.8zM425.1 578.4h0.8v0.8h-0.8zM430.5 599.0h0.8v0.8h-0.8zM431.8 585.5h0.8v0.8h-0.8zM428.0 582.0h0.8v0.8h-0.8zM431.2 579.9h0.8v0.8h-0.8zM430.0 591.6h0.8v0.8h-0.8zM427.1 579.4h0.8v0.8h-0.8zM430.1 584.1h0.8v0.8h-0.8zM428.8 579.9h0.8v0.8h-0.8zM429.0 598.5h0.8v0.8h-0.8zM432.0 571.4h0.8v0.8h-0.8zM429.2 584.7h0.8v0.8h-0.8zM429.2 573.2h0.8v0.8h-0.8zM428.8 585.2h0.8v0.8h-0.8zM427.6 586.5h0.8v0.8h-0.8zM423.8 572.2h0.8v0.8h-0.8zM429.3 587.1h0.8v0.8h-0.8zM428.7 580.4h0.8v0.8h-0.8zM429.5 592.5h0.8v0.8h-0.8zM431.0 583.4h0.8v0.8h-0.8zM428.1 592.3h0.8v0.8h-0.8zM430.3 590.9h0.8v0.8h-0.8zM428.5 577.3h0.8v0.8h-0.8zM429.5 579.1h0.8v0.8h-0.8zM431.6 590.7h0.8v0.8h-0.8zM424.4 589.2h0.8v0.8h-0.8zM432.0 592.1h0.8v0.8h-0.8zM428.1 577.3h0.8v0.8h-0.8zM431.2 591.9h0.8v0.8h-0.8zM429.2 575.0h0.8v0.8h-0.8zM425.8 586.1h0.8v0.8h-0.8zM427.3 578.7h0.8v0.8h-0.8zM430.1 592.2h0.8v0.8h-0.8zM424.6 578.8h0.8v0.8h-0.8zM431.9 583.7h0.8v0.8h-0.8zM428.4 589.0h0.8v0.8h-0.8zM426.6 574.4h0.8v0.8h-0.8zM429.1 596.2h0.8v0.8h-0.8zM431.3 584.0h0.8v0.8h-0.8zM431.3 580.8h0.8v0.8h-0.8zM426.6 570.9h0.8v0.8h-0.8zM429.7 591.1h0.8v0.8h-0.8zM429.9 583.7h0.8v0.8h-0.8zM428.2 592.5h0.8v0.8h-0.8zM429.0 572.7h0.8v0.8h-0.8zM432.1 578.9h0.8v0.8h-0.8zM429.9 584.0h0.8v0.8h-0.8zM431.4 585.9h0.8v0.8h-0.8zM431.7 585.7h0.8v0.8h-0.8zM428.1 580.0h0.8v0.8h-0.8zM430.5 577.5h0.8v0.8h-0.8zM431.1 582.1h0.8v0.8h-0.8zM427.1 577.2h0.8v0.8h-0.8zM428.8 597.9h0.8v0.8h-0.8zM430.8 584.2h0.8v0.8h-0.8zM427.1 598.9h0.8v0.8h-0.8zM428.5 584.0h0.8v0.8h-0.8zM428.2 594.5h0.8v0.8h-0.8zM429.5 580.4h0.8v0.8h-0.8zM429.5 576.2h0.8v0.8h-0.8zM426.8 582.7h0.8v0.8h-0.8zM422.9 593.2h0.8v0.8h-0.8zM433.4 575.3h0.8v0.8h-0.8zM428.8 571.6h0.8v0.8h-0.8z" fill="#4a68c8" opacity="0.45"/>
<path d="M430.9 570.6h0.8v0.8h-0.8zM433.7 566.1h0.8v0.8h-0.8zM427.1 568.1h0.8v0.8h-0.8zM428.9 576.7h0.8v0.8h-0.8zM429.1 569.9h0.8v0.8h-0.8zM427.6 572.3h0.8v0.8h-0.8zM442.7 573.4h0.8v0.8h-0.8zM437.6 566.8h0.8v0.8h-0.8zM435.3 570.1h0.8v0.8h-0.8zM436.2 573.1h0.8v0.8h-0.8zM433.3 565.1h0.8v0.8h-0.8zM430.8 568.5h0.8v0.8h-0.8zM432.3 570.1h0.8v0.8h-0.8zM435.3 565.3h0.8v0.8h-0.8zM426.5 569.8h0.8v0.8h-0.8zM431.7 568.8h0.8v0.8h-0.8zM430.0 570.2h0.8v0.8h-0.8zM435.2 569.7h0.8v0.8h-0.8zM431.3 564.7h0.8v0.8h-0.8zM417.2 565.7h0.8v0.8h-0.8zM431.9 563.2h0.8v0.8h-0.8zM432.1 569.7h0.8v0.8h-0.8zM430.1 567.9h0.8v0.8h-0.8zM428.0 572.4h0.8v0.8h-0.8zM431.9 569.9h0.8v0.8h-0.8zM427.7 570.6h0.8v0.8h-0.8zM436.0 569.9h0.8v0.8h-0.8zM428.3 566.5h0.8v0.8h-0.8zM430.6 567.3h0.8v0.8h-0.8zM423.0 572.6h0.8v0.8h-0.8zM427.0 564.0h0.8v0.8h-0.8zM426.6 575.4h0.8v0.8h-0.8zM429.6 566.1h0.8v0.8h-0.8zM424.7 572.1h0.8v0.8h-0.8zM432.1 570.6h0.8v0.8h-0.8zM429.1 571.4h0.8v0.8h-0.8zM437.7 571.4h0.8v0.8h-0.8zM429.3 565.9h0.8v0.8h-0.8zM432.3 574.6h0.8v0.8h-0.8zM433.3 566.3h0.8v0.8h-0.8zM431.0 573.8h0.8v0.8h-0.8zM427.0 571.5h0.8v0.8h-0.8zM436.1 574.8h0.8v0.8h-0.8zM422.3 564.9h0.8v0.8h-0.8zM431.9 572.1h0.8v0.8h-0.8zM428.4 569.9h0.8v0.8h-0.8zM428.1 573.5h0.8v0.8h-0.8zM419.2 570.8h0.8v0.8h-0.8zM423.8 568.0h0.8v0.8h-0.8zM422.6 567.3h0.8v0.8h-0.8zM430.0 570.1h0.8v0.8h-0.8zM438.9 569.3h0.8v0.8h-0.8zM431.8 571.0h0.8v0.8h-0.8zM431.4 574.3h0.8v0.8h-0.8zM430.8 570.4h0.8v0.8h-0.8zM429.5 570.0h0.8v0.8h-0.8zM429.8 572.9h0.8v0.8h-0.8zM430.2 570.2h0.8v0.8h-0.8zM429.9 572.2h0.8v0.8h-0.8zM427.8 572.8h0.8v0.8h-0.8z" fill="#4a68c8" opacity="0.4"/>
<path d="M416.6 599.3h0.8v0.8h-0.8zM431.4 598.8h0.8v0.8h-0.8zM419.5 597.4h0.8v0.8h-0.8zM424.4 598.6h0.8v0.8h-0.8zM425.4 598.0h0.8v0.8h-0.8zM423.1 600.4h0.8v0.8h-0.8zM422.4 598.3h0.8v0.8h-0.8zM412.3 598.6h0.8v0.8h-0.8zM423.9 599.2h0.8v0.8h-0.8zM413.4 597.6h0.8v0.8h-0.8zM414.2 597.6h0.8v0.8h-0.8zM418.4 598.9h0.8v0.8h-0.8zM431.4 598.8h0.8v0.8h-0.8zM428.6 597.0h0.8v0.8h-0.8zM429.1 599.4h0.8v0.8h-0.8zM422.6 599.4h0.8v0.8h-0.8zM423.7 600.5h0.8v0.8h-0.8zM424.8 596.9h0.8v0.8h-0.8zM409.7 600.2h0.8v0.8h-0.8zM419.5 599.9h0.8v0.8h-0.8zM418.0 598.0h0.8v0.8h-0.8zM418.0 598.9h0.8v0.8h-0.8zM421.1 598.0h0.8v0.8h-0.8zM423.2 599.2h0.8v0.8h-0.8zM414.6 597.5h0.8v0.8h-0.8zM408.4 598.3h0.8v0.8h-0.8zM420.1 597.9h0.8v0.8h-0.8zM416.4 598.5h0.8v0.8h-0.8zM420.2 599.2h0.8v0.8h-0.8zM424.9 599.0h0.8v0.8h-0.8zM426.6 597.6h0.8v0.8h-0.8zM423.6 599.0h0.8v0.8h-0.8zM413.8 597.9h0.8v0.8h-0.8zM422.6 598.7h0.8v0.8h-0.8zM412.6 598.1h0.8v0.8h-0.8zM429.0 599.4h0.8v0.8h-0.8zM420.5 599.9h0.8v0.8h-0.8zM414.6 598.4h0.8v0.8h-0.8zM425.7 598.3h0.8v0.8h-0.8zM413.4 599.2h0.8v0.8h-0.8zM429.5 596.1h0.8v0.8h-0.8zM420.9 597.4h0.8v0.8h-0.8zM418.2 597.2h0.8v0.8h-0.8zM435.4 597.9h0.8v0.8h-0.8zM420.3 597.9h0.8v0.8h-0.8zM414.1 598.2h0.8v0.8h-0.8zM421.2 600.3h0.8v0.8h-0.8zM421.7 600.1h0.8v0.8h-0.8zM413.7 598.7h0.8v0.8h-0.8zM417.4 597.1h0.8v0.8h-0.8zM442.1 598.4h0.8v0.8h-0.8zM421.4 597.9h0.8v0.8h-0.8zM416.6 597.6h0.8v0.8h-0.8zM426.1 598.2h0.8v0.8h-0.8zM419.1 598.8h0.8v0.8h-0.8zM412.7 598.8h0.8v0.8h-0.8zM419.0 599.0h0.8v0.8h-0.8zM417.7 598.6h0.8v0.8h-0.8zM423.1 599.6h0.8v0.8h-0.8zM415.9 599.6h0.8v0.8h-0.8z" fill="#5a78cc" opacity="0.4"/>
<g filter="url(#dmap)" fill="#000"><ellipse cx="413.10" cy="570.40" rx="17.00" ry="0.70" fill-opacity="0.24"/><ellipse cx="429.10" cy="570.00" rx="7.00" ry="3.00" fill-opacity="0.2"/><ellipse cx="431.10" cy="569.80" rx="4.00" ry="1.60" fill-opacity="0.28"/><ellipse cx="429.10" cy="584.00" rx="1.60" ry="13.00" fill-opacity="0.06"/><ellipse cx="417.00" cy="598.90" rx="13.00" ry="1.00" fill-opacity="0.25"/><ellipse cx="404.00" cy="598.60" rx="4.00" ry="2.20" fill-opacity="0.5"/><ellipse cx="403.70" cy="598.60" rx="2.70" ry="1.30" fill-opacity="0.55"/><ellipse cx="403.70" cy="598.60" rx="1.90" ry="0.90" fill-opacity="0.6"/></g>
<text x="388.80" y="555.00" font-size="7" text-anchor="start" font-weight="normal" fill="#222" >0.22</text>
<text x="451.60" y="555.00" font-size="7" text-anchor="end" font-weight="normal" fill="#222" >2.94</text>
<text x="388.80" y="609.20" font-size="7" text-anchor="start" font-weight="normal" fill="#222" >95.9</text>
<text x="451.60" y="609.20" font-size="7" text-anchor="end" font-weight="normal" fill="#222" >0.94</text>
<line x1="477.50" y1="547.80" x2="477.50" y2="611.40" stroke="#b4b4b4" stroke-width="1" />
<line x1="453.60" y1="593.80" x2="519.40" y2="593.80" stroke="#b4b4b4" stroke-width="1" />
<path d="M491.6 574.6h0.8v0.8h-0.8zM495.5 576.2h0.8v0.8h-0.8zM486.4 570.7h0.8v0.8h-0.8zM494.4 580.1h0.8v0.8h-0.8zM492.6 583.0h0.8v0.8h-0.8zM488.8 575.9h0.8v0.8h-0.8zM496.9 575.6h0.8v0.8h-0.8zM495.9 580.1h0.8v0.8h-0.8zM492.2 578.4h0.8v0.8h-0.8zM498.7 574.3h0.8v0.8h-0.8zM487.0 569.6h0.8v0.8h-0.8zM492.0 570.3h0.8v0.8h-0.8zM496.5 571.5h0.8v0.8h-0.8zM503.6 578.3h0.8v0.8h-0.8zM490.5 574.1h0.8v0.8h-0.8zM500.3 578.9h0.8v0.8h-0.8zM491.5 580.6h0.8v0.8h-0.8zM493.4 586.4h0.8v0.8h-0.8zM493.1 578.4h0.8v0.8h-0.8zM497.0 573.3h0.8v0.8h-0.8zM494.5 581.2h0.8v0.8h-0.8zM496.7 575.2h0.8v0.8h-0.8zM496.5 584.1h0.8v0.8h-0.8zM498.2 577.9h0.8v0.8h-0.8zM496.1 567.8h0.8v0.8h-0.8zM495.5 573.1h0.8v0.8h-0.8zM497.5 572.5h0.8v0.8h-0.8zM496.6 570.3h0.8v0.8h-0.8zM498.1 571.9h0.8v0.8h-0.8zM494.9 578.4h0.8v0.8h-0.8z" fill="#7090d8" opacity="0.3"/>
<path d="M496.7 569.5h0.8v0.8h-0.8zM502.2 573.9h0.8v0.8h-0.8zM490.9 567.3h0.8v0.8h-0.8zM500.7 571.8h0.8v0.8h-0.8zM496.1 569.7h0.8v0.8h-0.8zM497.2 575.1h0.8v0.8h-0.8zM497.2 566.6h0.8v0.8h-0.8zM491.9 566.3h0.8v0.8h-0.8zM503.2 568.5h0.8v0.8h-0.8zM505.7 571.1h0.8v0.8h-0.8zM499.5 571.1h0.8v0.8h-0.8zM501.1 571.8h0.8v0.8h-0.8zM494.1 568.1h0.8v0.8h-0.8zM495.8 569.8h0.8v0.8h-0.8zM497.0 566.5h0.8v0.8h-0.8zM495.3 573.9h0.8v0.8h-0.8zM506.4 567.4h0.8v0.8h-0.8zM499.5 569.4h0.8v0.8h-0.8zM494.7 571.3h0.8v0.8h-0.8zM497.7 573.6h0.8v0.8h-0.8zM499.8 568.7h0.8v0.8h-0.8zM487.5 569.2h0.8v0.8h-0.8zM501.4 567.7h0.8v0.8h-0.8zM501.5 571.2h0.8v0.8h-0.8zM491.0 569.0h0.8v0.8h-0.8zM499.3 571.4h0.8v0.8h-0.8zM498.6 569.5h0.8v0.8h-0.8zM496.6 568.8h0.8v0.8h-0.8zM498.0 566.9h0.8v0.8h-0.8zM500.5 568.7h0.8v0.8h-0.8zM500.1 568.2h0.8v0.8h-0.8zM499.6 569.8h0.8v0.8h-0.8zM501.5 570.6h0.8v0.8h-0.8zM501.7 569.1h0.8v0.8h-0.8zM497.8 568.9h0.8v0.8h-0.8zM493.0 569.2h0.8v0.8h-0.8zM502.3 571.4h0.8v0.8h-0.8zM494.6 570.2h0.8v0.8h-0.8zM501.0 566.1h0.8v0.8h-0.8zM499.4 570.3h0.8v0.8h-0.8z" fill="#4a68c8" opacity="0.35"/>
<path d="M490.2 598.8h0.8v0.8h-0.8zM475.5 597.4h0.8v0.8h-0.8zM497.6 598.4h0.8v0.8h-0.8zM493.3 599.3h0.8v0.8h-0.8zM486.3 597.9h0.8v0.8h-0.8zM493.9 598.6h0.8v0.8h-0.8zM488.9 598.9h0.8v0.8h-0.8zM491.5 599.2h0.8v0.8h-0.8zM477.4 597.8h0.8v0.8h-0.8zM486.6 598.6h0.8v0.8h-0.8zM490.4 598.5h0.8v0.8h-0.8zM484.7 599.8h0.8v0.8h-0.8zM493.9 599.3h0.8v0.8h-0.8zM491.9 598.1h0.8v0.8h-0.8zM485.3 598.6h0.8v0.8h-0.8zM479.3 598.1h0.8v0.8h-0.8zM486.8 597.9h0.8v0.8h-0.8zM489.0 598.9h0.8v0.8h-0.8zM484.4 598.4h0.8v0.8h-0.8zM489.4 598.9h0.8v0.8h-0.8zM488.0 597.9h0.8v0.8h-0.8zM476.2 599.8h0.8v0.8h-0.8zM481.9 598.4h0.8v0.8h-0.8zM475.0 598.1h0.8v0.8h-0.8zM481.5 599.1h0.8v0.8h-0.8z" fill="#8098d8" opacity="0.3"/>
<g filter="url(#dmap)" fill="#000"><ellipse cx="498.00" cy="569.50" rx="6.00" ry="2.40" fill-opacity="0.18"/><ellipse cx="498.50" cy="569.50" rx="3.50" ry="1.30" fill-opacity="0.28"/><ellipse cx="472.80" cy="599.00" rx="5.00" ry="0.80" fill-opacity="0.3"/><ellipse cx="469.80" cy="598.60" rx="3.00" ry="1.70" fill-opacity="0.5"/><ellipse cx="469.60" cy="598.60" rx="1.90" ry="1.00" fill-opacity="0.55"/><ellipse cx="469.60" cy="598.60" rx="1.20" ry="0.70" fill-opacity="0.5"/></g>
<text x="454.80" y="555.00" font-size="7" text-anchor="start" font-weight="normal" fill="#222" >0.038</text>
<text x="518.40" y="555.00" font-size="7" text-anchor="end" font-weight="normal" fill="#222" >5.32</text>
<text x="454.80" y="609.20" font-size="7" text-anchor="start" font-weight="normal" fill="#222" >94.4</text>
<text x="518.40" y="609.20" font-size="7" text-anchor="end" font-weight="normal" fill="#222" >0.27</text>
<text x="248.90" y="556.50" font-size="6.9" text-anchor="end" fill="#333">10<tspan font-size="4.9" dy="-3.5">5</tspan></text>
<text x="248.90" y="571.10" font-size="6.9" text-anchor="end" fill="#333">10<tspan font-size="4.9" dy="-3.5">4</tspan></text>
<text x="248.90" y="589.00" font-size="6.9" text-anchor="end" fill="#333">10<tspan font-size="4.9" dy="-3.5">3</tspan></text>
<text x="248.50" y="601.80" font-size="6.9" text-anchor="end" font-weight="normal" fill="#333" >0</text>
<rect x="250.1" y="598.9" width="1.4" height="1.3" fill="#222"/>
<rect x="251.50" y="344.60" width="65.70" height="64.80" stroke="#b0b0b0" stroke-width="1" fill="none"/>
<rect x="318.00" y="344.60" width="66.00" height="64.80" stroke="#b0b0b0" stroke-width="1" fill="none"/>
<rect x="387.60" y="344.60" width="65.00" height="64.80" stroke="#b0b0b0" stroke-width="1" fill="none"/>
<rect x="453.60" y="344.60" width="65.80" height="64.80" stroke="#b0b0b0" stroke-width="1" fill="none"/>
<rect x="251.50" y="411.00" width="65.70" height="66.80" stroke="#b0b0b0" stroke-width="1" fill="none"/>
<rect x="318.00" y="411.00" width="66.00" height="66.80" stroke="#b0b0b0" stroke-width="1" fill="none"/>
<rect x="387.60" y="411.00" width="65.00" height="66.80" stroke="#b0b0b0" stroke-width="1" fill="none"/>
<rect x="453.60" y="411.00" width="65.80" height="66.80" stroke="#b0b0b0" stroke-width="1" fill="none"/>
<rect x="251.50" y="479.80" width="65.70" height="65.40" stroke="#b0b0b0" stroke-width="1" fill="none"/>
<rect x="318.00" y="479.80" width="66.00" height="65.40" stroke="#b0b0b0" stroke-width="1" fill="none"/>
<rect x="387.60" y="479.80" width="65.00" height="65.40" stroke="#b0b0b0" stroke-width="1" fill="none"/>
<rect x="453.60" y="479.80" width="65.80" height="65.40" stroke="#b0b0b0" stroke-width="1" fill="none"/>
<rect x="251.50" y="547.80" width="65.70" height="63.60" stroke="#b0b0b0" stroke-width="1" fill="none"/>
<rect x="318.00" y="547.80" width="66.00" height="63.60" stroke="#b0b0b0" stroke-width="1" fill="none"/>
<rect x="387.60" y="547.80" width="65.00" height="63.60" stroke="#b0b0b0" stroke-width="1" fill="none"/>
<rect x="453.60" y="547.80" width="65.80" height="63.60" stroke="#b0b0b0" stroke-width="1" fill="none"/>
<text x="266.10" y="624.20" font-size="6.9" text-anchor="middle" font-weight="normal" fill="#333" >0</text>
<rect x="264.9" y="613.4" width="1.3" height="1.3" fill="#222"/>
<text x="272.90" y="624.20" font-size="6.9" text-anchor="start" fill="#333">10<tspan font-size="4.9" dy="-3.5">3</tspan></text>
<text x="290.40" y="624.20" font-size="6.9" text-anchor="start" fill="#333">10<tspan font-size="4.9" dy="-3.5">4</tspan></text>
<text x="305.40" y="624.20" font-size="6.9" text-anchor="start" fill="#333">10<tspan font-size="4.9" dy="-3.5">5</tspan></text>
<text x="332.60" y="624.20" font-size="6.9" text-anchor="middle" font-weight="normal" fill="#333" >0</text>
<rect x="331.4" y="613.4" width="1.3" height="1.3" fill="#222"/>
<text x="339.40" y="624.20" font-size="6.9" text-anchor="start" fill="#333">10<tspan font-size="4.9" dy="-3.5">3</tspan></text>
<text x="356.90" y="624.20" font-size="6.9" text-anchor="start" fill="#333">10<tspan font-size="4.9" dy="-3.5">4</tspan></text>
<text x="371.90" y="624.20" font-size="6.9" text-anchor="start" fill="#333">10<tspan font-size="4.9" dy="-3.5">5</tspan></text>
<text x="402.20" y="624.20" font-size="6.9" text-anchor="middle" font-weight="normal" fill="#333" >0</text>
<rect x="401.0" y="613.4" width="1.3" height="1.3" fill="#222"/>
<text x="409.00" y="624.20" font-size="6.9" text-anchor="start" fill="#333">10<tspan font-size="4.9" dy="-3.5">3</tspan></text>
<text x="426.50" y="624.20" font-size="6.9" text-anchor="start" fill="#333">10<tspan font-size="4.9" dy="-3.5">4</tspan></text>
<text x="441.50" y="624.20" font-size="6.9" text-anchor="start" fill="#333">10<tspan font-size="4.9" dy="-3.5">5</tspan></text>
<text x="468.20" y="624.20" font-size="6.9" text-anchor="middle" font-weight="normal" fill="#333" >0</text>
<rect x="467.0" y="613.4" width="1.3" height="1.3" fill="#222"/>
<text x="475.00" y="624.20" font-size="6.9" text-anchor="start" fill="#333">10<tspan font-size="4.9" dy="-3.5">3</tspan></text>
<text x="492.50" y="624.20" font-size="6.9" text-anchor="start" fill="#333">10<tspan font-size="4.9" dy="-3.5">4</tspan></text>
<text x="507.50" y="624.20" font-size="6.9" text-anchor="start" fill="#333">10<tspan font-size="4.9" dy="-3.5">5</tspan></text>
<text x="386.00" y="632.20" font-size="9" text-anchor="middle" font-weight="normal" fill="#111" >Annexin V</text>
<line x1="251.00" y1="628.80" x2="363.75" y2="628.80" stroke="#9c9c9c" stroke-width="1" />
<line x1="408.25" y1="628.80" x2="519.00" y2="628.80" stroke="#9c9c9c" stroke-width="1" />
<line x1="234.80" y1="345.00" x2="234.80" y2="612.00" stroke="#b0b0b0" stroke-width="1" />
<text x="0" y="0" font-size="9" text-anchor="middle" fill="#222" transform="translate(235.5,478.8) rotate(-90)">PI</text>
</svg>
</body></html>
